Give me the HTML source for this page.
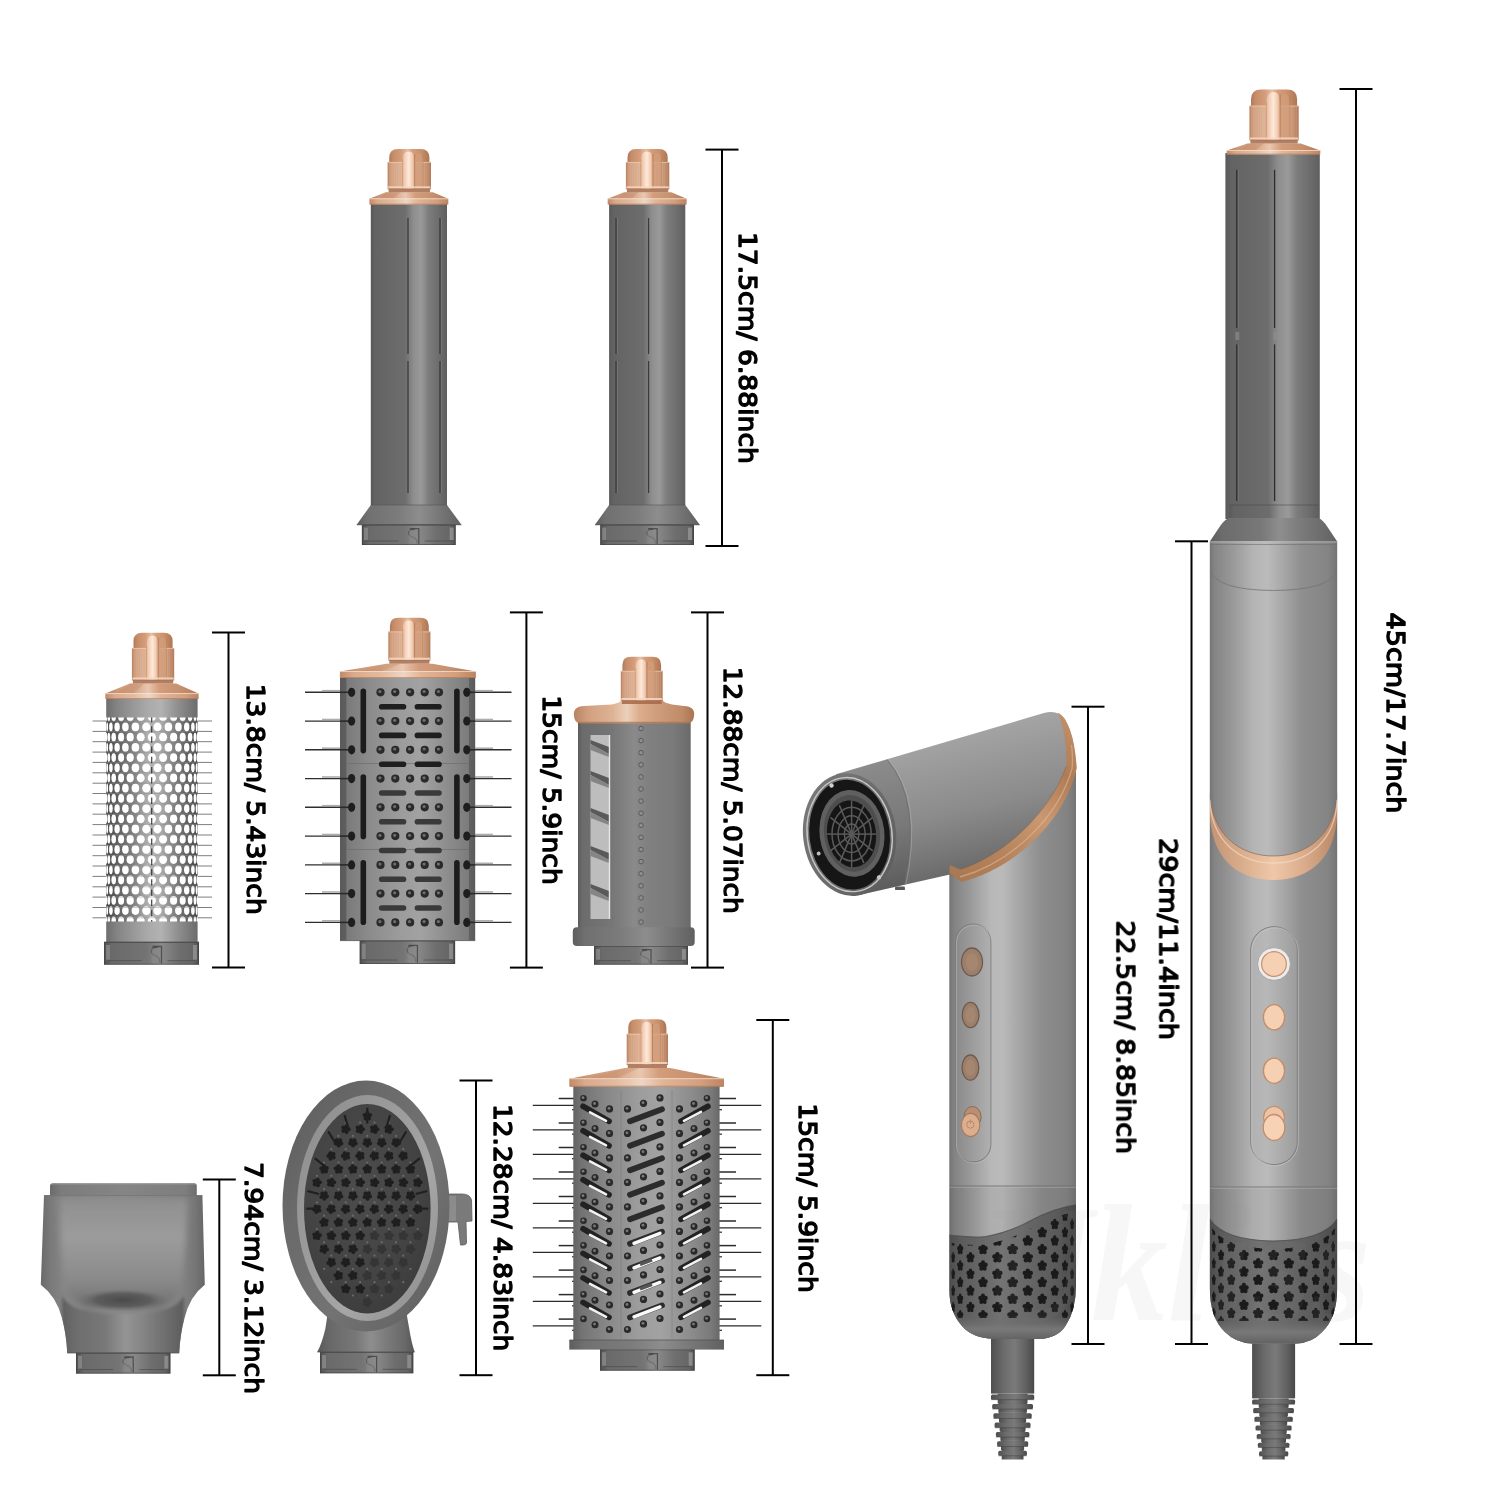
<!DOCTYPE html>
<html lang="en"><head><meta charset="utf-8"><title>Hair styler attachment dimensions</title>
<style>
html,body{margin:0;padding:0;background:#fff}
body{width:1500px;height:1500px;overflow:hidden}
svg{display:block}
.lbl{font-family:"DejaVu Sans","Liberation Sans",sans-serif;font-weight:400;fill:#000;stroke:#000;stroke-width:1.4px;stroke-linejoin:round}
#dims{opacity:.999}
.wm{font-family:"Liberation Serif","DejaVu Serif",serif;font-style:italic;font-weight:700}
</style></head><body>
<svg width="1500" height="1500" viewBox="0 0 1500 1500">
<defs>
<linearGradient id="gB" x1="0" y1="0" x2="1" y2="0"><stop offset="0" stop-color="#595959"/><stop offset="0.06" stop-color="#636363"/><stop offset="0.45" stop-color="#6d6d6d"/><stop offset="0.56" stop-color="#8e8e8e"/><stop offset="0.66" stop-color="#9a9a9a"/><stop offset="0.76" stop-color="#7c7c7c"/><stop offset="0.9" stop-color="#6c6c6c"/><stop offset="1" stop-color="#5f5f5f"/></linearGradient>
<linearGradient id="gM" x1="0" y1="0" x2="1" y2="0"><stop offset="0" stop-color="#5e5e5e"/><stop offset="0.1" stop-color="#707070"/><stop offset="0.4" stop-color="#7c7c7c"/><stop offset="0.6" stop-color="#8d8d8d"/><stop offset="0.8" stop-color="#767676"/><stop offset="1" stop-color="#606060"/></linearGradient>
<linearGradient id="gC" x1="0" y1="0" x2="1" y2="0"><stop offset="0" stop-color="#4f4f4f"/><stop offset="0.08" stop-color="#6a6a6a"/><stop offset="0.45" stop-color="#747474"/><stop offset="0.6" stop-color="#8a8a8a"/><stop offset="0.8" stop-color="#6e6e6e"/><stop offset="0.94" stop-color="#666"/><stop offset="1" stop-color="#4c4c4c"/></linearGradient>
<linearGradient id="cu" x1="0" y1="0" x2="1" y2="0"><stop offset="0" stop-color="#b88260"/><stop offset="0.12" stop-color="#d2a080"/><stop offset="0.32" stop-color="#deb294"/><stop offset="0.44" stop-color="#ecd0ba"/><stop offset="0.55" stop-color="#dcac8b"/><stop offset="0.75" stop-color="#ca9777"/><stop offset="0.9" stop-color="#c08c67"/><stop offset="1" stop-color="#a97351"/></linearGradient>
<linearGradient id="gH" x1="0" y1="0" x2="1" y2="0"><stop offset="0" stop-color="#747474"/><stop offset="0.04" stop-color="#838383"/><stop offset="0.18" stop-color="#9c9c9c"/><stop offset="0.33" stop-color="#b8b8b8"/><stop offset="0.42" stop-color="#bababa"/><stop offset="0.54" stop-color="#a8a8a8"/><stop offset="0.72" stop-color="#8e8e8e"/><stop offset="0.93" stop-color="#838383"/><stop offset="1" stop-color="#757575"/></linearGradient>
<linearGradient id="gS" x1="0" y1="0" x2="1" y2="0"><stop offset="0" stop-color="#767676"/><stop offset="0.04" stop-color="#858585"/><stop offset="0.2" stop-color="#9c9c9c"/><stop offset="0.34" stop-color="#b4b4b4"/><stop offset="0.45" stop-color="#bbbbbb"/><stop offset="0.56" stop-color="#aaaaaa"/><stop offset="0.72" stop-color="#8f8f8f"/><stop offset="0.93" stop-color="#848484"/><stop offset="1" stop-color="#747474"/></linearGradient>
<linearGradient id="gF" x1="0" y1="0" x2="1" y2="0"><stop offset="0" stop-color="#4d4d4d"/><stop offset="0.1" stop-color="#5c5c5c"/><stop offset="0.4" stop-color="#727272"/><stop offset="0.55" stop-color="#6a6a6a"/><stop offset="0.85" stop-color="#5a5a5a"/><stop offset="1" stop-color="#484848"/></linearGradient>
<linearGradient id="gK" x1="0" y1="0" x2="1" y2="0"><stop offset="0" stop-color="#4e4e4e"/><stop offset="0.3" stop-color="#6c6c6c"/><stop offset="0.55" stop-color="#7a7a7a"/><stop offset="0.8" stop-color="#626262"/><stop offset="1" stop-color="#484848"/></linearGradient>
<linearGradient id="cuD" x1="0" y1="0" x2="1" y2="0"><stop offset="0" stop-color="#b27958"/><stop offset="0.1" stop-color="#c68d6a"/><stop offset="0.3" stop-color="#d49c79"/><stop offset="0.46" stop-color="#e6bfa4"/><stop offset="0.58" stop-color="#d69f7c"/><stop offset="0.8" stop-color="#c78f6a"/><stop offset="1" stop-color="#af7653"/></linearGradient>
<linearGradient id="cuK" x1="0" y1="0" x2="1" y2="0"><stop offset="0" stop-color="#bb8361"/><stop offset="0.08" stop-color="#d19f7f"/><stop offset="0.3" stop-color="#ddb093"/><stop offset="0.62" stop-color="#d6a687"/><stop offset="0.85" stop-color="#cb9878"/><stop offset="1" stop-color="#b37b59"/></linearGradient>
<linearGradient id="cuR" x1="0" y1="0" x2="1" y2="0"><stop offset="0" stop-color="#e9bc9e"/><stop offset="0.25" stop-color="#f6d5bf"/><stop offset="0.5" stop-color="#fde9da"/><stop offset="0.8" stop-color="#f3cdb3"/><stop offset="1" stop-color="#dba787"/></linearGradient>
<linearGradient id="cuF" x1="0" y1="0" x2="1" y2="0"><stop offset="0" stop-color="#b77e5b"/><stop offset="0.12" stop-color="#cd9877"/><stop offset="0.3" stop-color="#d5a383"/><stop offset="0.46" stop-color="#e9c7af"/><stop offset="0.58" stop-color="#d39d7c"/><stop offset="0.8" stop-color="#c6916f"/><stop offset="1" stop-color="#b37a57"/></linearGradient>
<linearGradient id="cuE" x1="0" y1="0" x2="1" y2="0"><stop offset="0" stop-color="#c18a68"/><stop offset="0.1" stop-color="#daaa8c"/><stop offset="0.3" stop-color="#e3ba9f"/><stop offset="0.47" stop-color="#eed5c3"/><stop offset="0.6" stop-color="#e1b597"/><stop offset="0.85" stop-color="#d39f7e"/><stop offset="1" stop-color="#bc8462"/></linearGradient>
<linearGradient id="mSkin" x1="0" y1="0" x2="1" y2="0"><stop offset="0" stop-color="#4a4a4a"/><stop offset="0.1" stop-color="#5c5c5c"/><stop offset="0.3" stop-color="#808080"/><stop offset="0.47" stop-color="#b4b4b4"/><stop offset="0.58" stop-color="#b0b0b0"/><stop offset="0.75" stop-color="#808080"/><stop offset="0.9" stop-color="#5e5e5e"/><stop offset="1" stop-color="#484848"/></linearGradient>
<linearGradient id="mBand" x1="0" y1="0" x2="1" y2="0"><stop offset="0" stop-color="#6e6e6e"/><stop offset="0.12" stop-color="#848484"/><stop offset="0.45" stop-color="#a9a9a9"/><stop offset="0.6" stop-color="#b2b2b2"/><stop offset="0.8" stop-color="#8c8c8c"/><stop offset="1" stop-color="#6c6c6c"/></linearGradient>
<linearGradient id="pB" x1="0" y1="0" x2="1" y2="0"><stop offset="0" stop-color="#5a5a5a"/><stop offset="0.045" stop-color="#5e5e5e"/><stop offset="0.05" stop-color="#7a7a7a"/><stop offset="0.2" stop-color="#8a8a8a"/><stop offset="0.45" stop-color="#9c9c9c"/><stop offset="0.6" stop-color="#a2a2a2"/><stop offset="0.8" stop-color="#8c8c8c"/><stop offset="0.95" stop-color="#7c7c7c"/><stop offset="0.955" stop-color="#626262"/><stop offset="1" stop-color="#5a5a5a"/></linearGradient>
<linearGradient id="sB" x1="0" y1="0" x2="1" y2="0"><stop offset="0" stop-color="#5c5c5c"/><stop offset="0.04" stop-color="#6c6c6c"/><stop offset="0.3" stop-color="#767676"/><stop offset="0.5" stop-color="#8a8a8a"/><stop offset="0.62" stop-color="#808080"/><stop offset="0.85" stop-color="#7a7a7a"/><stop offset="1" stop-color="#6a6a6a"/></linearGradient>
<linearGradient id="nzLip" x1="0" y1="0" x2="1" y2="0"><stop offset="0" stop-color="#6c6c6c"/><stop offset="0.08" stop-color="#7c7c7c"/><stop offset="0.5" stop-color="#858585"/><stop offset="0.92" stop-color="#7e7e7e"/><stop offset="1" stop-color="#6e6e6e"/></linearGradient>
<linearGradient id="nzB" x1="0" y1="0" x2="1" y2="0"><stop offset="0" stop-color="#6a6a6a"/><stop offset="0.06" stop-color="#7a7a7a"/><stop offset="0.14" stop-color="#858585"/><stop offset="0.5" stop-color="#8a8a8a"/><stop offset="0.86" stop-color="#828282"/><stop offset="0.94" stop-color="#767676"/><stop offset="1" stop-color="#666"/></linearGradient>
<linearGradient id="nzFace" x1="0" y1="0" x2="0" y2="1"><stop offset="0" stop-color="#8f8f8f"/><stop offset=".35" stop-color="#9c9c9c"/><stop offset=".75" stop-color="#8a8a8a"/><stop offset="1" stop-color="#6e6e6e"/></linearGradient>
<filter id="bl3" x="-10%" y="-10%" width="120%" height="120%"><feGaussianBlur stdDeviation="3"/></filter>
<filter id="bl15" x="-10%" y="-10%" width="120%" height="120%"><feGaussianBlur stdDeviation="1.5"/></filter>
<clipPath id="nzClip"><path d="M44 1195.2 L202.4 1195.2 L204.8 1284.8 Q190 1296 184.5 1318 Q180 1335 179.2 1352.8 L67.2 1352.8 Q66.5 1335 62 1318 Q56 1296 40.8 1284.8 Z"/></clipPath>
<radialGradient id="nzSh" cx=".5" cy=".5" r=".5"><stop offset="0" stop-color="#4a4a4a"/><stop offset=".6" stop-color="#585858" stop-opacity=".85"/><stop offset="1" stop-color="#707070" stop-opacity="0"/></radialGradient>
<linearGradient id="nzN" x1="0" y1="0" x2="1" y2="0"><stop offset="0" stop-color="#5e5e5e"/><stop offset="0.1" stop-color="#6c6c6c"/><stop offset="0.35" stop-color="#787878"/><stop offset="0.52" stop-color="#949494"/><stop offset="0.65" stop-color="#868686"/><stop offset="0.85" stop-color="#6e6e6e"/><stop offset="1" stop-color="#5c5c5c"/></linearGradient>
<linearGradient id="dfN" x1="0" y1="0" x2="1" y2="0"><stop offset="0" stop-color="#585858"/><stop offset="0.12" stop-color="#686868"/><stop offset="0.4" stop-color="#787878"/><stop offset="0.55" stop-color="#8e8e8e"/><stop offset="0.7" stop-color="#7c7c7c"/><stop offset="0.9" stop-color="#686868"/><stop offset="1" stop-color="#565656"/></linearGradient>
<linearGradient id="dfRim" x1="0" y1="0" x2="1" y2="1"><stop offset="0" stop-color="#5c5c5c"/><stop offset=".3" stop-color="#6a6a6a"/><stop offset=".6" stop-color="#737373"/><stop offset="1" stop-color="#5e5e5e"/></linearGradient>
<linearGradient id="dfBev" x1="0" y1="0" x2="1" y2="1"><stop offset="0" stop-color="#8c8c8c"/><stop offset=".35" stop-color="#9a9a9a"/><stop offset=".65" stop-color="#a6a6a6"/><stop offset="1" stop-color="#8a8a8a"/></linearGradient>
<radialGradient id="dfPad" cx=".45" cy=".4" r=".7"><stop offset="0" stop-color="#4c4c4c"/><stop offset=".6" stop-color="#444"/><stop offset="1" stop-color="#3a3a3a"/></radialGradient>
<clipPath id="dfClip"><ellipse cx="367.3" cy="1208.7" rx="60" ry="101"/></clipPath>
<linearGradient id="rB" x1="0" y1="0" x2="1" y2="0"><stop offset="0" stop-color="#636363"/><stop offset="0.06" stop-color="#747474"/><stop offset="0.25" stop-color="#8a8a8a"/><stop offset="0.45" stop-color="#9d9d9d"/><stop offset="0.6" stop-color="#a2a2a2"/><stop offset="0.8" stop-color="#8d8d8d"/><stop offset="0.94" stop-color="#7a7a7a"/><stop offset="1" stop-color="#686868"/></linearGradient>
<clipPath id="dhClip"><path d="M949.3 800 L1076.0 766 L1076.0 1285 Q1076.0 1310 1066 1325 Q1058 1338.6 1038 1339 L994 1339 Q972 1338 962 1326 Q949.3 1312 949.3 1290 Z"/></clipPath>
<clipPath id="dfilt"><path d="M951.3 1243 Q970 1246 986 1244.5 Q1010 1240 1030 1229 Q1054 1216 1074.0 1212 L1074.0 1318 L951.3 1318 Z"/></clipPath>
<linearGradient id="dLip" x1="0" y1="0" x2="0" y2="1"><stop offset="0" stop-color="#6a6a6a" stop-opacity="0"/><stop offset=".5" stop-color="#7a7a7a" stop-opacity=".9"/><stop offset="1" stop-color="#5c5c5c"/></linearGradient>
<linearGradient id="dHead" gradientUnits="userSpaceOnUse" x1="935" y1="742" x2="968" y2="884"><stop offset="0" stop-color="#a3a3a3"/><stop offset=".18" stop-color="#9a9a9a"/><stop offset=".5" stop-color="#8b8b8b"/><stop offset=".8" stop-color="#747474"/><stop offset="1" stop-color="#626262"/></linearGradient>
<linearGradient id="dTrim" gradientUnits="userSpaceOnUse" x1="1076" y1="720" x2="955" y2="880"><stop offset="0" stop-color="#c49068"/><stop offset=".25" stop-color="#b07c56"/><stop offset=".5" stop-color="#c99871"/><stop offset=".75" stop-color="#b5835c"/><stop offset="1" stop-color="#a87852"/></linearGradient>
<linearGradient id="dFace" x1="0" y1="0" x2="1" y2="1"><stop offset="0" stop-color="#7c7c7c"/><stop offset=".5" stop-color="#6c6c6c"/><stop offset="1" stop-color="#5a5a5a"/></linearGradient>
<linearGradient id="stSh" x1="0" y1="0" x2="1" y2="0"><stop offset="0" stop-color="#5e5e5e"/><stop offset="0.1" stop-color="#6c6c6c"/><stop offset="0.4" stop-color="#787878"/><stop offset="0.55" stop-color="#8e8e8e"/><stop offset="0.7" stop-color="#7c7c7c"/><stop offset="1" stop-color="#626262"/></linearGradient>
<clipPath id="stClip"><path d="M1209.8 541 L1337.2 541 L1337.2 1288 Q1337.2 1318 1322 1332 Q1312 1343 1296 1343.5 L1252 1343.5 Q1236 1343 1225 1332 Q1209.8 1318 1209.8 1288 Z"/></clipPath>
<linearGradient id="stBand" x1="0" y1="0" x2="1" y2="0"><stop offset="0" stop-color="#c39372"/><stop offset=".25" stop-color="#d9ad8c"/><stop offset=".5" stop-color="#efc8a8"/><stop offset=".75" stop-color="#d9ab8a"/><stop offset="1" stop-color="#b98865"/></linearGradient>
<clipPath id="sfilt"><path d="M1211.8 1228 Q1225.8 1248.5 1273.5 1249 Q1321.2 1248.5 1335.2 1228 L1335.2 1321 L1211.8 1321 Z"/></clipPath>
</defs>
<rect width="1500" height="1500" fill="#fff"/>
<g id="barrel1">
<rect x="370.8" y="203.6" width="76.2" height="301.4" fill="url(#gB)"/>
<line x1="408.0" y1="218.0" x2="408.0" y2="354.0" stroke="#3a3a3a" stroke-width="1.3"/>
<line x1="409.4" y1="218.0" x2="409.4" y2="354.0" stroke="#8a8a8a" stroke-width="0.8" opacity=".6"/>
<line x1="408.0" y1="361.0" x2="408.0" y2="493.0" stroke="#3a3a3a" stroke-width="1.3"/>
<line x1="409.4" y1="361.0" x2="409.4" y2="493.0" stroke="#8a8a8a" stroke-width="0.8" opacity=".6"/>
<line x1="440.0" y1="218.0" x2="440.0" y2="354.0" stroke="#3a3a3a" stroke-width="1.3"/>
<line x1="441.4" y1="218.0" x2="441.4" y2="354.0" stroke="#8a8a8a" stroke-width="0.8" opacity=".6"/>
<line x1="440.0" y1="361.0" x2="440.0" y2="493.0" stroke="#3a3a3a" stroke-width="1.3"/>
<line x1="441.4" y1="361.0" x2="441.4" y2="493.0" stroke="#8a8a8a" stroke-width="0.8" opacity=".6"/>
<path d="M370.8 505.0 L447.0 505.0 L461.3 524.6 L356.8 524.6 Z" fill="url(#gM)"/>
<line x1="370.8" y1="505.0" x2="447.0" y2="505.0" stroke="#555" stroke-width="1" opacity=".6"/>
<rect x="361.9" y="524.6" width="93.8" height="20.4" fill="url(#gC)"/>
<rect x="362.4" y="525.1" width="92.8" height="19.4" fill="none" stroke="#3e3e3e" stroke-width="1" opacity=".55"/>
<path d="M414.8 529.1 q-6 0 -6 4.1 q0 3.1 5 4.1 q4 2.4 3 6.1" fill="none" stroke="#444" stroke-width="1.3" opacity=".8"/>
<path d="M409.8 528.7 h9 v15.3" fill="none" stroke="#444" stroke-width="1.3" opacity=".8"/>
<rect x="408.8" y="530.3" width="9.0" height="13.5" fill="#8a8a8a" opacity=".6"/>
<line x1="365.9" y1="541.0" x2="398.8" y2="541.0" stroke="#444" stroke-width="1" opacity=".6"/>
<line x1="424.8" y1="541.0" x2="451.7" y2="541.0" stroke="#444" stroke-width="1" opacity=".6"/>
<rect x="363.9" y="527.6" width="4.0" height="12.4" fill="#9a9a9a" opacity=".6"/>
<rect x="449.7" y="527.6" width="4.0" height="12.4" fill="#a6a6a6" opacity=".6"/>
<line x1="356.8" y1="524.6" x2="461.3" y2="524.6" stroke="#4a4a4a" stroke-width="1.2" opacity=".8"/>
<path d="M385.6 192.3 L433.0 192.3 L448.3 198.8 L369.4 198.8 Z" fill="url(#cuF)"/>
<path d="M386.6 192.3 L400.6 192.3 L393.1 198.8 L378.9 198.8 Z" fill="#c18865" opacity=".35"/>
<rect x="369.4" y="198.5" width="78.9" height="6.1" fill="url(#cuE)"/>
<line x1="369.4" y1="198.8" x2="448.3" y2="198.8" stroke="#fbe4d4" stroke-width="0.9" opacity=".75"/>
<line x1="370.4" y1="204.1" x2="447.3" y2="204.1" stroke="#a56c4c" stroke-width="1" opacity=".55"/>
<path d="M389.2 163.0 L389.2 157.7 Q389.2 149.0 397.9 149.0 L420.7 149.0 Q429.4 149.0 429.4 157.7 L429.4 163.0 Z" fill="url(#cuD)"/>
<rect x="387.6" y="162.0" width="43.4" height="27.3" fill="url(#cuK)"/>
<line x1="389.9" y1="163.0" x2="389.9" y2="187.3" stroke="#fff" stroke-width="0.5" opacity=".16"/>
<line x1="392.2" y1="163.0" x2="392.2" y2="187.3" stroke="#fff" stroke-width="0.5" opacity=".16"/>
<line x1="394.5" y1="163.0" x2="394.5" y2="187.3" stroke="#fff" stroke-width="0.5" opacity=".16"/>
<line x1="396.7" y1="163.0" x2="396.7" y2="187.3" stroke="#fff" stroke-width="0.5" opacity=".16"/>
<line x1="399.0" y1="163.0" x2="399.0" y2="187.3" stroke="#fff" stroke-width="0.5" opacity=".16"/>
<line x1="401.3" y1="163.0" x2="401.3" y2="187.3" stroke="#fff" stroke-width="0.5" opacity=".16"/>
<line x1="403.6" y1="163.0" x2="403.6" y2="187.3" stroke="#fff" stroke-width="0.5" opacity=".16"/>
<line x1="405.9" y1="163.0" x2="405.9" y2="187.3" stroke="#fff" stroke-width="0.5" opacity=".16"/>
<line x1="408.2" y1="163.0" x2="408.2" y2="187.3" stroke="#fff" stroke-width="0.5" opacity=".16"/>
<line x1="410.4" y1="163.0" x2="410.4" y2="187.3" stroke="#fff" stroke-width="0.5" opacity=".16"/>
<line x1="412.7" y1="163.0" x2="412.7" y2="187.3" stroke="#fff" stroke-width="0.5" opacity=".16"/>
<line x1="415.0" y1="163.0" x2="415.0" y2="187.3" stroke="#fff" stroke-width="0.5" opacity=".16"/>
<line x1="417.3" y1="163.0" x2="417.3" y2="187.3" stroke="#fff" stroke-width="0.5" opacity=".16"/>
<line x1="419.6" y1="163.0" x2="419.6" y2="187.3" stroke="#fff" stroke-width="0.5" opacity=".16"/>
<line x1="421.9" y1="163.0" x2="421.9" y2="187.3" stroke="#fff" stroke-width="0.5" opacity=".16"/>
<line x1="424.1" y1="163.0" x2="424.1" y2="187.3" stroke="#fff" stroke-width="0.5" opacity=".16"/>
<line x1="426.4" y1="163.0" x2="426.4" y2="187.3" stroke="#fff" stroke-width="0.5" opacity=".16"/>
<line x1="428.7" y1="163.0" x2="428.7" y2="187.3" stroke="#fff" stroke-width="0.5" opacity=".16"/>
<line x1="387.6" y1="162.4" x2="431.0" y2="162.4" stroke="#f6d6c0" stroke-width="0.9" opacity=".7"/>
<path d="M414.9 188.3 L414.9 159.4 Q414.9 153.0 418.8 153.0 Q422.8 153.0 422.8 159.4 L422.8 188.3 Z" fill="#d39d7b" opacity=".75"/>
<path d="M402.8 189.3 L402.8 158.7 Q402.8 151.6 408.6 151.6 Q414.5 151.6 414.5 158.7 L414.5 189.3 Z" fill="url(#cuR)"/>
<line x1="414.7" y1="154.0" x2="414.7" y2="189.3" stroke="#b07654" stroke-width="1" opacity=".75"/>
<line x1="402.6" y1="159.4" x2="402.6" y2="189.3" stroke="#c48c69" stroke-width="0.9" opacity=".6"/>
<line x1="423.0" y1="155.0" x2="423.0" y2="189.3" stroke="#b98360" stroke-width="0.9" opacity=".55"/>
<rect x="388.1" y="186.3" width="42.4" height="2.2" fill="#f6d8c2" opacity=".85"/>
<rect x="388.6" y="188.5" width="41.4" height="3.8" fill="#a4694a" opacity=".85"/>
</g>
<g id="barrel2">
<rect x="609.1" y="203.6" width="76.2" height="301.4" fill="url(#gB)"/>
<line x1="648.6" y1="218.0" x2="648.6" y2="354.0" stroke="#3a3a3a" stroke-width="1.3"/>
<line x1="650.0" y1="218.0" x2="650.0" y2="354.0" stroke="#8a8a8a" stroke-width="0.8" opacity=".6"/>
<line x1="648.6" y1="361.0" x2="648.6" y2="493.0" stroke="#3a3a3a" stroke-width="1.3"/>
<line x1="650.0" y1="361.0" x2="650.0" y2="493.0" stroke="#8a8a8a" stroke-width="0.8" opacity=".6"/>
<line x1="616.0" y1="218.0" x2="616.0" y2="354.0" stroke="#3a3a3a" stroke-width="1.3"/>
<line x1="617.4" y1="218.0" x2="617.4" y2="354.0" stroke="#8a8a8a" stroke-width="0.8" opacity=".6"/>
<line x1="616.0" y1="361.0" x2="616.0" y2="493.0" stroke="#3a3a3a" stroke-width="1.3"/>
<line x1="617.4" y1="361.0" x2="617.4" y2="493.0" stroke="#8a8a8a" stroke-width="0.8" opacity=".6"/>
<path d="M609.1 505.0 L685.3 505.0 L699.6 524.6 L595.1 524.6 Z" fill="url(#gM)"/>
<line x1="609.1" y1="505.0" x2="685.3" y2="505.0" stroke="#555" stroke-width="1" opacity=".6"/>
<rect x="600.2" y="524.6" width="93.8" height="20.4" fill="url(#gC)"/>
<rect x="600.7" y="525.1" width="92.8" height="19.4" fill="none" stroke="#3e3e3e" stroke-width="1" opacity=".55"/>
<path d="M653.1 529.1 q-6 0 -6 4.1 q0 3.1 5 4.1 q4 2.4 3 6.1" fill="none" stroke="#444" stroke-width="1.3" opacity=".8"/>
<path d="M648.1 528.7 h9 v15.3" fill="none" stroke="#444" stroke-width="1.3" opacity=".8"/>
<rect x="647.1" y="530.3" width="9.0" height="13.5" fill="#8a8a8a" opacity=".6"/>
<line x1="604.2" y1="541.0" x2="637.1" y2="541.0" stroke="#444" stroke-width="1" opacity=".6"/>
<line x1="663.1" y1="541.0" x2="690.0" y2="541.0" stroke="#444" stroke-width="1" opacity=".6"/>
<rect x="602.2" y="527.6" width="4.0" height="12.4" fill="#9a9a9a" opacity=".6"/>
<rect x="688.0" y="527.6" width="4.0" height="12.4" fill="#a6a6a6" opacity=".6"/>
<line x1="595.1" y1="524.6" x2="699.6" y2="524.6" stroke="#4a4a4a" stroke-width="1.2" opacity=".8"/>
<path d="M623.9 192.3 L671.3 192.3 L686.6 198.8 L607.7 198.8 Z" fill="url(#cuF)"/>
<path d="M624.9 192.3 L638.9 192.3 L631.4 198.8 L617.2 198.8 Z" fill="#c18865" opacity=".35"/>
<rect x="607.7" y="198.5" width="78.9" height="6.1" fill="url(#cuE)"/>
<line x1="607.7" y1="198.8" x2="686.6" y2="198.8" stroke="#fbe4d4" stroke-width="0.9" opacity=".75"/>
<line x1="608.7" y1="204.1" x2="685.6" y2="204.1" stroke="#a56c4c" stroke-width="1" opacity=".55"/>
<path d="M627.5 163.0 L627.5 157.7 Q627.5 149.0 636.2 149.0 L659.0 149.0 Q667.7 149.0 667.7 157.7 L667.7 163.0 Z" fill="url(#cuD)"/>
<rect x="625.9" y="162.0" width="43.4" height="27.3" fill="url(#cuK)"/>
<line x1="628.2" y1="163.0" x2="628.2" y2="187.3" stroke="#fff" stroke-width="0.5" opacity=".16"/>
<line x1="630.5" y1="163.0" x2="630.5" y2="187.3" stroke="#fff" stroke-width="0.5" opacity=".16"/>
<line x1="632.8" y1="163.0" x2="632.8" y2="187.3" stroke="#fff" stroke-width="0.5" opacity=".16"/>
<line x1="635.0" y1="163.0" x2="635.0" y2="187.3" stroke="#fff" stroke-width="0.5" opacity=".16"/>
<line x1="637.3" y1="163.0" x2="637.3" y2="187.3" stroke="#fff" stroke-width="0.5" opacity=".16"/>
<line x1="639.6" y1="163.0" x2="639.6" y2="187.3" stroke="#fff" stroke-width="0.5" opacity=".16"/>
<line x1="641.9" y1="163.0" x2="641.9" y2="187.3" stroke="#fff" stroke-width="0.5" opacity=".16"/>
<line x1="644.2" y1="163.0" x2="644.2" y2="187.3" stroke="#fff" stroke-width="0.5" opacity=".16"/>
<line x1="646.5" y1="163.0" x2="646.5" y2="187.3" stroke="#fff" stroke-width="0.5" opacity=".16"/>
<line x1="648.7" y1="163.0" x2="648.7" y2="187.3" stroke="#fff" stroke-width="0.5" opacity=".16"/>
<line x1="651.0" y1="163.0" x2="651.0" y2="187.3" stroke="#fff" stroke-width="0.5" opacity=".16"/>
<line x1="653.3" y1="163.0" x2="653.3" y2="187.3" stroke="#fff" stroke-width="0.5" opacity=".16"/>
<line x1="655.6" y1="163.0" x2="655.6" y2="187.3" stroke="#fff" stroke-width="0.5" opacity=".16"/>
<line x1="657.9" y1="163.0" x2="657.9" y2="187.3" stroke="#fff" stroke-width="0.5" opacity=".16"/>
<line x1="660.2" y1="163.0" x2="660.2" y2="187.3" stroke="#fff" stroke-width="0.5" opacity=".16"/>
<line x1="662.4" y1="163.0" x2="662.4" y2="187.3" stroke="#fff" stroke-width="0.5" opacity=".16"/>
<line x1="664.7" y1="163.0" x2="664.7" y2="187.3" stroke="#fff" stroke-width="0.5" opacity=".16"/>
<line x1="667.0" y1="163.0" x2="667.0" y2="187.3" stroke="#fff" stroke-width="0.5" opacity=".16"/>
<line x1="625.9" y1="162.4" x2="669.3" y2="162.4" stroke="#f6d6c0" stroke-width="0.9" opacity=".7"/>
<path d="M653.2 188.3 L653.2 159.4 Q653.2 153.0 657.1 153.0 Q661.1 153.0 661.1 159.4 L661.1 188.3 Z" fill="#d39d7b" opacity=".75"/>
<path d="M641.1 189.3 L641.1 158.7 Q641.1 151.6 646.9 151.6 Q652.8 151.6 652.8 158.7 L652.8 189.3 Z" fill="url(#cuR)"/>
<line x1="653.0" y1="154.0" x2="653.0" y2="189.3" stroke="#b07654" stroke-width="1" opacity=".75"/>
<line x1="640.9" y1="159.4" x2="640.9" y2="189.3" stroke="#c48c69" stroke-width="0.9" opacity=".6"/>
<line x1="661.3" y1="155.0" x2="661.3" y2="189.3" stroke="#b98360" stroke-width="0.9" opacity=".55"/>
<rect x="626.4" y="186.3" width="42.4" height="2.2" fill="#f6d8c2" opacity=".85"/>
<rect x="626.9" y="188.5" width="41.4" height="3.8" fill="#a4694a" opacity=".85"/>
</g>
<g id="meshbrush">
<line x1="92.5" y1="721.0" x2="212.0" y2="721.0" stroke="#7e7e7e" stroke-width="1"/>
<line x1="92.5" y1="731.4" x2="212.0" y2="731.4" stroke="#7e7e7e" stroke-width="1"/>
<line x1="92.5" y1="741.7" x2="212.0" y2="741.7" stroke="#7e7e7e" stroke-width="1"/>
<line x1="92.5" y1="752.1" x2="212.0" y2="752.1" stroke="#7e7e7e" stroke-width="1"/>
<line x1="92.5" y1="762.4" x2="212.0" y2="762.4" stroke="#7e7e7e" stroke-width="1"/>
<line x1="92.5" y1="772.8" x2="212.0" y2="772.8" stroke="#7e7e7e" stroke-width="1"/>
<line x1="92.5" y1="783.2" x2="212.0" y2="783.2" stroke="#7e7e7e" stroke-width="1"/>
<line x1="92.5" y1="793.5" x2="212.0" y2="793.5" stroke="#7e7e7e" stroke-width="1"/>
<line x1="92.5" y1="803.9" x2="212.0" y2="803.9" stroke="#7e7e7e" stroke-width="1"/>
<line x1="92.5" y1="814.2" x2="212.0" y2="814.2" stroke="#7e7e7e" stroke-width="1"/>
<line x1="92.5" y1="824.6" x2="212.0" y2="824.6" stroke="#7e7e7e" stroke-width="1"/>
<line x1="92.5" y1="835.0" x2="212.0" y2="835.0" stroke="#7e7e7e" stroke-width="1"/>
<line x1="92.5" y1="845.3" x2="212.0" y2="845.3" stroke="#7e7e7e" stroke-width="1"/>
<line x1="92.5" y1="855.7" x2="212.0" y2="855.7" stroke="#7e7e7e" stroke-width="1"/>
<line x1="92.5" y1="866.0" x2="212.0" y2="866.0" stroke="#7e7e7e" stroke-width="1"/>
<line x1="92.5" y1="876.4" x2="212.0" y2="876.4" stroke="#7e7e7e" stroke-width="1"/>
<line x1="92.5" y1="886.8" x2="212.0" y2="886.8" stroke="#7e7e7e" stroke-width="1"/>
<line x1="92.5" y1="897.1" x2="212.0" y2="897.1" stroke="#7e7e7e" stroke-width="1"/>
<line x1="92.5" y1="907.5" x2="212.0" y2="907.5" stroke="#7e7e7e" stroke-width="1"/>
<line x1="92.5" y1="917.8" x2="212.0" y2="917.8" stroke="#7e7e7e" stroke-width="1"/>
<rect x="106.2" y="716.0" width="91.4" height="207.0" fill="url(#mSkin)"/>
<g fill="#fff">
<ellipse cx="106.4" cy="716.8" rx="0.7" ry="4.4"/>
<ellipse cx="108.8" cy="716.8" rx="1.4" ry="4.4"/>
<ellipse cx="113.7" cy="716.8" rx="2.3" ry="4.4"/>
<ellipse cx="121.1" cy="716.8" rx="3.0" ry="4.4"/>
<ellipse cx="130.2" cy="716.8" rx="3.6" ry="4.4"/>
<ellipse cx="140.7" cy="716.8" rx="4.0" ry="4.4"/>
<ellipse cx="151.9" cy="716.8" rx="4.1" ry="4.4"/>
<ellipse cx="163.1" cy="716.8" rx="4.0" ry="4.4"/>
<ellipse cx="173.6" cy="716.8" rx="3.6" ry="4.4"/>
<ellipse cx="182.7" cy="716.8" rx="3.0" ry="4.4"/>
<ellipse cx="190.1" cy="716.8" rx="2.3" ry="4.4"/>
<ellipse cx="195.0" cy="716.8" rx="1.4" ry="4.4"/>
<ellipse cx="197.4" cy="716.8" rx="0.7" ry="4.4"/>
<ellipse cx="107.2" cy="727.0" rx="0.9" ry="4.4"/>
<ellipse cx="110.9" cy="727.0" rx="1.8" ry="4.4"/>
<ellipse cx="117.1" cy="727.0" rx="2.7" ry="4.4"/>
<ellipse cx="125.4" cy="727.0" rx="3.3" ry="4.4"/>
<ellipse cx="135.4" cy="727.0" rx="3.8" ry="4.4"/>
<ellipse cx="146.3" cy="727.0" rx="4.1" ry="4.4"/>
<ellipse cx="157.5" cy="727.0" rx="4.1" ry="4.4"/>
<ellipse cx="168.4" cy="727.0" rx="3.8" ry="4.4"/>
<ellipse cx="178.4" cy="727.0" rx="3.3" ry="4.4"/>
<ellipse cx="186.7" cy="727.0" rx="2.7" ry="4.4"/>
<ellipse cx="192.9" cy="727.0" rx="1.8" ry="4.4"/>
<ellipse cx="196.6" cy="727.0" rx="0.9" ry="4.4"/>
<ellipse cx="106.4" cy="737.2" rx="0.7" ry="4.4"/>
<ellipse cx="108.8" cy="737.2" rx="1.4" ry="4.4"/>
<ellipse cx="113.7" cy="737.2" rx="2.3" ry="4.4"/>
<ellipse cx="121.1" cy="737.2" rx="3.0" ry="4.4"/>
<ellipse cx="130.2" cy="737.2" rx="3.6" ry="4.4"/>
<ellipse cx="140.7" cy="737.2" rx="4.0" ry="4.4"/>
<ellipse cx="151.9" cy="737.2" rx="4.1" ry="4.4"/>
<ellipse cx="163.1" cy="737.2" rx="4.0" ry="4.4"/>
<ellipse cx="173.6" cy="737.2" rx="3.6" ry="4.4"/>
<ellipse cx="182.7" cy="737.2" rx="3.0" ry="4.4"/>
<ellipse cx="190.1" cy="737.2" rx="2.3" ry="4.4"/>
<ellipse cx="195.0" cy="737.2" rx="1.4" ry="4.4"/>
<ellipse cx="197.4" cy="737.2" rx="0.7" ry="4.4"/>
<ellipse cx="107.2" cy="747.4" rx="0.9" ry="4.4"/>
<ellipse cx="110.9" cy="747.4" rx="1.8" ry="4.4"/>
<ellipse cx="117.1" cy="747.4" rx="2.7" ry="4.4"/>
<ellipse cx="125.4" cy="747.4" rx="3.3" ry="4.4"/>
<ellipse cx="135.4" cy="747.4" rx="3.8" ry="4.4"/>
<ellipse cx="146.3" cy="747.4" rx="4.1" ry="4.4"/>
<ellipse cx="157.5" cy="747.4" rx="4.1" ry="4.4"/>
<ellipse cx="168.4" cy="747.4" rx="3.8" ry="4.4"/>
<ellipse cx="178.4" cy="747.4" rx="3.3" ry="4.4"/>
<ellipse cx="186.7" cy="747.4" rx="2.7" ry="4.4"/>
<ellipse cx="192.9" cy="747.4" rx="1.8" ry="4.4"/>
<ellipse cx="196.6" cy="747.4" rx="0.9" ry="4.4"/>
<ellipse cx="106.4" cy="757.6" rx="0.7" ry="4.4"/>
<ellipse cx="108.8" cy="757.6" rx="1.4" ry="4.4"/>
<ellipse cx="113.7" cy="757.6" rx="2.3" ry="4.4"/>
<ellipse cx="121.1" cy="757.6" rx="3.0" ry="4.4"/>
<ellipse cx="130.2" cy="757.6" rx="3.6" ry="4.4"/>
<ellipse cx="140.7" cy="757.6" rx="4.0" ry="4.4"/>
<ellipse cx="151.9" cy="757.6" rx="4.1" ry="4.4"/>
<ellipse cx="163.1" cy="757.6" rx="4.0" ry="4.4"/>
<ellipse cx="173.6" cy="757.6" rx="3.6" ry="4.4"/>
<ellipse cx="182.7" cy="757.6" rx="3.0" ry="4.4"/>
<ellipse cx="190.1" cy="757.6" rx="2.3" ry="4.4"/>
<ellipse cx="195.0" cy="757.6" rx="1.4" ry="4.4"/>
<ellipse cx="197.4" cy="757.6" rx="0.7" ry="4.4"/>
<ellipse cx="107.2" cy="767.8" rx="0.9" ry="4.4"/>
<ellipse cx="110.9" cy="767.8" rx="1.8" ry="4.4"/>
<ellipse cx="117.1" cy="767.8" rx="2.7" ry="4.4"/>
<ellipse cx="125.4" cy="767.8" rx="3.3" ry="4.4"/>
<ellipse cx="135.4" cy="767.8" rx="3.8" ry="4.4"/>
<ellipse cx="146.3" cy="767.8" rx="4.1" ry="4.4"/>
<ellipse cx="157.5" cy="767.8" rx="4.1" ry="4.4"/>
<ellipse cx="168.4" cy="767.8" rx="3.8" ry="4.4"/>
<ellipse cx="178.4" cy="767.8" rx="3.3" ry="4.4"/>
<ellipse cx="186.7" cy="767.8" rx="2.7" ry="4.4"/>
<ellipse cx="192.9" cy="767.8" rx="1.8" ry="4.4"/>
<ellipse cx="196.6" cy="767.8" rx="0.9" ry="4.4"/>
<ellipse cx="106.4" cy="778.0" rx="0.7" ry="4.4"/>
<ellipse cx="108.8" cy="778.0" rx="1.4" ry="4.4"/>
<ellipse cx="113.7" cy="778.0" rx="2.3" ry="4.4"/>
<ellipse cx="121.1" cy="778.0" rx="3.0" ry="4.4"/>
<ellipse cx="130.2" cy="778.0" rx="3.6" ry="4.4"/>
<ellipse cx="140.7" cy="778.0" rx="4.0" ry="4.4"/>
<ellipse cx="151.9" cy="778.0" rx="4.1" ry="4.4"/>
<ellipse cx="163.1" cy="778.0" rx="4.0" ry="4.4"/>
<ellipse cx="173.6" cy="778.0" rx="3.6" ry="4.4"/>
<ellipse cx="182.7" cy="778.0" rx="3.0" ry="4.4"/>
<ellipse cx="190.1" cy="778.0" rx="2.3" ry="4.4"/>
<ellipse cx="195.0" cy="778.0" rx="1.4" ry="4.4"/>
<ellipse cx="197.4" cy="778.0" rx="0.7" ry="4.4"/>
<ellipse cx="107.2" cy="788.2" rx="0.9" ry="4.4"/>
<ellipse cx="110.9" cy="788.2" rx="1.8" ry="4.4"/>
<ellipse cx="117.1" cy="788.2" rx="2.7" ry="4.4"/>
<ellipse cx="125.4" cy="788.2" rx="3.3" ry="4.4"/>
<ellipse cx="135.4" cy="788.2" rx="3.8" ry="4.4"/>
<ellipse cx="146.3" cy="788.2" rx="4.1" ry="4.4"/>
<ellipse cx="157.5" cy="788.2" rx="4.1" ry="4.4"/>
<ellipse cx="168.4" cy="788.2" rx="3.8" ry="4.4"/>
<ellipse cx="178.4" cy="788.2" rx="3.3" ry="4.4"/>
<ellipse cx="186.7" cy="788.2" rx="2.7" ry="4.4"/>
<ellipse cx="192.9" cy="788.2" rx="1.8" ry="4.4"/>
<ellipse cx="196.6" cy="788.2" rx="0.9" ry="4.4"/>
<ellipse cx="106.4" cy="798.4" rx="0.7" ry="4.4"/>
<ellipse cx="108.8" cy="798.4" rx="1.4" ry="4.4"/>
<ellipse cx="113.7" cy="798.4" rx="2.3" ry="4.4"/>
<ellipse cx="121.1" cy="798.4" rx="3.0" ry="4.4"/>
<ellipse cx="130.2" cy="798.4" rx="3.6" ry="4.4"/>
<ellipse cx="140.7" cy="798.4" rx="4.0" ry="4.4"/>
<ellipse cx="151.9" cy="798.4" rx="4.1" ry="4.4"/>
<ellipse cx="163.1" cy="798.4" rx="4.0" ry="4.4"/>
<ellipse cx="173.6" cy="798.4" rx="3.6" ry="4.4"/>
<ellipse cx="182.7" cy="798.4" rx="3.0" ry="4.4"/>
<ellipse cx="190.1" cy="798.4" rx="2.3" ry="4.4"/>
<ellipse cx="195.0" cy="798.4" rx="1.4" ry="4.4"/>
<ellipse cx="197.4" cy="798.4" rx="0.7" ry="4.4"/>
<ellipse cx="107.2" cy="808.6" rx="0.9" ry="4.4"/>
<ellipse cx="110.9" cy="808.6" rx="1.8" ry="4.4"/>
<ellipse cx="117.1" cy="808.6" rx="2.7" ry="4.4"/>
<ellipse cx="125.4" cy="808.6" rx="3.3" ry="4.4"/>
<ellipse cx="135.4" cy="808.6" rx="3.8" ry="4.4"/>
<ellipse cx="146.3" cy="808.6" rx="4.1" ry="4.4"/>
<ellipse cx="157.5" cy="808.6" rx="4.1" ry="4.4"/>
<ellipse cx="168.4" cy="808.6" rx="3.8" ry="4.4"/>
<ellipse cx="178.4" cy="808.6" rx="3.3" ry="4.4"/>
<ellipse cx="186.7" cy="808.6" rx="2.7" ry="4.4"/>
<ellipse cx="192.9" cy="808.6" rx="1.8" ry="4.4"/>
<ellipse cx="196.6" cy="808.6" rx="0.9" ry="4.4"/>
<ellipse cx="106.4" cy="818.8" rx="0.7" ry="4.4"/>
<ellipse cx="108.8" cy="818.8" rx="1.4" ry="4.4"/>
<ellipse cx="113.7" cy="818.8" rx="2.3" ry="4.4"/>
<ellipse cx="121.1" cy="818.8" rx="3.0" ry="4.4"/>
<ellipse cx="130.2" cy="818.8" rx="3.6" ry="4.4"/>
<ellipse cx="140.7" cy="818.8" rx="4.0" ry="4.4"/>
<ellipse cx="151.9" cy="818.8" rx="4.1" ry="4.4"/>
<ellipse cx="163.1" cy="818.8" rx="4.0" ry="4.4"/>
<ellipse cx="173.6" cy="818.8" rx="3.6" ry="4.4"/>
<ellipse cx="182.7" cy="818.8" rx="3.0" ry="4.4"/>
<ellipse cx="190.1" cy="818.8" rx="2.3" ry="4.4"/>
<ellipse cx="195.0" cy="818.8" rx="1.4" ry="4.4"/>
<ellipse cx="197.4" cy="818.8" rx="0.7" ry="4.4"/>
<ellipse cx="107.2" cy="829.0" rx="0.9" ry="4.4"/>
<ellipse cx="110.9" cy="829.0" rx="1.8" ry="4.4"/>
<ellipse cx="117.1" cy="829.0" rx="2.7" ry="4.4"/>
<ellipse cx="125.4" cy="829.0" rx="3.3" ry="4.4"/>
<ellipse cx="135.4" cy="829.0" rx="3.8" ry="4.4"/>
<ellipse cx="146.3" cy="829.0" rx="4.1" ry="4.4"/>
<ellipse cx="157.5" cy="829.0" rx="4.1" ry="4.4"/>
<ellipse cx="168.4" cy="829.0" rx="3.8" ry="4.4"/>
<ellipse cx="178.4" cy="829.0" rx="3.3" ry="4.4"/>
<ellipse cx="186.7" cy="829.0" rx="2.7" ry="4.4"/>
<ellipse cx="192.9" cy="829.0" rx="1.8" ry="4.4"/>
<ellipse cx="196.6" cy="829.0" rx="0.9" ry="4.4"/>
<ellipse cx="106.4" cy="839.2" rx="0.7" ry="4.4"/>
<ellipse cx="108.8" cy="839.2" rx="1.4" ry="4.4"/>
<ellipse cx="113.7" cy="839.2" rx="2.3" ry="4.4"/>
<ellipse cx="121.1" cy="839.2" rx="3.0" ry="4.4"/>
<ellipse cx="130.2" cy="839.2" rx="3.6" ry="4.4"/>
<ellipse cx="140.7" cy="839.2" rx="4.0" ry="4.4"/>
<ellipse cx="151.9" cy="839.2" rx="4.1" ry="4.4"/>
<ellipse cx="163.1" cy="839.2" rx="4.0" ry="4.4"/>
<ellipse cx="173.6" cy="839.2" rx="3.6" ry="4.4"/>
<ellipse cx="182.7" cy="839.2" rx="3.0" ry="4.4"/>
<ellipse cx="190.1" cy="839.2" rx="2.3" ry="4.4"/>
<ellipse cx="195.0" cy="839.2" rx="1.4" ry="4.4"/>
<ellipse cx="197.4" cy="839.2" rx="0.7" ry="4.4"/>
<ellipse cx="107.2" cy="849.4" rx="0.9" ry="4.4"/>
<ellipse cx="110.9" cy="849.4" rx="1.8" ry="4.4"/>
<ellipse cx="117.1" cy="849.4" rx="2.7" ry="4.4"/>
<ellipse cx="125.4" cy="849.4" rx="3.3" ry="4.4"/>
<ellipse cx="135.4" cy="849.4" rx="3.8" ry="4.4"/>
<ellipse cx="146.3" cy="849.4" rx="4.1" ry="4.4"/>
<ellipse cx="157.5" cy="849.4" rx="4.1" ry="4.4"/>
<ellipse cx="168.4" cy="849.4" rx="3.8" ry="4.4"/>
<ellipse cx="178.4" cy="849.4" rx="3.3" ry="4.4"/>
<ellipse cx="186.7" cy="849.4" rx="2.7" ry="4.4"/>
<ellipse cx="192.9" cy="849.4" rx="1.8" ry="4.4"/>
<ellipse cx="196.6" cy="849.4" rx="0.9" ry="4.4"/>
<ellipse cx="106.4" cy="859.6" rx="0.7" ry="4.4"/>
<ellipse cx="108.8" cy="859.6" rx="1.4" ry="4.4"/>
<ellipse cx="113.7" cy="859.6" rx="2.3" ry="4.4"/>
<ellipse cx="121.1" cy="859.6" rx="3.0" ry="4.4"/>
<ellipse cx="130.2" cy="859.6" rx="3.6" ry="4.4"/>
<ellipse cx="140.7" cy="859.6" rx="4.0" ry="4.4"/>
<ellipse cx="151.9" cy="859.6" rx="4.1" ry="4.4"/>
<ellipse cx="163.1" cy="859.6" rx="4.0" ry="4.4"/>
<ellipse cx="173.6" cy="859.6" rx="3.6" ry="4.4"/>
<ellipse cx="182.7" cy="859.6" rx="3.0" ry="4.4"/>
<ellipse cx="190.1" cy="859.6" rx="2.3" ry="4.4"/>
<ellipse cx="195.0" cy="859.6" rx="1.4" ry="4.4"/>
<ellipse cx="197.4" cy="859.6" rx="0.7" ry="4.4"/>
<ellipse cx="107.2" cy="869.8" rx="0.9" ry="4.4"/>
<ellipse cx="110.9" cy="869.8" rx="1.8" ry="4.4"/>
<ellipse cx="117.1" cy="869.8" rx="2.7" ry="4.4"/>
<ellipse cx="125.4" cy="869.8" rx="3.3" ry="4.4"/>
<ellipse cx="135.4" cy="869.8" rx="3.8" ry="4.4"/>
<ellipse cx="146.3" cy="869.8" rx="4.1" ry="4.4"/>
<ellipse cx="157.5" cy="869.8" rx="4.1" ry="4.4"/>
<ellipse cx="168.4" cy="869.8" rx="3.8" ry="4.4"/>
<ellipse cx="178.4" cy="869.8" rx="3.3" ry="4.4"/>
<ellipse cx="186.7" cy="869.8" rx="2.7" ry="4.4"/>
<ellipse cx="192.9" cy="869.8" rx="1.8" ry="4.4"/>
<ellipse cx="196.6" cy="869.8" rx="0.9" ry="4.4"/>
<ellipse cx="106.4" cy="880.0" rx="0.7" ry="4.4"/>
<ellipse cx="108.8" cy="880.0" rx="1.4" ry="4.4"/>
<ellipse cx="113.7" cy="880.0" rx="2.3" ry="4.4"/>
<ellipse cx="121.1" cy="880.0" rx="3.0" ry="4.4"/>
<ellipse cx="130.2" cy="880.0" rx="3.6" ry="4.4"/>
<ellipse cx="140.7" cy="880.0" rx="4.0" ry="4.4"/>
<ellipse cx="151.9" cy="880.0" rx="4.1" ry="4.4"/>
<ellipse cx="163.1" cy="880.0" rx="4.0" ry="4.4"/>
<ellipse cx="173.6" cy="880.0" rx="3.6" ry="4.4"/>
<ellipse cx="182.7" cy="880.0" rx="3.0" ry="4.4"/>
<ellipse cx="190.1" cy="880.0" rx="2.3" ry="4.4"/>
<ellipse cx="195.0" cy="880.0" rx="1.4" ry="4.4"/>
<ellipse cx="197.4" cy="880.0" rx="0.7" ry="4.4"/>
<ellipse cx="107.2" cy="890.2" rx="0.9" ry="4.4"/>
<ellipse cx="110.9" cy="890.2" rx="1.8" ry="4.4"/>
<ellipse cx="117.1" cy="890.2" rx="2.7" ry="4.4"/>
<ellipse cx="125.4" cy="890.2" rx="3.3" ry="4.4"/>
<ellipse cx="135.4" cy="890.2" rx="3.8" ry="4.4"/>
<ellipse cx="146.3" cy="890.2" rx="4.1" ry="4.4"/>
<ellipse cx="157.5" cy="890.2" rx="4.1" ry="4.4"/>
<ellipse cx="168.4" cy="890.2" rx="3.8" ry="4.4"/>
<ellipse cx="178.4" cy="890.2" rx="3.3" ry="4.4"/>
<ellipse cx="186.7" cy="890.2" rx="2.7" ry="4.4"/>
<ellipse cx="192.9" cy="890.2" rx="1.8" ry="4.4"/>
<ellipse cx="196.6" cy="890.2" rx="0.9" ry="4.4"/>
<ellipse cx="106.4" cy="900.4" rx="0.7" ry="4.4"/>
<ellipse cx="108.8" cy="900.4" rx="1.4" ry="4.4"/>
<ellipse cx="113.7" cy="900.4" rx="2.3" ry="4.4"/>
<ellipse cx="121.1" cy="900.4" rx="3.0" ry="4.4"/>
<ellipse cx="130.2" cy="900.4" rx="3.6" ry="4.4"/>
<ellipse cx="140.7" cy="900.4" rx="4.0" ry="4.4"/>
<ellipse cx="151.9" cy="900.4" rx="4.1" ry="4.4"/>
<ellipse cx="163.1" cy="900.4" rx="4.0" ry="4.4"/>
<ellipse cx="173.6" cy="900.4" rx="3.6" ry="4.4"/>
<ellipse cx="182.7" cy="900.4" rx="3.0" ry="4.4"/>
<ellipse cx="190.1" cy="900.4" rx="2.3" ry="4.4"/>
<ellipse cx="195.0" cy="900.4" rx="1.4" ry="4.4"/>
<ellipse cx="197.4" cy="900.4" rx="0.7" ry="4.4"/>
<ellipse cx="107.2" cy="910.6" rx="0.9" ry="4.4"/>
<ellipse cx="110.9" cy="910.6" rx="1.8" ry="4.4"/>
<ellipse cx="117.1" cy="910.6" rx="2.7" ry="4.4"/>
<ellipse cx="125.4" cy="910.6" rx="3.3" ry="4.4"/>
<ellipse cx="135.4" cy="910.6" rx="3.8" ry="4.4"/>
<ellipse cx="146.3" cy="910.6" rx="4.1" ry="4.4"/>
<ellipse cx="157.5" cy="910.6" rx="4.1" ry="4.4"/>
<ellipse cx="168.4" cy="910.6" rx="3.8" ry="4.4"/>
<ellipse cx="178.4" cy="910.6" rx="3.3" ry="4.4"/>
<ellipse cx="186.7" cy="910.6" rx="2.7" ry="4.4"/>
<ellipse cx="192.9" cy="910.6" rx="1.8" ry="4.4"/>
<ellipse cx="196.6" cy="910.6" rx="0.9" ry="4.4"/>
<ellipse cx="106.4" cy="920.8" rx="0.7" ry="4.4"/>
<ellipse cx="108.8" cy="920.8" rx="1.4" ry="4.4"/>
<ellipse cx="113.7" cy="920.8" rx="2.3" ry="4.4"/>
<ellipse cx="121.1" cy="920.8" rx="3.0" ry="4.4"/>
<ellipse cx="130.2" cy="920.8" rx="3.6" ry="4.4"/>
<ellipse cx="140.7" cy="920.8" rx="4.0" ry="4.4"/>
<ellipse cx="151.9" cy="920.8" rx="4.1" ry="4.4"/>
<ellipse cx="163.1" cy="920.8" rx="4.0" ry="4.4"/>
<ellipse cx="173.6" cy="920.8" rx="3.6" ry="4.4"/>
<ellipse cx="182.7" cy="920.8" rx="3.0" ry="4.4"/>
<ellipse cx="190.1" cy="920.8" rx="2.3" ry="4.4"/>
<ellipse cx="195.0" cy="920.8" rx="1.4" ry="4.4"/>
<ellipse cx="197.4" cy="920.8" rx="0.7" ry="4.4"/>
</g>
<line x1="106.2" y1="721.0" x2="197.6" y2="721.0" stroke="#8f8f8f" stroke-width="0.8" opacity=".6"/>
<line x1="106.2" y1="731.4" x2="197.6" y2="731.4" stroke="#8f8f8f" stroke-width="0.8" opacity=".6"/>
<line x1="106.2" y1="741.7" x2="197.6" y2="741.7" stroke="#8f8f8f" stroke-width="0.8" opacity=".6"/>
<line x1="106.2" y1="752.1" x2="197.6" y2="752.1" stroke="#8f8f8f" stroke-width="0.8" opacity=".6"/>
<line x1="106.2" y1="762.4" x2="197.6" y2="762.4" stroke="#8f8f8f" stroke-width="0.8" opacity=".6"/>
<line x1="106.2" y1="772.8" x2="197.6" y2="772.8" stroke="#8f8f8f" stroke-width="0.8" opacity=".6"/>
<line x1="106.2" y1="783.2" x2="197.6" y2="783.2" stroke="#8f8f8f" stroke-width="0.8" opacity=".6"/>
<line x1="106.2" y1="793.5" x2="197.6" y2="793.5" stroke="#8f8f8f" stroke-width="0.8" opacity=".6"/>
<line x1="106.2" y1="803.9" x2="197.6" y2="803.9" stroke="#8f8f8f" stroke-width="0.8" opacity=".6"/>
<line x1="106.2" y1="814.2" x2="197.6" y2="814.2" stroke="#8f8f8f" stroke-width="0.8" opacity=".6"/>
<line x1="106.2" y1="824.6" x2="197.6" y2="824.6" stroke="#8f8f8f" stroke-width="0.8" opacity=".6"/>
<line x1="106.2" y1="835.0" x2="197.6" y2="835.0" stroke="#8f8f8f" stroke-width="0.8" opacity=".6"/>
<line x1="106.2" y1="845.3" x2="197.6" y2="845.3" stroke="#8f8f8f" stroke-width="0.8" opacity=".6"/>
<line x1="106.2" y1="855.7" x2="197.6" y2="855.7" stroke="#8f8f8f" stroke-width="0.8" opacity=".6"/>
<line x1="106.2" y1="866.0" x2="197.6" y2="866.0" stroke="#8f8f8f" stroke-width="0.8" opacity=".6"/>
<line x1="106.2" y1="876.4" x2="197.6" y2="876.4" stroke="#8f8f8f" stroke-width="0.8" opacity=".6"/>
<line x1="106.2" y1="886.8" x2="197.6" y2="886.8" stroke="#8f8f8f" stroke-width="0.8" opacity=".6"/>
<line x1="106.2" y1="897.1" x2="197.6" y2="897.1" stroke="#8f8f8f" stroke-width="0.8" opacity=".6"/>
<line x1="106.2" y1="907.5" x2="197.6" y2="907.5" stroke="#8f8f8f" stroke-width="0.8" opacity=".6"/>
<line x1="106.2" y1="917.8" x2="197.6" y2="917.8" stroke="#8f8f8f" stroke-width="0.8" opacity=".6"/>
<line x1="151.7" y1="716.0" x2="151.7" y2="922.0" stroke="#2e2e2e" stroke-width="1.2" stroke-dasharray="6.4 3.8" opacity=".9"/>
<rect x="106.2" y="698.0" width="91.4" height="19.5" fill="url(#mBand)"/>
<rect x="106.2" y="921.5" width="91.4" height="21.0" fill="url(#mBand)"/>
<rect x="104.0" y="942.0" width="95.0" height="22.7" fill="url(#gC)"/>
<rect x="104.5" y="942.5" width="94.0" height="21.7" fill="none" stroke="#3e3e3e" stroke-width="1" opacity=".55"/>
<path d="M157.5 947.0 q-6 0 -6 4.5 q0 3.4 5 4.5 q4 2.7 3 6.8" fill="none" stroke="#444" stroke-width="1.3" opacity=".8"/>
<path d="M152.5 946.5 h9 v17.0" fill="none" stroke="#444" stroke-width="1.3" opacity=".8"/>
<rect x="151.5" y="948.4" width="9.0" height="15.0" fill="#8a8a8a" opacity=".6"/>
<line x1="108.0" y1="960.7" x2="141.5" y2="960.7" stroke="#444" stroke-width="1" opacity=".6"/>
<line x1="167.5" y1="960.7" x2="195.0" y2="960.7" stroke="#444" stroke-width="1" opacity=".6"/>
<rect x="106.0" y="945.0" width="4.0" height="14.7" fill="#9a9a9a" opacity=".6"/>
<rect x="193.0" y="945.0" width="4.0" height="14.7" fill="#a6a6a6" opacity=".6"/>
<line x1="104.0" y1="942.0" x2="199.0" y2="942.0" stroke="#4a4a4a" stroke-width="1" opacity=".7"/>
<path d="M129.9 683.5 L176.2 683.5 L198.6 693.6 L105.3 693.6 Z" fill="url(#cuF)"/>
<path d="M130.9 683.5 L144.6 683.5 L133.3 693.6 L116.5 693.6 Z" fill="#c18865" opacity=".35"/>
<rect x="105.3" y="693.3" width="93.3" height="5.7" fill="url(#cuE)"/>
<line x1="105.3" y1="693.6" x2="198.6" y2="693.6" stroke="#fbe4d4" stroke-width="0.9" opacity=".75"/>
<line x1="106.3" y1="698.5" x2="197.6" y2="698.5" stroke="#a56c4c" stroke-width="1" opacity=".55"/>
<path d="M133.5 649.0 L133.5 641.3 Q133.5 632.8 142.0 632.8 L164.1 632.8 Q172.6 632.8 172.6 641.3 L172.6 649.0 Z" fill="url(#cuD)"/>
<rect x="131.9" y="648.0" width="42.3" height="32.5" fill="url(#cuK)"/>
<line x1="134.1" y1="649.0" x2="134.1" y2="678.5" stroke="#fff" stroke-width="0.5" opacity=".16"/>
<line x1="136.4" y1="649.0" x2="136.4" y2="678.5" stroke="#fff" stroke-width="0.5" opacity=".16"/>
<line x1="138.6" y1="649.0" x2="138.6" y2="678.5" stroke="#fff" stroke-width="0.5" opacity=".16"/>
<line x1="140.8" y1="649.0" x2="140.8" y2="678.5" stroke="#fff" stroke-width="0.5" opacity=".16"/>
<line x1="143.0" y1="649.0" x2="143.0" y2="678.5" stroke="#fff" stroke-width="0.5" opacity=".16"/>
<line x1="145.3" y1="649.0" x2="145.3" y2="678.5" stroke="#fff" stroke-width="0.5" opacity=".16"/>
<line x1="147.5" y1="649.0" x2="147.5" y2="678.5" stroke="#fff" stroke-width="0.5" opacity=".16"/>
<line x1="149.7" y1="649.0" x2="149.7" y2="678.5" stroke="#fff" stroke-width="0.5" opacity=".16"/>
<line x1="151.9" y1="649.0" x2="151.9" y2="678.5" stroke="#fff" stroke-width="0.5" opacity=".16"/>
<line x1="154.2" y1="649.0" x2="154.2" y2="678.5" stroke="#fff" stroke-width="0.5" opacity=".16"/>
<line x1="156.4" y1="649.0" x2="156.4" y2="678.5" stroke="#fff" stroke-width="0.5" opacity=".16"/>
<line x1="158.6" y1="649.0" x2="158.6" y2="678.5" stroke="#fff" stroke-width="0.5" opacity=".16"/>
<line x1="160.8" y1="649.0" x2="160.8" y2="678.5" stroke="#fff" stroke-width="0.5" opacity=".16"/>
<line x1="163.1" y1="649.0" x2="163.1" y2="678.5" stroke="#fff" stroke-width="0.5" opacity=".16"/>
<line x1="165.3" y1="649.0" x2="165.3" y2="678.5" stroke="#fff" stroke-width="0.5" opacity=".16"/>
<line x1="167.5" y1="649.0" x2="167.5" y2="678.5" stroke="#fff" stroke-width="0.5" opacity=".16"/>
<line x1="169.7" y1="649.0" x2="169.7" y2="678.5" stroke="#fff" stroke-width="0.5" opacity=".16"/>
<line x1="172.0" y1="649.0" x2="172.0" y2="678.5" stroke="#fff" stroke-width="0.5" opacity=".16"/>
<line x1="131.9" y1="648.4" x2="174.2" y2="648.4" stroke="#f6d6c0" stroke-width="0.9" opacity=".7"/>
<path d="M158.5 679.5 L158.5 645.0 Q158.5 636.8 162.4 636.8 Q166.2 636.8 166.2 645.0 L166.2 679.5 Z" fill="#d39d7b" opacity=".75"/>
<path d="M146.7 680.5 L146.7 644.2 Q146.7 635.4 152.4 635.4 Q158.1 635.4 158.1 644.2 L158.1 680.5 Z" fill="url(#cuR)"/>
<line x1="158.3" y1="637.8" x2="158.3" y2="680.5" stroke="#b07654" stroke-width="1" opacity=".75"/>
<line x1="146.5" y1="645.0" x2="146.5" y2="680.5" stroke="#c48c69" stroke-width="0.9" opacity=".6"/>
<line x1="166.4" y1="638.8" x2="166.4" y2="680.5" stroke="#b98360" stroke-width="0.9" opacity=".55"/>
<rect x="132.4" y="677.5" width="41.3" height="2.2" fill="#f6d8c2" opacity=".85"/>
<rect x="132.9" y="679.7" width="40.3" height="3.8" fill="#a4694a" opacity=".85"/>
</g>
<g id="paddle">
<line x1="305.0" y1="692.3" x2="352.0" y2="692.3" stroke="#2e2e2e" stroke-width="1.4"/>
<line x1="463.2" y1="692.3" x2="511.5" y2="692.3" stroke="#2e2e2e" stroke-width="1.4"/>
<line x1="322.0" y1="690.7" x2="340.0" y2="690.7" stroke="#9a9a9a" stroke-width="1.6" opacity=".8"/>
<line x1="475.2" y1="690.7" x2="493.0" y2="690.7" stroke="#9a9a9a" stroke-width="1.6" opacity=".8"/>
<line x1="305.0" y1="721.1" x2="352.0" y2="721.1" stroke="#2e2e2e" stroke-width="1.4"/>
<line x1="463.2" y1="721.1" x2="511.5" y2="721.1" stroke="#2e2e2e" stroke-width="1.4"/>
<line x1="322.0" y1="719.5" x2="340.0" y2="719.5" stroke="#9a9a9a" stroke-width="1.6" opacity=".8"/>
<line x1="475.2" y1="719.5" x2="493.0" y2="719.5" stroke="#9a9a9a" stroke-width="1.6" opacity=".8"/>
<line x1="305.0" y1="749.8" x2="352.0" y2="749.8" stroke="#2e2e2e" stroke-width="1.4"/>
<line x1="463.2" y1="749.8" x2="511.5" y2="749.8" stroke="#2e2e2e" stroke-width="1.4"/>
<line x1="322.0" y1="748.2" x2="340.0" y2="748.2" stroke="#9a9a9a" stroke-width="1.6" opacity=".8"/>
<line x1="475.2" y1="748.2" x2="493.0" y2="748.2" stroke="#9a9a9a" stroke-width="1.6" opacity=".8"/>
<line x1="305.0" y1="778.6" x2="352.0" y2="778.6" stroke="#2e2e2e" stroke-width="1.4"/>
<line x1="463.2" y1="778.6" x2="511.5" y2="778.6" stroke="#2e2e2e" stroke-width="1.4"/>
<line x1="322.0" y1="777.0" x2="340.0" y2="777.0" stroke="#9a9a9a" stroke-width="1.6" opacity=".8"/>
<line x1="475.2" y1="777.0" x2="493.0" y2="777.0" stroke="#9a9a9a" stroke-width="1.6" opacity=".8"/>
<line x1="305.0" y1="807.3" x2="352.0" y2="807.3" stroke="#2e2e2e" stroke-width="1.4"/>
<line x1="463.2" y1="807.3" x2="511.5" y2="807.3" stroke="#2e2e2e" stroke-width="1.4"/>
<line x1="322.0" y1="805.7" x2="340.0" y2="805.7" stroke="#9a9a9a" stroke-width="1.6" opacity=".8"/>
<line x1="475.2" y1="805.7" x2="493.0" y2="805.7" stroke="#9a9a9a" stroke-width="1.6" opacity=".8"/>
<line x1="305.0" y1="836.1" x2="352.0" y2="836.1" stroke="#2e2e2e" stroke-width="1.4"/>
<line x1="463.2" y1="836.1" x2="511.5" y2="836.1" stroke="#2e2e2e" stroke-width="1.4"/>
<line x1="322.0" y1="834.5" x2="340.0" y2="834.5" stroke="#9a9a9a" stroke-width="1.6" opacity=".8"/>
<line x1="475.2" y1="834.5" x2="493.0" y2="834.5" stroke="#9a9a9a" stroke-width="1.6" opacity=".8"/>
<line x1="305.0" y1="864.9" x2="352.0" y2="864.9" stroke="#2e2e2e" stroke-width="1.4"/>
<line x1="463.2" y1="864.9" x2="511.5" y2="864.9" stroke="#2e2e2e" stroke-width="1.4"/>
<line x1="322.0" y1="863.3" x2="340.0" y2="863.3" stroke="#9a9a9a" stroke-width="1.6" opacity=".8"/>
<line x1="475.2" y1="863.3" x2="493.0" y2="863.3" stroke="#9a9a9a" stroke-width="1.6" opacity=".8"/>
<line x1="305.0" y1="893.6" x2="352.0" y2="893.6" stroke="#2e2e2e" stroke-width="1.4"/>
<line x1="463.2" y1="893.6" x2="511.5" y2="893.6" stroke="#2e2e2e" stroke-width="1.4"/>
<line x1="322.0" y1="892.0" x2="340.0" y2="892.0" stroke="#9a9a9a" stroke-width="1.6" opacity=".8"/>
<line x1="475.2" y1="892.0" x2="493.0" y2="892.0" stroke="#9a9a9a" stroke-width="1.6" opacity=".8"/>
<line x1="305.0" y1="922.4" x2="352.0" y2="922.4" stroke="#2e2e2e" stroke-width="1.4"/>
<line x1="463.2" y1="922.4" x2="511.5" y2="922.4" stroke="#2e2e2e" stroke-width="1.4"/>
<line x1="322.0" y1="920.8" x2="340.0" y2="920.8" stroke="#9a9a9a" stroke-width="1.6" opacity=".8"/>
<line x1="475.2" y1="920.8" x2="493.0" y2="920.8" stroke="#9a9a9a" stroke-width="1.6" opacity=".8"/>
<rect x="340.0" y="677.0" width="135.2" height="263.6" fill="url(#pB)"/>
<line x1="346.0" y1="763.5" x2="469.2" y2="763.5" stroke="#6a6a6a" stroke-width="1" opacity=".6"/>
<line x1="346.0" y1="849.5" x2="469.2" y2="849.5" stroke="#6a6a6a" stroke-width="1" opacity=".6"/>
<rect x="360.5" y="688.4" width="5.6" height="65.0" rx="2.8" fill="#1c1c1c"/>
<rect x="360.5" y="774.2" width="5.6" height="65.0" rx="2.8" fill="#1c1c1c"/>
<rect x="360.5" y="860.0" width="5.6" height="65.0" rx="2.8" fill="#1c1c1c"/>
<rect x="454.1" y="688.4" width="5.6" height="65.0" rx="2.8" fill="#1c1c1c"/>
<rect x="454.1" y="774.2" width="5.6" height="65.0" rx="2.8" fill="#1c1c1c"/>
<rect x="454.1" y="860.0" width="5.6" height="65.0" rx="2.8" fill="#1c1c1c"/>
<line x1="340.0" y1="692.3" x2="351.0" y2="692.3" stroke="#2a2a2a" stroke-width="1.6"/>
<line x1="467.0" y1="692.3" x2="475.2" y2="692.3" stroke="#2a2a2a" stroke-width="1.6"/>
<line x1="340.0" y1="721.1" x2="351.0" y2="721.1" stroke="#2a2a2a" stroke-width="1.6"/>
<line x1="467.0" y1="721.1" x2="475.2" y2="721.1" stroke="#2a2a2a" stroke-width="1.6"/>
<line x1="340.0" y1="749.8" x2="351.0" y2="749.8" stroke="#2a2a2a" stroke-width="1.6"/>
<line x1="467.0" y1="749.8" x2="475.2" y2="749.8" stroke="#2a2a2a" stroke-width="1.6"/>
<line x1="340.0" y1="778.6" x2="351.0" y2="778.6" stroke="#2a2a2a" stroke-width="1.6"/>
<line x1="467.0" y1="778.6" x2="475.2" y2="778.6" stroke="#2a2a2a" stroke-width="1.6"/>
<line x1="340.0" y1="807.3" x2="351.0" y2="807.3" stroke="#2a2a2a" stroke-width="1.6"/>
<line x1="467.0" y1="807.3" x2="475.2" y2="807.3" stroke="#2a2a2a" stroke-width="1.6"/>
<line x1="340.0" y1="836.1" x2="351.0" y2="836.1" stroke="#2a2a2a" stroke-width="1.6"/>
<line x1="467.0" y1="836.1" x2="475.2" y2="836.1" stroke="#2a2a2a" stroke-width="1.6"/>
<line x1="340.0" y1="864.9" x2="351.0" y2="864.9" stroke="#2a2a2a" stroke-width="1.6"/>
<line x1="467.0" y1="864.9" x2="475.2" y2="864.9" stroke="#2a2a2a" stroke-width="1.6"/>
<line x1="340.0" y1="893.6" x2="351.0" y2="893.6" stroke="#2a2a2a" stroke-width="1.6"/>
<line x1="467.0" y1="893.6" x2="475.2" y2="893.6" stroke="#2a2a2a" stroke-width="1.6"/>
<line x1="340.0" y1="922.4" x2="351.0" y2="922.4" stroke="#2a2a2a" stroke-width="1.6"/>
<line x1="467.0" y1="922.4" x2="475.2" y2="922.4" stroke="#2a2a2a" stroke-width="1.6"/>
<ellipse cx="351.6" cy="692.3" rx="3.6" ry="4.6" fill="#1e1e1e"/>
<ellipse cx="466.8" cy="692.3" rx="3.6" ry="4.6" fill="#1e1e1e"/>
<ellipse cx="351.6" cy="721.1" rx="3.6" ry="4.6" fill="#1e1e1e"/>
<ellipse cx="466.8" cy="721.1" rx="3.6" ry="4.6" fill="#1e1e1e"/>
<ellipse cx="351.6" cy="749.8" rx="3.6" ry="4.6" fill="#1e1e1e"/>
<ellipse cx="466.8" cy="749.8" rx="3.6" ry="4.6" fill="#1e1e1e"/>
<ellipse cx="351.6" cy="778.6" rx="3.6" ry="4.6" fill="#1e1e1e"/>
<ellipse cx="466.8" cy="778.6" rx="3.6" ry="4.6" fill="#1e1e1e"/>
<ellipse cx="351.6" cy="807.3" rx="3.6" ry="4.6" fill="#1e1e1e"/>
<ellipse cx="466.8" cy="807.3" rx="3.6" ry="4.6" fill="#1e1e1e"/>
<ellipse cx="351.6" cy="836.1" rx="3.6" ry="4.6" fill="#1e1e1e"/>
<ellipse cx="466.8" cy="836.1" rx="3.6" ry="4.6" fill="#1e1e1e"/>
<ellipse cx="351.6" cy="864.9" rx="3.6" ry="4.6" fill="#1e1e1e"/>
<ellipse cx="466.8" cy="864.9" rx="3.6" ry="4.6" fill="#1e1e1e"/>
<ellipse cx="351.6" cy="893.6" rx="3.6" ry="4.6" fill="#1e1e1e"/>
<ellipse cx="466.8" cy="893.6" rx="3.6" ry="4.6" fill="#1e1e1e"/>
<ellipse cx="351.6" cy="922.4" rx="3.6" ry="4.6" fill="#1e1e1e"/>
<ellipse cx="466.8" cy="922.4" rx="3.6" ry="4.6" fill="#1e1e1e"/>
<circle cx="380.5" cy="692.3" r="4.1" fill="#2a2a2a"/><circle cx="379.9" cy="691.5" r="1.6" fill="#6e6e6e"/>
<circle cx="395.3" cy="692.3" r="4.1" fill="#2a2a2a"/><circle cx="394.7" cy="691.5" r="1.6" fill="#6e6e6e"/>
<circle cx="410.1" cy="692.3" r="4.1" fill="#2a2a2a"/><circle cx="409.5" cy="691.5" r="1.6" fill="#6e6e6e"/>
<circle cx="424.7" cy="692.3" r="4.1" fill="#2a2a2a"/><circle cx="424.1" cy="691.5" r="1.6" fill="#6e6e6e"/>
<circle cx="439.0" cy="692.3" r="4.1" fill="#2a2a2a"/><circle cx="438.4" cy="691.5" r="1.6" fill="#6e6e6e"/>
<circle cx="380.5" cy="721.1" r="4.1" fill="#2a2a2a"/><circle cx="379.9" cy="720.3" r="1.6" fill="#6e6e6e"/>
<circle cx="395.3" cy="721.1" r="4.1" fill="#2a2a2a"/><circle cx="394.7" cy="720.3" r="1.6" fill="#6e6e6e"/>
<circle cx="410.1" cy="721.1" r="4.1" fill="#2a2a2a"/><circle cx="409.5" cy="720.3" r="1.6" fill="#6e6e6e"/>
<circle cx="424.7" cy="721.1" r="4.1" fill="#2a2a2a"/><circle cx="424.1" cy="720.3" r="1.6" fill="#6e6e6e"/>
<circle cx="439.0" cy="721.1" r="4.1" fill="#2a2a2a"/><circle cx="438.4" cy="720.3" r="1.6" fill="#6e6e6e"/>
<circle cx="380.5" cy="749.8" r="4.1" fill="#2a2a2a"/><circle cx="379.9" cy="749.0" r="1.6" fill="#6e6e6e"/>
<circle cx="395.3" cy="749.8" r="4.1" fill="#2a2a2a"/><circle cx="394.7" cy="749.0" r="1.6" fill="#6e6e6e"/>
<circle cx="410.1" cy="749.8" r="4.1" fill="#2a2a2a"/><circle cx="409.5" cy="749.0" r="1.6" fill="#6e6e6e"/>
<circle cx="424.7" cy="749.8" r="4.1" fill="#2a2a2a"/><circle cx="424.1" cy="749.0" r="1.6" fill="#6e6e6e"/>
<circle cx="439.0" cy="749.8" r="4.1" fill="#2a2a2a"/><circle cx="438.4" cy="749.0" r="1.6" fill="#6e6e6e"/>
<circle cx="380.5" cy="778.6" r="4.1" fill="#2a2a2a"/><circle cx="379.9" cy="777.8" r="1.6" fill="#6e6e6e"/>
<circle cx="395.3" cy="778.6" r="4.1" fill="#2a2a2a"/><circle cx="394.7" cy="777.8" r="1.6" fill="#6e6e6e"/>
<circle cx="410.1" cy="778.6" r="4.1" fill="#2a2a2a"/><circle cx="409.5" cy="777.8" r="1.6" fill="#6e6e6e"/>
<circle cx="424.7" cy="778.6" r="4.1" fill="#2a2a2a"/><circle cx="424.1" cy="777.8" r="1.6" fill="#6e6e6e"/>
<circle cx="439.0" cy="778.6" r="4.1" fill="#2a2a2a"/><circle cx="438.4" cy="777.8" r="1.6" fill="#6e6e6e"/>
<circle cx="380.5" cy="807.3" r="4.1" fill="#2a2a2a"/><circle cx="379.9" cy="806.5" r="1.6" fill="#6e6e6e"/>
<circle cx="395.3" cy="807.3" r="4.1" fill="#2a2a2a"/><circle cx="394.7" cy="806.5" r="1.6" fill="#6e6e6e"/>
<circle cx="410.1" cy="807.3" r="4.1" fill="#2a2a2a"/><circle cx="409.5" cy="806.5" r="1.6" fill="#6e6e6e"/>
<circle cx="424.7" cy="807.3" r="4.1" fill="#2a2a2a"/><circle cx="424.1" cy="806.5" r="1.6" fill="#6e6e6e"/>
<circle cx="439.0" cy="807.3" r="4.1" fill="#2a2a2a"/><circle cx="438.4" cy="806.5" r="1.6" fill="#6e6e6e"/>
<circle cx="380.5" cy="836.1" r="4.1" fill="#2a2a2a"/><circle cx="379.9" cy="835.3" r="1.6" fill="#6e6e6e"/>
<circle cx="395.3" cy="836.1" r="4.1" fill="#2a2a2a"/><circle cx="394.7" cy="835.3" r="1.6" fill="#6e6e6e"/>
<circle cx="410.1" cy="836.1" r="4.1" fill="#2a2a2a"/><circle cx="409.5" cy="835.3" r="1.6" fill="#6e6e6e"/>
<circle cx="424.7" cy="836.1" r="4.1" fill="#2a2a2a"/><circle cx="424.1" cy="835.3" r="1.6" fill="#6e6e6e"/>
<circle cx="439.0" cy="836.1" r="4.1" fill="#2a2a2a"/><circle cx="438.4" cy="835.3" r="1.6" fill="#6e6e6e"/>
<circle cx="380.5" cy="864.9" r="4.1" fill="#2a2a2a"/><circle cx="379.9" cy="864.1" r="1.6" fill="#6e6e6e"/>
<circle cx="395.3" cy="864.9" r="4.1" fill="#2a2a2a"/><circle cx="394.7" cy="864.1" r="1.6" fill="#6e6e6e"/>
<circle cx="410.1" cy="864.9" r="4.1" fill="#2a2a2a"/><circle cx="409.5" cy="864.1" r="1.6" fill="#6e6e6e"/>
<circle cx="424.7" cy="864.9" r="4.1" fill="#2a2a2a"/><circle cx="424.1" cy="864.1" r="1.6" fill="#6e6e6e"/>
<circle cx="439.0" cy="864.9" r="4.1" fill="#2a2a2a"/><circle cx="438.4" cy="864.1" r="1.6" fill="#6e6e6e"/>
<circle cx="380.5" cy="893.6" r="4.1" fill="#2a2a2a"/><circle cx="379.9" cy="892.8" r="1.6" fill="#6e6e6e"/>
<circle cx="395.3" cy="893.6" r="4.1" fill="#2a2a2a"/><circle cx="394.7" cy="892.8" r="1.6" fill="#6e6e6e"/>
<circle cx="410.1" cy="893.6" r="4.1" fill="#2a2a2a"/><circle cx="409.5" cy="892.8" r="1.6" fill="#6e6e6e"/>
<circle cx="424.7" cy="893.6" r="4.1" fill="#2a2a2a"/><circle cx="424.1" cy="892.8" r="1.6" fill="#6e6e6e"/>
<circle cx="439.0" cy="893.6" r="4.1" fill="#2a2a2a"/><circle cx="438.4" cy="892.8" r="1.6" fill="#6e6e6e"/>
<circle cx="380.5" cy="922.4" r="4.1" fill="#2a2a2a"/><circle cx="379.9" cy="921.6" r="1.6" fill="#6e6e6e"/>
<circle cx="395.3" cy="922.4" r="4.1" fill="#2a2a2a"/><circle cx="394.7" cy="921.6" r="1.6" fill="#6e6e6e"/>
<circle cx="410.1" cy="922.4" r="4.1" fill="#2a2a2a"/><circle cx="409.5" cy="921.6" r="1.6" fill="#6e6e6e"/>
<circle cx="424.7" cy="922.4" r="4.1" fill="#2a2a2a"/><circle cx="424.1" cy="921.6" r="1.6" fill="#6e6e6e"/>
<circle cx="439.0" cy="922.4" r="4.1" fill="#2a2a2a"/><circle cx="438.4" cy="921.6" r="1.6" fill="#6e6e6e"/>
<rect x="378.9" y="703.9" width="27.4" height="5.6" rx="2.8" fill="#1f1f1f"/>
<rect x="414.6" y="703.9" width="27.2" height="5.6" rx="2.8" fill="#1f1f1f"/>
<rect x="378.9" y="732.6" width="27.4" height="5.6" rx="2.8" fill="#1f1f1f"/>
<rect x="414.6" y="732.6" width="27.2" height="5.6" rx="2.8" fill="#1f1f1f"/>
<rect x="378.9" y="761.4" width="27.4" height="5.6" rx="2.8" fill="#1f1f1f"/>
<rect x="414.6" y="761.4" width="27.2" height="5.6" rx="2.8" fill="#1f1f1f"/>
<rect x="378.9" y="790.2" width="27.4" height="5.6" rx="2.8" fill="#3a3a3a"/>
<rect x="414.6" y="790.2" width="27.2" height="5.6" rx="2.8" fill="#3a3a3a"/>
<rect x="378.9" y="818.9" width="27.4" height="5.6" rx="2.8" fill="#3a3a3a"/>
<rect x="414.6" y="818.9" width="27.2" height="5.6" rx="2.8" fill="#3a3a3a"/>
<rect x="378.9" y="847.7" width="27.4" height="5.6" rx="2.8" fill="#3a3a3a"/>
<rect x="414.6" y="847.7" width="27.2" height="5.6" rx="2.8" fill="#3a3a3a"/>
<rect x="378.9" y="876.4" width="27.4" height="5.6" rx="2.8" fill="#3a3a3a"/>
<rect x="414.6" y="876.4" width="27.2" height="5.6" rx="2.8" fill="#3a3a3a"/>
<rect x="378.9" y="905.2" width="27.4" height="5.6" rx="2.8" fill="#3a3a3a"/>
<rect x="414.6" y="905.2" width="27.2" height="5.6" rx="2.8" fill="#3a3a3a"/>
<rect x="359.7" y="940.6" width="95.4" height="23.4" fill="url(#gC)"/>
<rect x="360.2" y="941.1" width="94.4" height="22.4" fill="none" stroke="#3e3e3e" stroke-width="1" opacity=".55"/>
<path d="M413.4 945.7 q-6 0 -6 4.7 q0 3.5 5 4.7 q4 2.8 3 7.0" fill="none" stroke="#444" stroke-width="1.3" opacity=".8"/>
<path d="M408.4 945.3 h9 v17.5" fill="none" stroke="#444" stroke-width="1.3" opacity=".8"/>
<rect x="407.4" y="947.2" width="9.0" height="15.4" fill="#8a8a8a" opacity=".6"/>
<line x1="363.7" y1="960.0" x2="397.4" y2="960.0" stroke="#444" stroke-width="1" opacity=".6"/>
<line x1="423.4" y1="960.0" x2="451.1" y2="960.0" stroke="#444" stroke-width="1" opacity=".6"/>
<rect x="361.7" y="943.6" width="4.0" height="15.4" fill="#9a9a9a" opacity=".6"/>
<rect x="449.1" y="943.6" width="4.0" height="15.4" fill="#a6a6a6" opacity=".6"/>
<line x1="340.0" y1="940.6" x2="475.2" y2="940.6" stroke="#4c4c4c" stroke-width="1" opacity=".7"/>
<path d="M386.3 663.7 L432.4 663.7 L475.9 671.5 L339.9 671.5 Z" fill="url(#cuF)"/>
<path d="M387.3 663.7 L400.9 663.7 L380.7 671.5 L356.2 671.5 Z" fill="#c18865" opacity=".35"/>
<rect x="339.9" y="671.2" width="136.0" height="6.8" fill="url(#cuE)"/>
<line x1="339.9" y1="671.5" x2="475.9" y2="671.5" stroke="#fbe4d4" stroke-width="0.9" opacity=".75"/>
<line x1="340.9" y1="677.5" x2="474.9" y2="677.5" stroke="#a56c4c" stroke-width="1" opacity=".55"/>
<path d="M389.9 632.5 L389.9 626.1 Q389.9 617.7 398.3 617.7 L420.4 617.7 Q428.8 617.7 428.8 626.1 L428.8 632.5 Z" fill="url(#cuD)"/>
<rect x="388.3" y="631.5" width="42.1" height="29.2" fill="url(#cuK)"/>
<line x1="390.5" y1="632.5" x2="390.5" y2="658.7" stroke="#fff" stroke-width="0.5" opacity=".16"/>
<line x1="392.7" y1="632.5" x2="392.7" y2="658.7" stroke="#fff" stroke-width="0.5" opacity=".16"/>
<line x1="394.9" y1="632.5" x2="394.9" y2="658.7" stroke="#fff" stroke-width="0.5" opacity=".16"/>
<line x1="397.2" y1="632.5" x2="397.2" y2="658.7" stroke="#fff" stroke-width="0.5" opacity=".16"/>
<line x1="399.4" y1="632.5" x2="399.4" y2="658.7" stroke="#fff" stroke-width="0.5" opacity=".16"/>
<line x1="401.6" y1="632.5" x2="401.6" y2="658.7" stroke="#fff" stroke-width="0.5" opacity=".16"/>
<line x1="403.8" y1="632.5" x2="403.8" y2="658.7" stroke="#fff" stroke-width="0.5" opacity=".16"/>
<line x1="406.0" y1="632.5" x2="406.0" y2="658.7" stroke="#fff" stroke-width="0.5" opacity=".16"/>
<line x1="408.2" y1="632.5" x2="408.2" y2="658.7" stroke="#fff" stroke-width="0.5" opacity=".16"/>
<line x1="410.5" y1="632.5" x2="410.5" y2="658.7" stroke="#fff" stroke-width="0.5" opacity=".16"/>
<line x1="412.7" y1="632.5" x2="412.7" y2="658.7" stroke="#fff" stroke-width="0.5" opacity=".16"/>
<line x1="414.9" y1="632.5" x2="414.9" y2="658.7" stroke="#fff" stroke-width="0.5" opacity=".16"/>
<line x1="417.1" y1="632.5" x2="417.1" y2="658.7" stroke="#fff" stroke-width="0.5" opacity=".16"/>
<line x1="419.3" y1="632.5" x2="419.3" y2="658.7" stroke="#fff" stroke-width="0.5" opacity=".16"/>
<line x1="421.5" y1="632.5" x2="421.5" y2="658.7" stroke="#fff" stroke-width="0.5" opacity=".16"/>
<line x1="423.8" y1="632.5" x2="423.8" y2="658.7" stroke="#fff" stroke-width="0.5" opacity=".16"/>
<line x1="426.0" y1="632.5" x2="426.0" y2="658.7" stroke="#fff" stroke-width="0.5" opacity=".16"/>
<line x1="428.2" y1="632.5" x2="428.2" y2="658.7" stroke="#fff" stroke-width="0.5" opacity=".16"/>
<line x1="388.3" y1="631.9" x2="430.4" y2="631.9" stroke="#f6d6c0" stroke-width="0.9" opacity=".7"/>
<path d="M414.8 659.7 L414.8 628.7 Q414.8 621.7 418.6 621.7 Q422.4 621.7 422.4 628.7 L422.4 659.7 Z" fill="#d39d7b" opacity=".75"/>
<path d="M403.0 660.7 L403.0 628.1 Q403.0 620.3 408.7 620.3 Q414.4 620.3 414.4 628.1 L414.4 660.7 Z" fill="url(#cuR)"/>
<line x1="414.6" y1="622.7" x2="414.6" y2="660.7" stroke="#b07654" stroke-width="1" opacity=".75"/>
<line x1="402.8" y1="628.7" x2="402.8" y2="660.7" stroke="#c48c69" stroke-width="0.9" opacity=".6"/>
<line x1="422.6" y1="623.7" x2="422.6" y2="660.7" stroke="#b98360" stroke-width="0.9" opacity=".55"/>
<rect x="388.8" y="657.7" width="41.1" height="2.2" fill="#f6d8c2" opacity=".85"/>
<rect x="389.3" y="659.9" width="40.1" height="3.8" fill="#a4694a" opacity=".85"/>
</g>
<g id="smallpiece">
<rect x="578.0" y="720.0" width="112.7" height="208.0" fill="url(#sB)"/>
<rect x="590.5" y="735.0" width="18.5" height="184.0" fill="#bdbdbd"/>
<path d="M590.5 740.0 L609.0 747.0 L609.0 754.0 L590.5 744.0 Z" fill="#5a5a5a"/>
<path d="M590.5 744.0 L609.0 754.0 L609.0 757.0 L590.5 750.0 Z" fill="#858585"/>
<path d="M590.5 771.0 L609.0 778.0 L609.0 785.0 L590.5 775.0 Z" fill="#5a5a5a"/>
<path d="M590.5 775.0 L609.0 785.0 L609.0 788.0 L590.5 781.0 Z" fill="#858585"/>
<path d="M590.5 808.0 L609.0 815.0 L609.0 822.0 L590.5 812.0 Z" fill="#5a5a5a"/>
<path d="M590.5 812.0 L609.0 822.0 L609.0 825.0 L590.5 818.0 Z" fill="#858585"/>
<path d="M590.5 846.0 L609.0 853.0 L609.0 860.0 L590.5 850.0 Z" fill="#5a5a5a"/>
<path d="M590.5 850.0 L609.0 860.0 L609.0 863.0 L590.5 856.0 Z" fill="#858585"/>
<path d="M590.5 884.0 L609.0 891.0 L609.0 898.0 L590.5 888.0 Z" fill="#5a5a5a"/>
<path d="M590.5 888.0 L609.0 898.0 L609.0 901.0 L590.5 894.0 Z" fill="#858585"/>
<line x1="609.5" y1="735.0" x2="609.5" y2="919.0" stroke="#e8e8e8" stroke-width="1.4"/>
<circle cx="641" cy="728.5" r="2.3" fill="#8e8e8e" stroke="#555" stroke-width=".9"/>
<circle cx="641" cy="740.6" r="2.3" fill="#8e8e8e" stroke="#555" stroke-width=".9"/>
<circle cx="641" cy="752.7" r="2.3" fill="#8e8e8e" stroke="#555" stroke-width=".9"/>
<circle cx="641" cy="764.8" r="2.3" fill="#8e8e8e" stroke="#555" stroke-width=".9"/>
<circle cx="641" cy="776.9" r="2.3" fill="#8e8e8e" stroke="#555" stroke-width=".9"/>
<circle cx="641" cy="789.0" r="2.3" fill="#8e8e8e" stroke="#555" stroke-width=".9"/>
<circle cx="641" cy="801.1" r="2.3" fill="#8e8e8e" stroke="#555" stroke-width=".9"/>
<circle cx="641" cy="813.2" r="2.3" fill="#8e8e8e" stroke="#555" stroke-width=".9"/>
<circle cx="641" cy="825.3" r="2.3" fill="#8e8e8e" stroke="#555" stroke-width=".9"/>
<circle cx="641" cy="837.4" r="2.3" fill="#8e8e8e" stroke="#555" stroke-width=".9"/>
<circle cx="641" cy="849.5" r="2.3" fill="#8e8e8e" stroke="#555" stroke-width=".9"/>
<circle cx="641" cy="861.6" r="2.3" fill="#8e8e8e" stroke="#555" stroke-width=".9"/>
<circle cx="641" cy="873.7" r="2.3" fill="#8e8e8e" stroke="#555" stroke-width=".9"/>
<circle cx="641" cy="885.8" r="2.3" fill="#8e8e8e" stroke="#555" stroke-width=".9"/>
<circle cx="641" cy="897.9" r="2.3" fill="#8e8e8e" stroke="#555" stroke-width=".9"/>
<circle cx="641" cy="910.0" r="2.3" fill="#8e8e8e" stroke="#555" stroke-width=".9"/>
<circle cx="641" cy="922.1" r="2.3" fill="#8e8e8e" stroke="#555" stroke-width=".9"/>
<rect x="572.8" y="927.3" width="121.9" height="18.7" rx="4" fill="url(#gM)"/>
<rect x="594.0" y="946.0" width="94.0" height="18.7" fill="url(#gC)"/>
<rect x="594.5" y="946.5" width="93.0" height="17.7" fill="none" stroke="#3e3e3e" stroke-width="1" opacity=".55"/>
<path d="M647.0 950.1 q-6 0 -6 3.7 q0 2.8 5 3.7 q4 2.2 3 5.6" fill="none" stroke="#444" stroke-width="1.3" opacity=".8"/>
<path d="M642.0 949.7 h9 v14.0" fill="none" stroke="#444" stroke-width="1.3" opacity=".8"/>
<rect x="641.0" y="951.2" width="9.0" height="12.3" fill="#8a8a8a" opacity=".6"/>
<line x1="598.0" y1="960.7" x2="631.0" y2="960.7" stroke="#444" stroke-width="1" opacity=".6"/>
<line x1="657.0" y1="960.7" x2="684.0" y2="960.7" stroke="#444" stroke-width="1" opacity=".6"/>
<rect x="596.0" y="949.0" width="4.0" height="10.7" fill="#9a9a9a" opacity=".6"/>
<rect x="682.0" y="949.0" width="4.0" height="10.7" fill="#a6a6a6" opacity=".6"/>
<path d="M574 716 Q572.5 706.5 584 706 L612 704.5 Q620 703 623 699 L661 699 Q664 703 672 704.5 L684 706 Q695.5 706.5 694 716 Q693.5 723 688 723.3 L580 723.3 Q574.5 723 574 716 Z" fill="url(#cu)"/>
<line x1="578.0" y1="722.5" x2="690.0" y2="722.5" stroke="#a87050" stroke-width="1.4" opacity=".7"/>
<path d="M622.4 671.9 L622.4 665.1 Q622.4 656.7 630.8 656.7 L652.7 656.7 Q661.1 656.7 661.1 665.1 L661.1 671.9 Z" fill="url(#cuD)"/>
<rect x="620.8" y="670.9" width="41.9" height="30.1" fill="url(#cuK)"/>
<line x1="623.0" y1="671.9" x2="623.0" y2="699.0" stroke="#fff" stroke-width="0.5" opacity=".16"/>
<line x1="625.2" y1="671.9" x2="625.2" y2="699.0" stroke="#fff" stroke-width="0.5" opacity=".16"/>
<line x1="627.4" y1="671.9" x2="627.4" y2="699.0" stroke="#fff" stroke-width="0.5" opacity=".16"/>
<line x1="629.6" y1="671.9" x2="629.6" y2="699.0" stroke="#fff" stroke-width="0.5" opacity=".16"/>
<line x1="631.8" y1="671.9" x2="631.8" y2="699.0" stroke="#fff" stroke-width="0.5" opacity=".16"/>
<line x1="634.0" y1="671.9" x2="634.0" y2="699.0" stroke="#fff" stroke-width="0.5" opacity=".16"/>
<line x1="636.2" y1="671.9" x2="636.2" y2="699.0" stroke="#fff" stroke-width="0.5" opacity=".16"/>
<line x1="638.4" y1="671.9" x2="638.4" y2="699.0" stroke="#fff" stroke-width="0.5" opacity=".16"/>
<line x1="640.6" y1="671.9" x2="640.6" y2="699.0" stroke="#fff" stroke-width="0.5" opacity=".16"/>
<line x1="642.9" y1="671.9" x2="642.9" y2="699.0" stroke="#fff" stroke-width="0.5" opacity=".16"/>
<line x1="645.1" y1="671.9" x2="645.1" y2="699.0" stroke="#fff" stroke-width="0.5" opacity=".16"/>
<line x1="647.3" y1="671.9" x2="647.3" y2="699.0" stroke="#fff" stroke-width="0.5" opacity=".16"/>
<line x1="649.5" y1="671.9" x2="649.5" y2="699.0" stroke="#fff" stroke-width="0.5" opacity=".16"/>
<line x1="651.7" y1="671.9" x2="651.7" y2="699.0" stroke="#fff" stroke-width="0.5" opacity=".16"/>
<line x1="653.9" y1="671.9" x2="653.9" y2="699.0" stroke="#fff" stroke-width="0.5" opacity=".16"/>
<line x1="656.1" y1="671.9" x2="656.1" y2="699.0" stroke="#fff" stroke-width="0.5" opacity=".16"/>
<line x1="658.3" y1="671.9" x2="658.3" y2="699.0" stroke="#fff" stroke-width="0.5" opacity=".16"/>
<line x1="660.5" y1="671.9" x2="660.5" y2="699.0" stroke="#fff" stroke-width="0.5" opacity=".16"/>
<line x1="620.8" y1="671.3" x2="662.7" y2="671.3" stroke="#f6d6c0" stroke-width="0.9" opacity=".7"/>
<path d="M647.2 700.0 L647.2 668.1 Q647.2 660.7 651.0 660.7 Q654.7 660.7 654.7 668.1 L654.7 700.0 Z" fill="#d39d7b" opacity=".75"/>
<path d="M635.5 701.0 L635.5 667.3 Q635.5 659.3 641.1 659.3 Q646.8 659.3 646.8 667.3 L646.8 701.0 Z" fill="url(#cuR)"/>
<line x1="647.0" y1="661.7" x2="647.0" y2="701.0" stroke="#b07654" stroke-width="1" opacity=".75"/>
<line x1="635.3" y1="668.1" x2="635.3" y2="701.0" stroke="#c48c69" stroke-width="0.9" opacity=".6"/>
<line x1="654.9" y1="662.7" x2="654.9" y2="701.0" stroke="#b98360" stroke-width="0.9" opacity=".55"/>
<rect x="621.3" y="698.0" width="40.9" height="2.2" fill="#f6d8c2" opacity=".85"/>
<rect x="621.8" y="700.2" width="39.9" height="3.8" fill="#a4694a" opacity=".85"/>
</g>
<g id="nozzle">
<path d="M50 1195.5 L50 1186 Q50 1183.2 53 1183.2 L194 1183.2 Q196.8 1183.2 196.8 1186 L196.8 1195.5 Z" fill="url(#nzLip)"/>
<line x1="51.0" y1="1184.2" x2="196.0" y2="1184.2" stroke="#9a9a9a" stroke-width="1" opacity=".6"/>
<path d="M44 1195.2 L202.4 1195.2 L204.8 1284.8 Q190 1296 184.5 1318 Q180 1335 179.2 1352.8 L67.2 1352.8 Q66.5 1335 62 1318 Q56 1296 40.8 1284.8 Z" fill="url(#nzB)"/>
<g clip-path="url(#nzClip)"><path d="M60 1199 L187 1199 Q186 1250 181 1280 Q176 1304 158 1308 L88 1308 Q70 1304 65 1280 Q60 1250 60 1199 Z" fill="url(#nzFace)" filter="url(#bl3)"/></g>
<ellipse cx="123" cy="1300" rx="46" ry="11" fill="url(#nzSh)"/>
<g clip-path="url(#nzClip)"><path d="M80 1309 Q123 1319 166 1309 Q178 1306 184 1296 L184 1360 L62 1360 L62 1296 Q68 1306 80 1309 Z" fill="url(#nzN)" filter="url(#bl15)"/></g>
<line x1="44.0" y1="1195.6" x2="202.4" y2="1195.6" stroke="#5e5e5e" stroke-width="1" opacity=".55"/>
<rect x="76.0" y="1352.8" width="94.4" height="20.8" fill="url(#gC)"/>
<rect x="76.5" y="1353.3" width="93.4" height="19.8" fill="none" stroke="#3e3e3e" stroke-width="1" opacity=".55"/>
<path d="M129.2 1357.4 q-6 0 -6 4.2 q0 3.1 5 4.2 q4 2.5 3 6.2" fill="none" stroke="#444" stroke-width="1.3" opacity=".8"/>
<path d="M124.2 1357.0 h9 v15.6" fill="none" stroke="#444" stroke-width="1.3" opacity=".8"/>
<rect x="123.2" y="1358.6" width="9.0" height="13.7" fill="#8a8a8a" opacity=".6"/>
<line x1="80.0" y1="1369.6" x2="113.2" y2="1369.6" stroke="#444" stroke-width="1" opacity=".6"/>
<line x1="139.2" y1="1369.6" x2="166.4" y2="1369.6" stroke="#444" stroke-width="1" opacity=".6"/>
<rect x="78.0" y="1355.8" width="4.0" height="12.8" fill="#9a9a9a" opacity=".6"/>
<rect x="164.4" y="1355.8" width="4.0" height="12.8" fill="#a6a6a6" opacity=".6"/>
<line x1="67.2" y1="1352.8" x2="179.2" y2="1352.8" stroke="#4a4a4a" stroke-width="1.2" opacity=".7"/>
</g>
<g id="diffuser">
<path d="M328 1310 L406 1310 Q408 1322 409.3 1329 Q411.5 1343 414.7 1352 L317.3 1352 Q322 1343 325.3 1329 Q326.5 1322 328 1310 Z" fill="url(#dfN)"/>
<rect x="320.0" y="1352.0" width="93.3" height="21.3" fill="url(#gC)"/>
<rect x="320.5" y="1352.5" width="92.3" height="20.3" fill="none" stroke="#3e3e3e" stroke-width="1" opacity=".55"/>
<path d="M372.6 1356.7 q-6 0 -6 4.3 q0 3.2 5 4.3 q4 2.6 3 6.4" fill="none" stroke="#444" stroke-width="1.3" opacity=".8"/>
<path d="M367.6 1356.3 h9 v16.0" fill="none" stroke="#444" stroke-width="1.3" opacity=".8"/>
<rect x="366.6" y="1358.0" width="9.0" height="14.1" fill="#8a8a8a" opacity=".6"/>
<line x1="324.0" y1="1369.3" x2="356.6" y2="1369.3" stroke="#444" stroke-width="1" opacity=".6"/>
<line x1="382.6" y1="1369.3" x2="409.3" y2="1369.3" stroke="#444" stroke-width="1" opacity=".6"/>
<rect x="322.0" y="1355.0" width="4.0" height="13.3" fill="#9a9a9a" opacity=".6"/>
<rect x="407.3" y="1355.0" width="4.0" height="13.3" fill="#a6a6a6" opacity=".6"/>
<line x1="317.3" y1="1352.0" x2="414.7" y2="1352.0" stroke="#484848" stroke-width="1.2" opacity=".7"/>
<path d="M448 1194 L462 1194 Q470 1194 471.5 1200 L472 1221 L466 1221.5 L466.5 1243 Q466 1245 463 1245 L460.5 1245 L458 1222 L448 1222 Z" fill="#7a7a7a" stroke="#5a5a5a" stroke-width=".8"/>
<rect x="448" y="1196" width="8" height="25" fill="#8c8c8c"/>
<ellipse cx="366" cy="1206" rx="83.5" ry="125.5" fill="url(#dfRim)"/>
<ellipse cx="367.5" cy="1208" rx="70.5" ry="113" fill="url(#dfBev)"/>
<ellipse cx="367.3" cy="1208.7" rx="63.3" ry="104.7" fill="url(#dfPad)"/>
<g clip-path="url(#dfClip)">
<g fill="#1f1f1f"><circle cx="367.3" cy="1113.1" r="2.02"/><circle cx="370.1" cy="1115.1" r="2.02"/><circle cx="369.0" cy="1118.4" r="2.02"/><circle cx="365.6" cy="1118.4" r="2.02"/><circle cx="364.5" cy="1115.1" r="2.02"/><circle cx="367.3" cy="1116.0" r="2.24"/></g>
<g fill="#1f1f1f"><circle cx="346.6" cy="1126.5" r="2.02"/><circle cx="348.6" cy="1129.2" r="2.02"/><circle cx="346.6" cy="1132.1" r="2.02"/><circle cx="343.4" cy="1131.1" r="2.02"/><circle cx="343.3" cy="1127.6" r="2.02"/><circle cx="345.7" cy="1129.3" r="2.24"/></g>
<g fill="#1f1f1f"><circle cx="361.0" cy="1126.5" r="2.02"/><circle cx="363.0" cy="1129.2" r="2.02"/><circle cx="361.0" cy="1132.1" r="2.02"/><circle cx="357.8" cy="1131.1" r="2.02"/><circle cx="357.7" cy="1127.6" r="2.02"/><circle cx="360.1" cy="1129.3" r="2.24"/></g>
<g fill="#1f1f1f"><circle cx="375.4" cy="1126.5" r="2.02"/><circle cx="377.4" cy="1129.2" r="2.02"/><circle cx="375.4" cy="1132.1" r="2.02"/><circle cx="372.2" cy="1131.1" r="2.02"/><circle cx="372.1" cy="1127.6" r="2.02"/><circle cx="374.5" cy="1129.3" r="2.24"/></g>
<g fill="#1f1f1f"><circle cx="389.8" cy="1126.5" r="2.02"/><circle cx="391.8" cy="1129.2" r="2.02"/><circle cx="389.8" cy="1132.1" r="2.02"/><circle cx="386.6" cy="1131.1" r="2.02"/><circle cx="386.5" cy="1127.6" r="2.02"/><circle cx="388.9" cy="1129.3" r="2.24"/></g>
<g fill="#1f1f1f"><circle cx="340.1" cy="1140.2" r="2.02"/><circle cx="341.3" cy="1143.4" r="2.02"/><circle cx="338.6" cy="1145.5" r="2.02"/><circle cx="335.8" cy="1143.6" r="2.02"/><circle cx="336.7" cy="1140.3" r="2.02"/><circle cx="338.5" cy="1142.6" r="2.24"/></g>
<g fill="#1f1f1f"><circle cx="354.5" cy="1140.2" r="2.02"/><circle cx="355.7" cy="1143.4" r="2.02"/><circle cx="353.0" cy="1145.5" r="2.02"/><circle cx="350.2" cy="1143.6" r="2.02"/><circle cx="351.1" cy="1140.3" r="2.02"/><circle cx="352.9" cy="1142.6" r="2.24"/></g>
<g fill="#1f1f1f"><circle cx="368.9" cy="1140.2" r="2.02"/><circle cx="370.1" cy="1143.4" r="2.02"/><circle cx="367.4" cy="1145.5" r="2.02"/><circle cx="364.6" cy="1143.6" r="2.02"/><circle cx="365.5" cy="1140.3" r="2.02"/><circle cx="367.3" cy="1142.6" r="2.24"/></g>
<g fill="#1f1f1f"><circle cx="383.3" cy="1140.2" r="2.02"/><circle cx="384.5" cy="1143.4" r="2.02"/><circle cx="381.8" cy="1145.5" r="2.02"/><circle cx="379.0" cy="1143.6" r="2.02"/><circle cx="379.9" cy="1140.3" r="2.02"/><circle cx="381.7" cy="1142.6" r="2.24"/></g>
<g fill="#1f1f1f"><circle cx="397.7" cy="1140.2" r="2.02"/><circle cx="398.9" cy="1143.4" r="2.02"/><circle cx="396.2" cy="1145.5" r="2.02"/><circle cx="393.4" cy="1143.6" r="2.02"/><circle cx="394.3" cy="1140.3" r="2.02"/><circle cx="396.1" cy="1142.6" r="2.24"/></g>
<g fill="#1f1f1f"><circle cx="333.6" cy="1154.1" r="2.02"/><circle cx="333.7" cy="1157.5" r="2.02"/><circle cx="330.5" cy="1158.7" r="2.02"/><circle cx="328.4" cy="1156.1" r="2.02"/><circle cx="330.3" cy="1153.2" r="2.02"/><circle cx="331.3" cy="1155.9" r="2.24"/></g>
<g fill="#1f1f1f"><circle cx="348.0" cy="1154.1" r="2.02"/><circle cx="348.1" cy="1157.5" r="2.02"/><circle cx="344.9" cy="1158.7" r="2.02"/><circle cx="342.8" cy="1156.1" r="2.02"/><circle cx="344.7" cy="1153.2" r="2.02"/><circle cx="345.7" cy="1155.9" r="2.24"/></g>
<g fill="#1f1f1f"><circle cx="362.4" cy="1154.1" r="2.02"/><circle cx="362.5" cy="1157.5" r="2.02"/><circle cx="359.3" cy="1158.7" r="2.02"/><circle cx="357.2" cy="1156.1" r="2.02"/><circle cx="359.1" cy="1153.2" r="2.02"/><circle cx="360.1" cy="1155.9" r="2.24"/></g>
<g fill="#1f1f1f"><circle cx="376.8" cy="1154.1" r="2.02"/><circle cx="376.9" cy="1157.5" r="2.02"/><circle cx="373.7" cy="1158.7" r="2.02"/><circle cx="371.6" cy="1156.1" r="2.02"/><circle cx="373.5" cy="1153.2" r="2.02"/><circle cx="374.5" cy="1155.9" r="2.24"/></g>
<g fill="#1f1f1f"><circle cx="391.2" cy="1154.1" r="2.02"/><circle cx="391.3" cy="1157.5" r="2.02"/><circle cx="388.1" cy="1158.7" r="2.02"/><circle cx="386.0" cy="1156.1" r="2.02"/><circle cx="387.9" cy="1153.2" r="2.02"/><circle cx="388.9" cy="1155.9" r="2.24"/></g>
<g fill="#1f1f1f"><circle cx="405.6" cy="1154.1" r="2.02"/><circle cx="405.7" cy="1157.5" r="2.02"/><circle cx="402.5" cy="1158.7" r="2.02"/><circle cx="400.4" cy="1156.1" r="2.02"/><circle cx="402.3" cy="1153.2" r="2.02"/><circle cx="403.3" cy="1155.9" r="2.24"/></g>
<g fill="#1f1f1f"><circle cx="326.8" cy="1168.1" r="2.02"/><circle cx="326.0" cy="1171.4" r="2.02"/><circle cx="322.6" cy="1171.7" r="2.02"/><circle cx="321.3" cy="1168.5" r="2.02"/><circle cx="323.9" cy="1166.3" r="2.02"/><circle cx="324.1" cy="1169.2" r="2.24"/></g>
<g fill="#1f1f1f"><circle cx="341.2" cy="1168.1" r="2.02"/><circle cx="340.4" cy="1171.4" r="2.02"/><circle cx="337.0" cy="1171.7" r="2.02"/><circle cx="335.7" cy="1168.5" r="2.02"/><circle cx="338.3" cy="1166.3" r="2.02"/><circle cx="338.5" cy="1169.2" r="2.24"/></g>
<g fill="#1f1f1f"><circle cx="355.6" cy="1168.1" r="2.02"/><circle cx="354.8" cy="1171.4" r="2.02"/><circle cx="351.4" cy="1171.7" r="2.02"/><circle cx="350.1" cy="1168.5" r="2.02"/><circle cx="352.7" cy="1166.3" r="2.02"/><circle cx="352.9" cy="1169.2" r="2.24"/></g>
<g fill="#1f1f1f"><circle cx="370.0" cy="1168.1" r="2.02"/><circle cx="369.2" cy="1171.4" r="2.02"/><circle cx="365.8" cy="1171.7" r="2.02"/><circle cx="364.5" cy="1168.5" r="2.02"/><circle cx="367.1" cy="1166.3" r="2.02"/><circle cx="367.3" cy="1169.2" r="2.24"/></g>
<g fill="#1f1f1f"><circle cx="384.4" cy="1168.1" r="2.02"/><circle cx="383.6" cy="1171.4" r="2.02"/><circle cx="380.2" cy="1171.7" r="2.02"/><circle cx="378.9" cy="1168.5" r="2.02"/><circle cx="381.5" cy="1166.3" r="2.02"/><circle cx="381.7" cy="1169.2" r="2.24"/></g>
<g fill="#1f1f1f"><circle cx="398.8" cy="1168.1" r="2.02"/><circle cx="398.0" cy="1171.4" r="2.02"/><circle cx="394.6" cy="1171.7" r="2.02"/><circle cx="393.3" cy="1168.5" r="2.02"/><circle cx="395.9" cy="1166.3" r="2.02"/><circle cx="396.1" cy="1169.2" r="2.24"/></g>
<g fill="#1f1f1f"><circle cx="413.2" cy="1168.1" r="2.02"/><circle cx="412.4" cy="1171.4" r="2.02"/><circle cx="409.0" cy="1171.7" r="2.02"/><circle cx="407.7" cy="1168.5" r="2.02"/><circle cx="410.3" cy="1166.3" r="2.02"/><circle cx="410.5" cy="1169.2" r="2.24"/></g>
<g fill="#1f1f1f"><circle cx="317.6" cy="1179.7" r="2.02"/><circle cx="319.8" cy="1182.2" r="2.02"/><circle cx="318.0" cy="1185.2" r="2.02"/><circle cx="314.7" cy="1184.4" r="2.02"/><circle cx="314.4" cy="1181.0" r="2.02"/><circle cx="316.9" cy="1182.5" r="2.24"/></g>
<g fill="#1f1f1f"><circle cx="332.0" cy="1179.7" r="2.02"/><circle cx="334.2" cy="1182.2" r="2.02"/><circle cx="332.4" cy="1185.2" r="2.02"/><circle cx="329.1" cy="1184.4" r="2.02"/><circle cx="328.8" cy="1181.0" r="2.02"/><circle cx="331.3" cy="1182.5" r="2.24"/></g>
<g fill="#1f1f1f"><circle cx="346.4" cy="1179.7" r="2.02"/><circle cx="348.6" cy="1182.2" r="2.02"/><circle cx="346.8" cy="1185.2" r="2.02"/><circle cx="343.5" cy="1184.4" r="2.02"/><circle cx="343.2" cy="1181.0" r="2.02"/><circle cx="345.7" cy="1182.5" r="2.24"/></g>
<g fill="#1f1f1f"><circle cx="360.8" cy="1179.7" r="2.02"/><circle cx="363.0" cy="1182.2" r="2.02"/><circle cx="361.2" cy="1185.2" r="2.02"/><circle cx="357.9" cy="1184.4" r="2.02"/><circle cx="357.6" cy="1181.0" r="2.02"/><circle cx="360.1" cy="1182.5" r="2.24"/></g>
<g fill="#1f1f1f"><circle cx="375.2" cy="1179.7" r="2.02"/><circle cx="377.4" cy="1182.2" r="2.02"/><circle cx="375.6" cy="1185.2" r="2.02"/><circle cx="372.3" cy="1184.4" r="2.02"/><circle cx="372.0" cy="1181.0" r="2.02"/><circle cx="374.5" cy="1182.5" r="2.24"/></g>
<g fill="#1f1f1f"><circle cx="389.6" cy="1179.7" r="2.02"/><circle cx="391.8" cy="1182.2" r="2.02"/><circle cx="390.0" cy="1185.2" r="2.02"/><circle cx="386.7" cy="1184.4" r="2.02"/><circle cx="386.4" cy="1181.0" r="2.02"/><circle cx="388.9" cy="1182.5" r="2.24"/></g>
<g fill="#1f1f1f"><circle cx="404.0" cy="1179.7" r="2.02"/><circle cx="406.2" cy="1182.2" r="2.02"/><circle cx="404.4" cy="1185.2" r="2.02"/><circle cx="401.1" cy="1184.4" r="2.02"/><circle cx="400.8" cy="1181.0" r="2.02"/><circle cx="403.3" cy="1182.5" r="2.24"/></g>
<g fill="#1f1f1f"><circle cx="418.4" cy="1179.7" r="2.02"/><circle cx="420.6" cy="1182.2" r="2.02"/><circle cx="418.8" cy="1185.2" r="2.02"/><circle cx="415.5" cy="1184.4" r="2.02"/><circle cx="415.2" cy="1181.0" r="2.02"/><circle cx="417.7" cy="1182.5" r="2.24"/></g>
<g fill="#1f1f1f"><circle cx="325.6" cy="1193.3" r="2.02"/><circle cx="326.9" cy="1196.4" r="2.02"/><circle cx="324.4" cy="1198.7" r="2.02"/><circle cx="321.4" cy="1197.0" r="2.02"/><circle cx="322.2" cy="1193.6" r="2.02"/><circle cx="324.1" cy="1195.8" r="2.24"/></g>
<g fill="#1f1f1f"><circle cx="340.0" cy="1193.3" r="2.02"/><circle cx="341.3" cy="1196.4" r="2.02"/><circle cx="338.8" cy="1198.7" r="2.02"/><circle cx="335.8" cy="1197.0" r="2.02"/><circle cx="336.6" cy="1193.6" r="2.02"/><circle cx="338.5" cy="1195.8" r="2.24"/></g>
<g fill="#1f1f1f"><circle cx="354.4" cy="1193.3" r="2.02"/><circle cx="355.7" cy="1196.4" r="2.02"/><circle cx="353.2" cy="1198.7" r="2.02"/><circle cx="350.2" cy="1197.0" r="2.02"/><circle cx="351.0" cy="1193.6" r="2.02"/><circle cx="352.9" cy="1195.8" r="2.24"/></g>
<g fill="#1f1f1f"><circle cx="368.8" cy="1193.3" r="2.02"/><circle cx="370.1" cy="1196.4" r="2.02"/><circle cx="367.6" cy="1198.7" r="2.02"/><circle cx="364.6" cy="1197.0" r="2.02"/><circle cx="365.4" cy="1193.6" r="2.02"/><circle cx="367.3" cy="1195.8" r="2.24"/></g>
<g fill="#1f1f1f"><circle cx="383.2" cy="1193.3" r="2.02"/><circle cx="384.5" cy="1196.4" r="2.02"/><circle cx="382.0" cy="1198.7" r="2.02"/><circle cx="379.0" cy="1197.0" r="2.02"/><circle cx="379.8" cy="1193.6" r="2.02"/><circle cx="381.7" cy="1195.8" r="2.24"/></g>
<g fill="#1f1f1f"><circle cx="397.6" cy="1193.3" r="2.02"/><circle cx="398.9" cy="1196.4" r="2.02"/><circle cx="396.4" cy="1198.7" r="2.02"/><circle cx="393.4" cy="1197.0" r="2.02"/><circle cx="394.2" cy="1193.6" r="2.02"/><circle cx="396.1" cy="1195.8" r="2.24"/></g>
<g fill="#1f1f1f"><circle cx="412.0" cy="1193.3" r="2.02"/><circle cx="413.3" cy="1196.4" r="2.02"/><circle cx="410.8" cy="1198.7" r="2.02"/><circle cx="407.8" cy="1197.0" r="2.02"/><circle cx="408.6" cy="1193.6" r="2.02"/><circle cx="410.5" cy="1195.8" r="2.24"/></g>
<g fill="#1f1f1f"><circle cx="319.0" cy="1207.1" r="2.02"/><circle cx="319.4" cy="1210.5" r="2.02"/><circle cx="316.3" cy="1212.0" r="2.02"/><circle cx="314.0" cy="1209.5" r="2.02"/><circle cx="315.7" cy="1206.5" r="2.02"/><circle cx="316.9" cy="1209.1" r="2.24"/></g>
<g fill="#1f1f1f"><circle cx="333.4" cy="1207.1" r="2.02"/><circle cx="333.8" cy="1210.5" r="2.02"/><circle cx="330.7" cy="1212.0" r="2.02"/><circle cx="328.4" cy="1209.5" r="2.02"/><circle cx="330.1" cy="1206.5" r="2.02"/><circle cx="331.3" cy="1209.1" r="2.24"/></g>
<g fill="#1f1f1f"><circle cx="347.8" cy="1207.1" r="2.02"/><circle cx="348.2" cy="1210.5" r="2.02"/><circle cx="345.1" cy="1212.0" r="2.02"/><circle cx="342.8" cy="1209.5" r="2.02"/><circle cx="344.5" cy="1206.5" r="2.02"/><circle cx="345.7" cy="1209.1" r="2.24"/></g>
<g fill="#1f1f1f"><circle cx="362.2" cy="1207.1" r="2.02"/><circle cx="362.6" cy="1210.5" r="2.02"/><circle cx="359.5" cy="1212.0" r="2.02"/><circle cx="357.2" cy="1209.5" r="2.02"/><circle cx="358.9" cy="1206.5" r="2.02"/><circle cx="360.1" cy="1209.1" r="2.24"/></g>
<g fill="#1f1f1f"><circle cx="376.6" cy="1207.1" r="2.02"/><circle cx="377.0" cy="1210.5" r="2.02"/><circle cx="373.9" cy="1212.0" r="2.02"/><circle cx="371.6" cy="1209.5" r="2.02"/><circle cx="373.3" cy="1206.5" r="2.02"/><circle cx="374.5" cy="1209.1" r="2.24"/></g>
<g fill="#1f1f1f"><circle cx="391.0" cy="1207.1" r="2.02"/><circle cx="391.4" cy="1210.5" r="2.02"/><circle cx="388.3" cy="1212.0" r="2.02"/><circle cx="386.0" cy="1209.5" r="2.02"/><circle cx="387.7" cy="1206.5" r="2.02"/><circle cx="388.9" cy="1209.1" r="2.24"/></g>
<g fill="#1f1f1f"><circle cx="405.4" cy="1207.1" r="2.02"/><circle cx="405.8" cy="1210.5" r="2.02"/><circle cx="402.7" cy="1212.0" r="2.02"/><circle cx="400.4" cy="1209.5" r="2.02"/><circle cx="402.1" cy="1206.5" r="2.02"/><circle cx="403.3" cy="1209.1" r="2.24"/></g>
<g fill="#1f1f1f"><circle cx="419.8" cy="1207.1" r="2.02"/><circle cx="420.2" cy="1210.5" r="2.02"/><circle cx="417.1" cy="1212.0" r="2.02"/><circle cx="414.8" cy="1209.5" r="2.02"/><circle cx="416.5" cy="1206.5" r="2.02"/><circle cx="417.7" cy="1209.1" r="2.24"/></g>
<g fill="#1f1f1f"><circle cx="326.7" cy="1221.1" r="2.02"/><circle cx="326.1" cy="1224.5" r="2.02"/><circle cx="322.7" cy="1225.0" r="2.02"/><circle cx="321.2" cy="1221.9" r="2.02"/><circle cx="323.7" cy="1219.5" r="2.02"/><circle cx="324.1" cy="1222.4" r="2.24"/></g>
<g fill="#1f1f1f"><circle cx="341.1" cy="1221.1" r="2.02"/><circle cx="340.5" cy="1224.5" r="2.02"/><circle cx="337.1" cy="1225.0" r="2.02"/><circle cx="335.6" cy="1221.9" r="2.02"/><circle cx="338.1" cy="1219.5" r="2.02"/><circle cx="338.5" cy="1222.4" r="2.24"/></g>
<g fill="#1f1f1f"><circle cx="355.5" cy="1221.1" r="2.02"/><circle cx="354.9" cy="1224.5" r="2.02"/><circle cx="351.5" cy="1225.0" r="2.02"/><circle cx="350.0" cy="1221.9" r="2.02"/><circle cx="352.5" cy="1219.5" r="2.02"/><circle cx="352.9" cy="1222.4" r="2.24"/></g>
<g fill="#1f1f1f"><circle cx="369.9" cy="1221.1" r="2.02"/><circle cx="369.3" cy="1224.5" r="2.02"/><circle cx="365.9" cy="1225.0" r="2.02"/><circle cx="364.4" cy="1221.9" r="2.02"/><circle cx="366.9" cy="1219.5" r="2.02"/><circle cx="367.3" cy="1222.4" r="2.24"/></g>
<g fill="#1f1f1f"><circle cx="384.3" cy="1221.1" r="2.02"/><circle cx="383.7" cy="1224.5" r="2.02"/><circle cx="380.3" cy="1225.0" r="2.02"/><circle cx="378.8" cy="1221.9" r="2.02"/><circle cx="381.3" cy="1219.5" r="2.02"/><circle cx="381.7" cy="1222.4" r="2.24"/></g>
<g fill="#1f1f1f"><circle cx="398.7" cy="1221.1" r="2.02"/><circle cx="398.1" cy="1224.5" r="2.02"/><circle cx="394.7" cy="1225.0" r="2.02"/><circle cx="393.2" cy="1221.9" r="2.02"/><circle cx="395.7" cy="1219.5" r="2.02"/><circle cx="396.1" cy="1222.4" r="2.24"/></g>
<g fill="#1f1f1f"><circle cx="413.1" cy="1221.1" r="2.02"/><circle cx="412.5" cy="1224.5" r="2.02"/><circle cx="409.1" cy="1225.0" r="2.02"/><circle cx="407.6" cy="1221.9" r="2.02"/><circle cx="410.1" cy="1219.5" r="2.02"/><circle cx="410.5" cy="1222.4" r="2.24"/></g>
<g fill="#1f1f1f"><circle cx="317.4" cy="1232.8" r="2.02"/><circle cx="319.8" cy="1235.2" r="2.02"/><circle cx="318.2" cy="1238.3" r="2.02"/><circle cx="314.8" cy="1237.8" r="2.02"/><circle cx="314.3" cy="1234.4" r="2.02"/><circle cx="316.9" cy="1235.7" r="2.24"/></g>
<g fill="#1f1f1f"><circle cx="331.8" cy="1232.8" r="2.02"/><circle cx="334.2" cy="1235.2" r="2.02"/><circle cx="332.6" cy="1238.3" r="2.02"/><circle cx="329.2" cy="1237.8" r="2.02"/><circle cx="328.7" cy="1234.4" r="2.02"/><circle cx="331.3" cy="1235.7" r="2.24"/></g>
<g fill="#1f1f1f"><circle cx="346.2" cy="1232.8" r="2.02"/><circle cx="348.6" cy="1235.2" r="2.02"/><circle cx="347.0" cy="1238.3" r="2.02"/><circle cx="343.6" cy="1237.8" r="2.02"/><circle cx="343.1" cy="1234.4" r="2.02"/><circle cx="345.7" cy="1235.7" r="2.24"/></g>
<g fill="#1f1f1f"><circle cx="360.6" cy="1232.8" r="2.02"/><circle cx="363.0" cy="1235.2" r="2.02"/><circle cx="361.4" cy="1238.3" r="2.02"/><circle cx="358.0" cy="1237.8" r="2.02"/><circle cx="357.5" cy="1234.4" r="2.02"/><circle cx="360.1" cy="1235.7" r="2.24"/></g>
<g fill="#353535"><circle cx="375.0" cy="1232.8" r="2.02"/><circle cx="377.4" cy="1235.2" r="2.02"/><circle cx="375.8" cy="1238.3" r="2.02"/><circle cx="372.4" cy="1237.8" r="2.02"/><circle cx="371.9" cy="1234.4" r="2.02"/><circle cx="374.5" cy="1235.7" r="2.24"/></g>
<g fill="#353535"><circle cx="389.4" cy="1232.8" r="2.02"/><circle cx="391.8" cy="1235.2" r="2.02"/><circle cx="390.2" cy="1238.3" r="2.02"/><circle cx="386.8" cy="1237.8" r="2.02"/><circle cx="386.3" cy="1234.4" r="2.02"/><circle cx="388.9" cy="1235.7" r="2.24"/></g>
<g fill="#353535"><circle cx="403.8" cy="1232.8" r="2.02"/><circle cx="406.2" cy="1235.2" r="2.02"/><circle cx="404.6" cy="1238.3" r="2.02"/><circle cx="401.2" cy="1237.8" r="2.02"/><circle cx="400.7" cy="1234.4" r="2.02"/><circle cx="403.3" cy="1235.7" r="2.24"/></g>
<g fill="#353535"><circle cx="418.2" cy="1232.8" r="2.02"/><circle cx="420.6" cy="1235.2" r="2.02"/><circle cx="419.0" cy="1238.3" r="2.02"/><circle cx="415.6" cy="1237.8" r="2.02"/><circle cx="415.1" cy="1234.4" r="2.02"/><circle cx="417.7" cy="1235.7" r="2.24"/></g>
<g fill="#1f1f1f"><circle cx="325.4" cy="1246.4" r="2.02"/><circle cx="327.0" cy="1249.4" r="2.02"/><circle cx="324.6" cy="1251.9" r="2.02"/><circle cx="321.5" cy="1250.4" r="2.02"/><circle cx="322.0" cy="1247.0" r="2.02"/><circle cx="324.1" cy="1249.0" r="2.24"/></g>
<g fill="#1f1f1f"><circle cx="339.8" cy="1246.4" r="2.02"/><circle cx="341.4" cy="1249.4" r="2.02"/><circle cx="339.0" cy="1251.9" r="2.02"/><circle cx="335.9" cy="1250.4" r="2.02"/><circle cx="336.4" cy="1247.0" r="2.02"/><circle cx="338.5" cy="1249.0" r="2.24"/></g>
<g fill="#1f1f1f"><circle cx="354.2" cy="1246.4" r="2.02"/><circle cx="355.8" cy="1249.4" r="2.02"/><circle cx="353.4" cy="1251.9" r="2.02"/><circle cx="350.3" cy="1250.4" r="2.02"/><circle cx="350.8" cy="1247.0" r="2.02"/><circle cx="352.9" cy="1249.0" r="2.24"/></g>
<g fill="#353535"><circle cx="368.6" cy="1246.4" r="2.02"/><circle cx="370.2" cy="1249.4" r="2.02"/><circle cx="367.8" cy="1251.9" r="2.02"/><circle cx="364.7" cy="1250.4" r="2.02"/><circle cx="365.2" cy="1247.0" r="2.02"/><circle cx="367.3" cy="1249.0" r="2.24"/></g>
<g fill="#353535"><circle cx="383.0" cy="1246.4" r="2.02"/><circle cx="384.6" cy="1249.4" r="2.02"/><circle cx="382.2" cy="1251.9" r="2.02"/><circle cx="379.1" cy="1250.4" r="2.02"/><circle cx="379.6" cy="1247.0" r="2.02"/><circle cx="381.7" cy="1249.0" r="2.24"/></g>
<g fill="#353535"><circle cx="397.4" cy="1246.4" r="2.02"/><circle cx="399.0" cy="1249.4" r="2.02"/><circle cx="396.6" cy="1251.9" r="2.02"/><circle cx="393.5" cy="1250.4" r="2.02"/><circle cx="394.0" cy="1247.0" r="2.02"/><circle cx="396.1" cy="1249.0" r="2.24"/></g>
<g fill="#353535"><circle cx="411.8" cy="1246.4" r="2.02"/><circle cx="413.4" cy="1249.4" r="2.02"/><circle cx="411.0" cy="1251.9" r="2.02"/><circle cx="407.9" cy="1250.4" r="2.02"/><circle cx="408.4" cy="1247.0" r="2.02"/><circle cx="410.5" cy="1249.0" r="2.24"/></g>
<g fill="#1f1f1f"><circle cx="333.3" cy="1260.2" r="2.02"/><circle cx="333.9" cy="1263.5" r="2.02"/><circle cx="330.9" cy="1265.2" r="2.02"/><circle cx="328.4" cy="1262.9" r="2.02"/><circle cx="329.9" cy="1259.8" r="2.02"/><circle cx="331.3" cy="1262.3" r="2.24"/></g>
<g fill="#1f1f1f"><circle cx="347.7" cy="1260.2" r="2.02"/><circle cx="348.3" cy="1263.5" r="2.02"/><circle cx="345.3" cy="1265.2" r="2.02"/><circle cx="342.8" cy="1262.9" r="2.02"/><circle cx="344.3" cy="1259.8" r="2.02"/><circle cx="345.7" cy="1262.3" r="2.24"/></g>
<g fill="#1f1f1f"><circle cx="362.1" cy="1260.2" r="2.02"/><circle cx="362.7" cy="1263.5" r="2.02"/><circle cx="359.7" cy="1265.2" r="2.02"/><circle cx="357.2" cy="1262.9" r="2.02"/><circle cx="358.7" cy="1259.8" r="2.02"/><circle cx="360.1" cy="1262.3" r="2.24"/></g>
<g fill="#353535"><circle cx="376.5" cy="1260.2" r="2.02"/><circle cx="377.1" cy="1263.5" r="2.02"/><circle cx="374.1" cy="1265.2" r="2.02"/><circle cx="371.6" cy="1262.9" r="2.02"/><circle cx="373.1" cy="1259.8" r="2.02"/><circle cx="374.5" cy="1262.3" r="2.24"/></g>
<g fill="#353535"><circle cx="390.9" cy="1260.2" r="2.02"/><circle cx="391.5" cy="1263.5" r="2.02"/><circle cx="388.5" cy="1265.2" r="2.02"/><circle cx="386.0" cy="1262.9" r="2.02"/><circle cx="387.5" cy="1259.8" r="2.02"/><circle cx="388.9" cy="1262.3" r="2.24"/></g>
<g fill="#353535"><circle cx="405.3" cy="1260.2" r="2.02"/><circle cx="405.9" cy="1263.5" r="2.02"/><circle cx="402.9" cy="1265.2" r="2.02"/><circle cx="400.4" cy="1262.9" r="2.02"/><circle cx="401.9" cy="1259.8" r="2.02"/><circle cx="403.3" cy="1262.3" r="2.24"/></g>
<g fill="#1f1f1f"><circle cx="341.0" cy="1274.1" r="2.02"/><circle cx="340.7" cy="1277.5" r="2.02"/><circle cx="337.3" cy="1278.3" r="2.02"/><circle cx="335.6" cy="1275.3" r="2.02"/><circle cx="337.9" cy="1272.8" r="2.02"/><circle cx="338.5" cy="1275.6" r="2.24"/></g>
<g fill="#1f1f1f"><circle cx="355.4" cy="1274.1" r="2.02"/><circle cx="355.1" cy="1277.5" r="2.02"/><circle cx="351.7" cy="1278.3" r="2.02"/><circle cx="350.0" cy="1275.3" r="2.02"/><circle cx="352.3" cy="1272.8" r="2.02"/><circle cx="352.9" cy="1275.6" r="2.24"/></g>
<g fill="#353535"><circle cx="369.8" cy="1274.1" r="2.02"/><circle cx="369.5" cy="1277.5" r="2.02"/><circle cx="366.1" cy="1278.3" r="2.02"/><circle cx="364.4" cy="1275.3" r="2.02"/><circle cx="366.7" cy="1272.8" r="2.02"/><circle cx="367.3" cy="1275.6" r="2.24"/></g>
<g fill="#353535"><circle cx="384.2" cy="1274.1" r="2.02"/><circle cx="383.9" cy="1277.5" r="2.02"/><circle cx="380.5" cy="1278.3" r="2.02"/><circle cx="378.8" cy="1275.3" r="2.02"/><circle cx="381.1" cy="1272.8" r="2.02"/><circle cx="381.7" cy="1275.6" r="2.24"/></g>
<g fill="#353535"><circle cx="398.6" cy="1274.1" r="2.02"/><circle cx="398.3" cy="1277.5" r="2.02"/><circle cx="394.9" cy="1278.3" r="2.02"/><circle cx="393.2" cy="1275.3" r="2.02"/><circle cx="395.5" cy="1272.8" r="2.02"/><circle cx="396.1" cy="1275.6" r="2.24"/></g>
<g fill="#1f1f1f"><circle cx="346.0" cy="1286.0" r="2.02"/><circle cx="348.5" cy="1288.2" r="2.02"/><circle cx="347.2" cy="1291.4" r="2.02"/><circle cx="343.8" cy="1291.1" r="2.02"/><circle cx="343.0" cy="1287.8" r="2.02"/><circle cx="345.7" cy="1288.9" r="2.24"/></g>
<g fill="#1f1f1f"><circle cx="360.4" cy="1286.0" r="2.02"/><circle cx="362.9" cy="1288.2" r="2.02"/><circle cx="361.6" cy="1291.4" r="2.02"/><circle cx="358.2" cy="1291.1" r="2.02"/><circle cx="357.4" cy="1287.8" r="2.02"/><circle cx="360.1" cy="1288.9" r="2.24"/></g>
<g fill="#353535"><circle cx="374.8" cy="1286.0" r="2.02"/><circle cx="377.3" cy="1288.2" r="2.02"/><circle cx="376.0" cy="1291.4" r="2.02"/><circle cx="372.6" cy="1291.1" r="2.02"/><circle cx="371.8" cy="1287.8" r="2.02"/><circle cx="374.5" cy="1288.9" r="2.24"/></g>
<g fill="#353535"><circle cx="389.2" cy="1286.0" r="2.02"/><circle cx="391.7" cy="1288.2" r="2.02"/><circle cx="390.4" cy="1291.4" r="2.02"/><circle cx="387.0" cy="1291.1" r="2.02"/><circle cx="386.2" cy="1287.8" r="2.02"/><circle cx="388.9" cy="1288.9" r="2.24"/></g>
<g fill="#353535"><circle cx="368.4" cy="1299.5" r="2.02"/><circle cx="370.2" cy="1302.4" r="2.02"/><circle cx="368.0" cy="1305.0" r="2.02"/><circle cx="364.8" cy="1303.7" r="2.02"/><circle cx="365.1" cy="1300.3" r="2.02"/><circle cx="367.3" cy="1302.2" r="2.24"/></g>
</g>
<g fill="#6c6c6c">
<circle cx="345.7" cy="1122.6" r="1.1"/>
<circle cx="360.1" cy="1122.6" r="1.1"/>
<circle cx="374.5" cy="1122.6" r="1.1"/>
<circle cx="388.9" cy="1122.6" r="1.1"/>
<circle cx="338.5" cy="1135.9" r="1.1"/>
<circle cx="352.9" cy="1135.9" r="1.1"/>
<circle cx="367.3" cy="1135.9" r="1.1"/>
<circle cx="381.7" cy="1135.9" r="1.1"/>
<circle cx="396.1" cy="1135.9" r="1.1"/>
<circle cx="331.3" cy="1149.2" r="1.1"/>
<circle cx="345.7" cy="1149.2" r="1.1"/>
<circle cx="360.1" cy="1149.2" r="1.1"/>
<circle cx="374.5" cy="1149.2" r="1.1"/>
<circle cx="388.9" cy="1149.2" r="1.1"/>
<circle cx="403.3" cy="1149.2" r="1.1"/>
<circle cx="324.1" cy="1162.5" r="1.1"/>
<circle cx="338.5" cy="1162.5" r="1.1"/>
<circle cx="352.9" cy="1162.5" r="1.1"/>
<circle cx="367.3" cy="1162.5" r="1.1"/>
<circle cx="381.7" cy="1162.5" r="1.1"/>
<circle cx="396.1" cy="1162.5" r="1.1"/>
<circle cx="410.5" cy="1162.5" r="1.1"/>
<circle cx="316.9" cy="1175.8" r="1.1"/>
<circle cx="331.3" cy="1175.8" r="1.1"/>
<circle cx="345.7" cy="1175.8" r="1.1"/>
<circle cx="360.1" cy="1175.8" r="1.1"/>
<circle cx="374.5" cy="1175.8" r="1.1"/>
<circle cx="388.9" cy="1175.8" r="1.1"/>
<circle cx="403.3" cy="1175.8" r="1.1"/>
<circle cx="417.7" cy="1175.8" r="1.1"/>
<circle cx="324.1" cy="1189.1" r="1.1"/>
<circle cx="338.5" cy="1189.1" r="1.1"/>
<circle cx="352.9" cy="1189.1" r="1.1"/>
<circle cx="367.3" cy="1189.1" r="1.1"/>
<circle cx="381.7" cy="1189.1" r="1.1"/>
<circle cx="396.1" cy="1189.1" r="1.1"/>
<circle cx="410.5" cy="1189.1" r="1.1"/>
<circle cx="316.9" cy="1202.4" r="1.1"/>
<circle cx="331.3" cy="1202.4" r="1.1"/>
<circle cx="345.7" cy="1202.4" r="1.1"/>
<circle cx="360.1" cy="1202.4" r="1.1"/>
<circle cx="374.5" cy="1202.4" r="1.1"/>
<circle cx="388.9" cy="1202.4" r="1.1"/>
<circle cx="403.3" cy="1202.4" r="1.1"/>
<circle cx="417.7" cy="1202.4" r="1.1"/>
<circle cx="324.1" cy="1215.7" r="1.1"/>
<circle cx="338.5" cy="1215.7" r="1.1"/>
<circle cx="352.9" cy="1215.7" r="1.1"/>
<circle cx="367.3" cy="1215.7" r="1.1"/>
<circle cx="381.7" cy="1215.7" r="1.1"/>
<circle cx="396.1" cy="1215.7" r="1.1"/>
<circle cx="410.5" cy="1215.7" r="1.1"/>
<circle cx="316.9" cy="1229.0" r="1.1"/>
<circle cx="331.3" cy="1229.0" r="1.1"/>
<circle cx="345.7" cy="1229.0" r="1.1"/>
<circle cx="360.1" cy="1229.0" r="1.1"/>
<circle cx="374.5" cy="1229.0" r="1.1"/>
<circle cx="388.9" cy="1229.0" r="1.1"/>
<circle cx="403.3" cy="1229.0" r="1.1"/>
<circle cx="417.7" cy="1229.0" r="1.1"/>
<circle cx="324.1" cy="1242.3" r="1.1"/>
<circle cx="338.5" cy="1242.3" r="1.1"/>
<circle cx="352.9" cy="1242.3" r="1.1"/>
<circle cx="367.3" cy="1242.3" r="1.1"/>
<circle cx="381.7" cy="1242.3" r="1.1"/>
<circle cx="396.1" cy="1242.3" r="1.1"/>
<circle cx="410.5" cy="1242.3" r="1.1"/>
<circle cx="331.3" cy="1255.6" r="1.1"/>
<circle cx="345.7" cy="1255.6" r="1.1"/>
<circle cx="360.1" cy="1255.6" r="1.1"/>
<circle cx="374.5" cy="1255.6" r="1.1"/>
<circle cx="388.9" cy="1255.6" r="1.1"/>
<circle cx="403.3" cy="1255.6" r="1.1"/>
<circle cx="324.1" cy="1268.9" r="1.1"/>
<circle cx="338.5" cy="1268.9" r="1.1"/>
<circle cx="352.9" cy="1268.9" r="1.1"/>
<circle cx="367.3" cy="1268.9" r="1.1"/>
<circle cx="381.7" cy="1268.9" r="1.1"/>
<circle cx="396.1" cy="1268.9" r="1.1"/>
<circle cx="410.5" cy="1268.9" r="1.1"/>
<circle cx="331.3" cy="1282.2" r="1.1"/>
<circle cx="345.7" cy="1282.2" r="1.1"/>
<circle cx="360.1" cy="1282.2" r="1.1"/>
<circle cx="374.5" cy="1282.2" r="1.1"/>
<circle cx="388.9" cy="1282.2" r="1.1"/>
<circle cx="403.3" cy="1282.2" r="1.1"/>
<circle cx="352.9" cy="1295.5" r="1.1"/>
<circle cx="367.3" cy="1295.5" r="1.1"/>
<circle cx="381.7" cy="1295.5" r="1.1"/>
</g>
<g stroke="#202020" stroke-width="2.2" stroke-linecap="round">
<line x1="367.3" y1="1108.7" x2="367.3" y2="1122.7" stroke="#202020" stroke-width="2.2"/>
<line x1="389.8" y1="1116.0" x2="386.0" y2="1129.0" stroke="#202020" stroke-width="2.2"/>
<line x1="405.9" y1="1132.1" x2="399.4" y2="1142.8" stroke="#202020" stroke-width="2.2"/>
<line x1="419.3" y1="1158.7" x2="410.6" y2="1165.7" stroke="#202020" stroke-width="2.2"/>
<line x1="344.8" y1="1116.0" x2="348.6" y2="1129.0" stroke="#202020" stroke-width="2.2"/>
<line x1="328.7" y1="1132.1" x2="335.2" y2="1142.8" stroke="#202020" stroke-width="2.2"/>
<line x1="315.3" y1="1158.7" x2="324.0" y2="1165.7" stroke="#202020" stroke-width="2.2"/>
<line x1="307.3" y1="1208.7" x2="317.3" y2="1208.7" stroke="#202020" stroke-width="2.2"/>
<line x1="427.3" y1="1208.7" x2="417.3" y2="1208.7" stroke="#202020" stroke-width="2.2"/>
<line x1="426.4" y1="1191.3" x2="416.5" y2="1193.8" stroke="#202020" stroke-width="2.2"/>
<line x1="308.2" y1="1191.3" x2="318.1" y2="1193.8" stroke="#202020" stroke-width="2.2"/>
</g>
</g>
<g id="roundbrush">
<line x1="532.8" y1="1105.3" x2="593.3" y2="1105.3" stroke="#2b2b2b" stroke-width="1.3"/>
<line x1="699.6" y1="1105.3" x2="761.3" y2="1105.3" stroke="#2b2b2b" stroke-width="1.3"/>
<line x1="558.7" y1="1098.5" x2="583.3" y2="1098.5" stroke="#2b2b2b" stroke-width="1.5"/>
<line x1="709.6" y1="1098.5" x2="736.0" y2="1098.5" stroke="#2b2b2b" stroke-width="1.5"/>
<line x1="572.0" y1="1109.7" x2="587.3" y2="1109.7" stroke="#3a3a3a" stroke-width="1.3"/>
<line x1="705.6" y1="1109.7" x2="722.0" y2="1109.7" stroke="#3a3a3a" stroke-width="1.3"/>
<line x1="532.8" y1="1129.8" x2="593.3" y2="1129.8" stroke="#2b2b2b" stroke-width="1.3"/>
<line x1="699.6" y1="1129.8" x2="761.3" y2="1129.8" stroke="#2b2b2b" stroke-width="1.3"/>
<line x1="558.7" y1="1123.0" x2="583.3" y2="1123.0" stroke="#2b2b2b" stroke-width="1.5"/>
<line x1="709.6" y1="1123.0" x2="736.0" y2="1123.0" stroke="#2b2b2b" stroke-width="1.5"/>
<line x1="572.0" y1="1134.2" x2="587.3" y2="1134.2" stroke="#3a3a3a" stroke-width="1.3"/>
<line x1="705.6" y1="1134.2" x2="722.0" y2="1134.2" stroke="#3a3a3a" stroke-width="1.3"/>
<line x1="532.8" y1="1154.3" x2="593.3" y2="1154.3" stroke="#2b2b2b" stroke-width="1.3"/>
<line x1="699.6" y1="1154.3" x2="761.3" y2="1154.3" stroke="#2b2b2b" stroke-width="1.3"/>
<line x1="558.7" y1="1147.5" x2="583.3" y2="1147.5" stroke="#2b2b2b" stroke-width="1.5"/>
<line x1="709.6" y1="1147.5" x2="736.0" y2="1147.5" stroke="#2b2b2b" stroke-width="1.5"/>
<line x1="572.0" y1="1158.7" x2="587.3" y2="1158.7" stroke="#3a3a3a" stroke-width="1.3"/>
<line x1="705.6" y1="1158.7" x2="722.0" y2="1158.7" stroke="#3a3a3a" stroke-width="1.3"/>
<line x1="532.8" y1="1178.8" x2="593.3" y2="1178.8" stroke="#2b2b2b" stroke-width="1.3"/>
<line x1="699.6" y1="1178.8" x2="761.3" y2="1178.8" stroke="#2b2b2b" stroke-width="1.3"/>
<line x1="558.7" y1="1172.0" x2="583.3" y2="1172.0" stroke="#2b2b2b" stroke-width="1.5"/>
<line x1="709.6" y1="1172.0" x2="736.0" y2="1172.0" stroke="#2b2b2b" stroke-width="1.5"/>
<line x1="572.0" y1="1183.2" x2="587.3" y2="1183.2" stroke="#3a3a3a" stroke-width="1.3"/>
<line x1="705.6" y1="1183.2" x2="722.0" y2="1183.2" stroke="#3a3a3a" stroke-width="1.3"/>
<line x1="532.8" y1="1203.3" x2="593.3" y2="1203.3" stroke="#2b2b2b" stroke-width="1.3"/>
<line x1="699.6" y1="1203.3" x2="761.3" y2="1203.3" stroke="#2b2b2b" stroke-width="1.3"/>
<line x1="558.7" y1="1196.5" x2="583.3" y2="1196.5" stroke="#2b2b2b" stroke-width="1.5"/>
<line x1="709.6" y1="1196.5" x2="736.0" y2="1196.5" stroke="#2b2b2b" stroke-width="1.5"/>
<line x1="572.0" y1="1207.7" x2="587.3" y2="1207.7" stroke="#3a3a3a" stroke-width="1.3"/>
<line x1="705.6" y1="1207.7" x2="722.0" y2="1207.7" stroke="#3a3a3a" stroke-width="1.3"/>
<line x1="532.8" y1="1227.8" x2="593.3" y2="1227.8" stroke="#2b2b2b" stroke-width="1.3"/>
<line x1="699.6" y1="1227.8" x2="761.3" y2="1227.8" stroke="#2b2b2b" stroke-width="1.3"/>
<line x1="558.7" y1="1221.0" x2="583.3" y2="1221.0" stroke="#2b2b2b" stroke-width="1.5"/>
<line x1="709.6" y1="1221.0" x2="736.0" y2="1221.0" stroke="#2b2b2b" stroke-width="1.5"/>
<line x1="572.0" y1="1232.2" x2="587.3" y2="1232.2" stroke="#3a3a3a" stroke-width="1.3"/>
<line x1="705.6" y1="1232.2" x2="722.0" y2="1232.2" stroke="#3a3a3a" stroke-width="1.3"/>
<line x1="532.8" y1="1252.4" x2="593.3" y2="1252.4" stroke="#2b2b2b" stroke-width="1.3"/>
<line x1="699.6" y1="1252.4" x2="761.3" y2="1252.4" stroke="#2b2b2b" stroke-width="1.3"/>
<line x1="558.7" y1="1245.6" x2="583.3" y2="1245.6" stroke="#2b2b2b" stroke-width="1.5"/>
<line x1="709.6" y1="1245.6" x2="736.0" y2="1245.6" stroke="#2b2b2b" stroke-width="1.5"/>
<line x1="572.0" y1="1256.8" x2="587.3" y2="1256.8" stroke="#3a3a3a" stroke-width="1.3"/>
<line x1="705.6" y1="1256.8" x2="722.0" y2="1256.8" stroke="#3a3a3a" stroke-width="1.3"/>
<line x1="532.8" y1="1276.9" x2="593.3" y2="1276.9" stroke="#2b2b2b" stroke-width="1.3"/>
<line x1="699.6" y1="1276.9" x2="761.3" y2="1276.9" stroke="#2b2b2b" stroke-width="1.3"/>
<line x1="558.7" y1="1270.1" x2="583.3" y2="1270.1" stroke="#2b2b2b" stroke-width="1.5"/>
<line x1="709.6" y1="1270.1" x2="736.0" y2="1270.1" stroke="#2b2b2b" stroke-width="1.5"/>
<line x1="572.0" y1="1281.3" x2="587.3" y2="1281.3" stroke="#3a3a3a" stroke-width="1.3"/>
<line x1="705.6" y1="1281.3" x2="722.0" y2="1281.3" stroke="#3a3a3a" stroke-width="1.3"/>
<line x1="532.8" y1="1301.4" x2="593.3" y2="1301.4" stroke="#2b2b2b" stroke-width="1.3"/>
<line x1="699.6" y1="1301.4" x2="761.3" y2="1301.4" stroke="#2b2b2b" stroke-width="1.3"/>
<line x1="558.7" y1="1294.6" x2="583.3" y2="1294.6" stroke="#2b2b2b" stroke-width="1.5"/>
<line x1="709.6" y1="1294.6" x2="736.0" y2="1294.6" stroke="#2b2b2b" stroke-width="1.5"/>
<line x1="572.0" y1="1305.8" x2="587.3" y2="1305.8" stroke="#3a3a3a" stroke-width="1.3"/>
<line x1="705.6" y1="1305.8" x2="722.0" y2="1305.8" stroke="#3a3a3a" stroke-width="1.3"/>
<line x1="532.8" y1="1325.9" x2="593.3" y2="1325.9" stroke="#2b2b2b" stroke-width="1.3"/>
<line x1="699.6" y1="1325.9" x2="761.3" y2="1325.9" stroke="#2b2b2b" stroke-width="1.3"/>
<line x1="558.7" y1="1319.1" x2="583.3" y2="1319.1" stroke="#2b2b2b" stroke-width="1.5"/>
<line x1="709.6" y1="1319.1" x2="736.0" y2="1319.1" stroke="#2b2b2b" stroke-width="1.5"/>
<line x1="572.0" y1="1330.3" x2="587.3" y2="1330.3" stroke="#3a3a3a" stroke-width="1.3"/>
<line x1="705.6" y1="1330.3" x2="722.0" y2="1330.3" stroke="#3a3a3a" stroke-width="1.3"/>
<rect x="573.3" y="1086.0" width="146.3" height="254.0" fill="url(#rB)"/>
<line x1="621.0" y1="1090.0" x2="621.0" y2="1338.0" stroke="#7a7a7a" stroke-width="1" opacity=".55"/>
<line x1="672.0" y1="1090.0" x2="672.0" y2="1338.0" stroke="#7a7a7a" stroke-width="1" opacity=".55"/>
<line x1="583.0" y1="1106.3" x2="609.0" y2="1121.3" stroke="#222" stroke-width="5.6" stroke-linecap="round"/>
<line x1="590.0" y1="1112.3" x2="606.0" y2="1120.8" stroke="#f2f2f2" stroke-width="2.6" stroke-linecap="round"/>
<line x1="583.0" y1="1130.8" x2="609.0" y2="1145.8" stroke="#222" stroke-width="5.6" stroke-linecap="round"/>
<line x1="590.0" y1="1136.8" x2="606.0" y2="1145.3" stroke="#f2f2f2" stroke-width="2.6" stroke-linecap="round"/>
<line x1="583.0" y1="1155.3" x2="609.0" y2="1170.3" stroke="#222" stroke-width="5.6" stroke-linecap="round"/>
<line x1="590.0" y1="1161.3" x2="606.0" y2="1169.8" stroke="#f2f2f2" stroke-width="2.6" stroke-linecap="round"/>
<line x1="583.0" y1="1179.8" x2="609.0" y2="1194.8" stroke="#222" stroke-width="5.6" stroke-linecap="round"/>
<line x1="590.0" y1="1185.8" x2="606.0" y2="1194.3" stroke="#f2f2f2" stroke-width="2.6" stroke-linecap="round"/>
<line x1="583.0" y1="1204.3" x2="609.0" y2="1219.3" stroke="#222" stroke-width="5.6" stroke-linecap="round"/>
<line x1="590.0" y1="1210.3" x2="606.0" y2="1218.8" stroke="#f2f2f2" stroke-width="2.6" stroke-linecap="round"/>
<line x1="583.0" y1="1228.8" x2="609.0" y2="1243.8" stroke="#222" stroke-width="5.6" stroke-linecap="round"/>
<line x1="590.0" y1="1234.8" x2="606.0" y2="1243.3" stroke="#f2f2f2" stroke-width="2.6" stroke-linecap="round"/>
<line x1="583.0" y1="1253.4" x2="609.0" y2="1268.4" stroke="#222" stroke-width="5.6" stroke-linecap="round"/>
<line x1="590.0" y1="1259.4" x2="606.0" y2="1267.9" stroke="#f2f2f2" stroke-width="2.6" stroke-linecap="round"/>
<line x1="583.0" y1="1277.9" x2="609.0" y2="1292.9" stroke="#222" stroke-width="5.6" stroke-linecap="round"/>
<line x1="590.0" y1="1283.9" x2="606.0" y2="1292.4" stroke="#f2f2f2" stroke-width="2.6" stroke-linecap="round"/>
<line x1="583.0" y1="1302.4" x2="609.0" y2="1317.4" stroke="#222" stroke-width="5.6" stroke-linecap="round"/>
<line x1="590.0" y1="1308.4" x2="606.0" y2="1316.9" stroke="#f2f2f2" stroke-width="2.6" stroke-linecap="round"/>
<line x1="630.0" y1="1121.3" x2="662.0" y2="1109.3" stroke="#2c2c2c" stroke-width="5.8" stroke-linecap="round"/>
<line x1="630.0" y1="1145.8" x2="662.0" y2="1133.8" stroke="#2c2c2c" stroke-width="5.8" stroke-linecap="round"/>
<line x1="630.0" y1="1170.3" x2="662.0" y2="1158.3" stroke="#2c2c2c" stroke-width="5.8" stroke-linecap="round"/>
<line x1="630.0" y1="1194.8" x2="662.0" y2="1182.8" stroke="#2c2c2c" stroke-width="5.8" stroke-linecap="round"/>
<line x1="630.0" y1="1219.3" x2="662.0" y2="1207.3" stroke="#2c2c2c" stroke-width="5.8" stroke-linecap="round"/>
<line x1="630.0" y1="1243.8" x2="662.0" y2="1231.8" stroke="#2c2c2c" stroke-width="5.8" stroke-linecap="round"/>
<line x1="634.0" y1="1243.3" x2="660.0" y2="1233.3" stroke="#fafafa" stroke-width="3.4" stroke-linecap="round"/>
<line x1="630.0" y1="1268.4" x2="662.0" y2="1256.4" stroke="#2c2c2c" stroke-width="5.8" stroke-linecap="round"/>
<line x1="634.0" y1="1267.9" x2="660.0" y2="1257.9" stroke="#fafafa" stroke-width="3.4" stroke-linecap="round"/>
<line x1="640.0" y1="1264.4" x2="652.0" y2="1259.8" stroke="#555" stroke-width="3.4"/>
<line x1="630.0" y1="1292.9" x2="662.0" y2="1280.9" stroke="#2c2c2c" stroke-width="5.8" stroke-linecap="round"/>
<line x1="634.0" y1="1292.4" x2="660.0" y2="1282.4" stroke="#fafafa" stroke-width="3.4" stroke-linecap="round"/>
<line x1="640.0" y1="1288.9" x2="652.0" y2="1284.3" stroke="#555" stroke-width="3.4"/>
<line x1="630.0" y1="1317.4" x2="662.0" y2="1305.4" stroke="#2c2c2c" stroke-width="5.8" stroke-linecap="round"/>
<line x1="634.0" y1="1316.9" x2="660.0" y2="1306.9" stroke="#fafafa" stroke-width="3.4" stroke-linecap="round"/>
<line x1="681.0" y1="1121.3" x2="708.0" y2="1106.3" stroke="#222" stroke-width="5.6" stroke-linecap="round"/>
<line x1="684.0" y1="1120.8" x2="701.0" y2="1111.8" stroke="#f2f2f2" stroke-width="2.6" stroke-linecap="round"/>
<line x1="681.0" y1="1145.8" x2="708.0" y2="1130.8" stroke="#222" stroke-width="5.6" stroke-linecap="round"/>
<line x1="684.0" y1="1145.3" x2="701.0" y2="1136.3" stroke="#f2f2f2" stroke-width="2.6" stroke-linecap="round"/>
<line x1="681.0" y1="1170.3" x2="708.0" y2="1155.3" stroke="#222" stroke-width="5.6" stroke-linecap="round"/>
<line x1="684.0" y1="1169.8" x2="701.0" y2="1160.8" stroke="#f2f2f2" stroke-width="2.6" stroke-linecap="round"/>
<line x1="681.0" y1="1194.8" x2="708.0" y2="1179.8" stroke="#222" stroke-width="5.6" stroke-linecap="round"/>
<line x1="684.0" y1="1194.3" x2="701.0" y2="1185.3" stroke="#f2f2f2" stroke-width="2.6" stroke-linecap="round"/>
<line x1="681.0" y1="1219.3" x2="708.0" y2="1204.3" stroke="#222" stroke-width="5.6" stroke-linecap="round"/>
<line x1="684.0" y1="1218.8" x2="701.0" y2="1209.8" stroke="#f2f2f2" stroke-width="2.6" stroke-linecap="round"/>
<line x1="681.0" y1="1243.8" x2="708.0" y2="1228.8" stroke="#222" stroke-width="5.6" stroke-linecap="round"/>
<line x1="684.0" y1="1243.3" x2="701.0" y2="1234.3" stroke="#f2f2f2" stroke-width="2.6" stroke-linecap="round"/>
<line x1="681.0" y1="1268.4" x2="708.0" y2="1253.4" stroke="#222" stroke-width="5.6" stroke-linecap="round"/>
<line x1="684.0" y1="1267.9" x2="701.0" y2="1258.9" stroke="#f2f2f2" stroke-width="2.6" stroke-linecap="round"/>
<line x1="681.0" y1="1292.9" x2="708.0" y2="1277.9" stroke="#222" stroke-width="5.6" stroke-linecap="round"/>
<line x1="684.0" y1="1292.4" x2="701.0" y2="1283.4" stroke="#f2f2f2" stroke-width="2.6" stroke-linecap="round"/>
<line x1="681.0" y1="1317.4" x2="708.0" y2="1302.4" stroke="#222" stroke-width="5.6" stroke-linecap="round"/>
<line x1="684.0" y1="1316.9" x2="701.0" y2="1307.9" stroke="#f2f2f2" stroke-width="2.6" stroke-linecap="round"/>
<circle cx="583.5" cy="1098.3" r="3.3" fill="#2a2a2a"/><circle cx="583.0" cy="1097.7" r="1.4" fill="#7a7a7a"/>
<circle cx="595.0" cy="1104.1" r="3.5" fill="#2a2a2a"/><circle cx="594.5" cy="1103.5" r="1.4" fill="#7a7a7a"/>
<circle cx="609.5" cy="1108.9" r="3.6" fill="#2a2a2a"/><circle cx="609.0" cy="1108.3" r="1.4" fill="#7a7a7a"/>
<circle cx="627.5" cy="1108.9" r="3.6" fill="#2a2a2a"/><circle cx="627.0" cy="1108.3" r="1.4" fill="#7a7a7a"/>
<circle cx="643.5" cy="1103.3" r="3.6" fill="#2a2a2a"/><circle cx="643.0" cy="1102.7" r="1.4" fill="#7a7a7a"/>
<circle cx="660.0" cy="1097.9" r="3.6" fill="#2a2a2a"/><circle cx="659.5" cy="1097.3" r="1.4" fill="#7a7a7a"/>
<circle cx="679.5" cy="1108.9" r="3.6" fill="#2a2a2a"/><circle cx="679.0" cy="1108.3" r="1.4" fill="#7a7a7a"/>
<circle cx="694.0" cy="1104.1" r="3.5" fill="#2a2a2a"/><circle cx="693.5" cy="1103.5" r="1.4" fill="#7a7a7a"/>
<circle cx="707.0" cy="1098.3" r="3.3" fill="#2a2a2a"/><circle cx="706.5" cy="1097.7" r="1.4" fill="#7a7a7a"/>
<circle cx="583.5" cy="1122.8" r="3.3" fill="#2a2a2a"/><circle cx="583.0" cy="1122.2" r="1.4" fill="#7a7a7a"/>
<circle cx="595.0" cy="1128.6" r="3.5" fill="#2a2a2a"/><circle cx="594.5" cy="1128.0" r="1.4" fill="#7a7a7a"/>
<circle cx="609.5" cy="1133.4" r="3.6" fill="#2a2a2a"/><circle cx="609.0" cy="1132.8" r="1.4" fill="#7a7a7a"/>
<circle cx="627.5" cy="1133.4" r="3.6" fill="#2a2a2a"/><circle cx="627.0" cy="1132.8" r="1.4" fill="#7a7a7a"/>
<circle cx="643.5" cy="1127.8" r="3.6" fill="#2a2a2a"/><circle cx="643.0" cy="1127.2" r="1.4" fill="#7a7a7a"/>
<circle cx="660.0" cy="1122.4" r="3.6" fill="#2a2a2a"/><circle cx="659.5" cy="1121.8" r="1.4" fill="#7a7a7a"/>
<circle cx="679.5" cy="1133.4" r="3.6" fill="#2a2a2a"/><circle cx="679.0" cy="1132.8" r="1.4" fill="#7a7a7a"/>
<circle cx="694.0" cy="1128.6" r="3.5" fill="#2a2a2a"/><circle cx="693.5" cy="1128.0" r="1.4" fill="#7a7a7a"/>
<circle cx="707.0" cy="1122.8" r="3.3" fill="#2a2a2a"/><circle cx="706.5" cy="1122.2" r="1.4" fill="#7a7a7a"/>
<circle cx="583.5" cy="1147.3" r="3.3" fill="#2a2a2a"/><circle cx="583.0" cy="1146.7" r="1.4" fill="#7a7a7a"/>
<circle cx="595.0" cy="1153.1" r="3.5" fill="#2a2a2a"/><circle cx="594.5" cy="1152.5" r="1.4" fill="#7a7a7a"/>
<circle cx="609.5" cy="1157.9" r="3.6" fill="#2a2a2a"/><circle cx="609.0" cy="1157.3" r="1.4" fill="#7a7a7a"/>
<circle cx="627.5" cy="1157.9" r="3.6" fill="#2a2a2a"/><circle cx="627.0" cy="1157.3" r="1.4" fill="#7a7a7a"/>
<circle cx="643.5" cy="1152.3" r="3.6" fill="#2a2a2a"/><circle cx="643.0" cy="1151.7" r="1.4" fill="#7a7a7a"/>
<circle cx="660.0" cy="1146.9" r="3.6" fill="#2a2a2a"/><circle cx="659.5" cy="1146.3" r="1.4" fill="#7a7a7a"/>
<circle cx="679.5" cy="1157.9" r="3.6" fill="#2a2a2a"/><circle cx="679.0" cy="1157.3" r="1.4" fill="#7a7a7a"/>
<circle cx="694.0" cy="1153.1" r="3.5" fill="#2a2a2a"/><circle cx="693.5" cy="1152.5" r="1.4" fill="#7a7a7a"/>
<circle cx="707.0" cy="1147.3" r="3.3" fill="#2a2a2a"/><circle cx="706.5" cy="1146.7" r="1.4" fill="#7a7a7a"/>
<circle cx="583.5" cy="1171.8" r="3.3" fill="#2a2a2a"/><circle cx="583.0" cy="1171.2" r="1.4" fill="#7a7a7a"/>
<circle cx="595.0" cy="1177.6" r="3.5" fill="#2a2a2a"/><circle cx="594.5" cy="1177.0" r="1.4" fill="#7a7a7a"/>
<circle cx="609.5" cy="1182.4" r="3.6" fill="#2a2a2a"/><circle cx="609.0" cy="1181.8" r="1.4" fill="#7a7a7a"/>
<circle cx="627.5" cy="1182.4" r="3.6" fill="#2a2a2a"/><circle cx="627.0" cy="1181.8" r="1.4" fill="#7a7a7a"/>
<circle cx="643.5" cy="1176.8" r="3.6" fill="#2a2a2a"/><circle cx="643.0" cy="1176.2" r="1.4" fill="#7a7a7a"/>
<circle cx="660.0" cy="1171.4" r="3.6" fill="#2a2a2a"/><circle cx="659.5" cy="1170.8" r="1.4" fill="#7a7a7a"/>
<circle cx="679.5" cy="1182.4" r="3.6" fill="#2a2a2a"/><circle cx="679.0" cy="1181.8" r="1.4" fill="#7a7a7a"/>
<circle cx="694.0" cy="1177.6" r="3.5" fill="#2a2a2a"/><circle cx="693.5" cy="1177.0" r="1.4" fill="#7a7a7a"/>
<circle cx="707.0" cy="1171.8" r="3.3" fill="#2a2a2a"/><circle cx="706.5" cy="1171.2" r="1.4" fill="#7a7a7a"/>
<circle cx="583.5" cy="1196.3" r="3.3" fill="#2a2a2a"/><circle cx="583.0" cy="1195.7" r="1.4" fill="#7a7a7a"/>
<circle cx="595.0" cy="1202.1" r="3.5" fill="#2a2a2a"/><circle cx="594.5" cy="1201.5" r="1.4" fill="#7a7a7a"/>
<circle cx="609.5" cy="1206.9" r="3.6" fill="#2a2a2a"/><circle cx="609.0" cy="1206.3" r="1.4" fill="#7a7a7a"/>
<circle cx="627.5" cy="1206.9" r="3.6" fill="#2a2a2a"/><circle cx="627.0" cy="1206.3" r="1.4" fill="#7a7a7a"/>
<circle cx="643.5" cy="1201.3" r="3.6" fill="#2a2a2a"/><circle cx="643.0" cy="1200.7" r="1.4" fill="#7a7a7a"/>
<circle cx="660.0" cy="1195.9" r="3.6" fill="#2a2a2a"/><circle cx="659.5" cy="1195.3" r="1.4" fill="#7a7a7a"/>
<circle cx="679.5" cy="1206.9" r="3.6" fill="#2a2a2a"/><circle cx="679.0" cy="1206.3" r="1.4" fill="#7a7a7a"/>
<circle cx="694.0" cy="1202.1" r="3.5" fill="#2a2a2a"/><circle cx="693.5" cy="1201.5" r="1.4" fill="#7a7a7a"/>
<circle cx="707.0" cy="1196.3" r="3.3" fill="#2a2a2a"/><circle cx="706.5" cy="1195.7" r="1.4" fill="#7a7a7a"/>
<circle cx="583.5" cy="1220.8" r="3.3" fill="#2a2a2a"/><circle cx="583.0" cy="1220.2" r="1.4" fill="#7a7a7a"/>
<circle cx="595.0" cy="1226.6" r="3.5" fill="#2a2a2a"/><circle cx="594.5" cy="1226.0" r="1.4" fill="#7a7a7a"/>
<circle cx="609.5" cy="1231.4" r="3.6" fill="#2a2a2a"/><circle cx="609.0" cy="1230.8" r="1.4" fill="#7a7a7a"/>
<circle cx="627.5" cy="1231.4" r="3.6" fill="#2a2a2a"/><circle cx="627.0" cy="1230.8" r="1.4" fill="#7a7a7a"/>
<circle cx="643.5" cy="1225.8" r="3.6" fill="#2a2a2a"/><circle cx="643.0" cy="1225.2" r="1.4" fill="#7a7a7a"/>
<circle cx="660.0" cy="1220.4" r="3.6" fill="#2a2a2a"/><circle cx="659.5" cy="1219.8" r="1.4" fill="#7a7a7a"/>
<circle cx="679.5" cy="1231.4" r="3.6" fill="#2a2a2a"/><circle cx="679.0" cy="1230.8" r="1.4" fill="#7a7a7a"/>
<circle cx="694.0" cy="1226.6" r="3.5" fill="#2a2a2a"/><circle cx="693.5" cy="1226.0" r="1.4" fill="#7a7a7a"/>
<circle cx="707.0" cy="1220.8" r="3.3" fill="#2a2a2a"/><circle cx="706.5" cy="1220.2" r="1.4" fill="#7a7a7a"/>
<circle cx="583.5" cy="1245.4" r="3.3" fill="#2a2a2a"/><circle cx="583.0" cy="1244.8" r="1.4" fill="#7a7a7a"/>
<circle cx="595.0" cy="1251.2" r="3.5" fill="#2a2a2a"/><circle cx="594.5" cy="1250.6" r="1.4" fill="#7a7a7a"/>
<circle cx="609.5" cy="1256.0" r="3.6" fill="#2a2a2a"/><circle cx="609.0" cy="1255.4" r="1.4" fill="#7a7a7a"/>
<circle cx="627.5" cy="1256.0" r="3.6" fill="#2a2a2a"/><circle cx="627.0" cy="1255.4" r="1.4" fill="#7a7a7a"/>
<circle cx="643.5" cy="1250.4" r="3.6" fill="#2a2a2a"/><circle cx="643.0" cy="1249.8" r="1.4" fill="#7a7a7a"/>
<circle cx="660.0" cy="1245.0" r="3.6" fill="#2a2a2a"/><circle cx="659.5" cy="1244.4" r="1.4" fill="#7a7a7a"/>
<circle cx="679.5" cy="1256.0" r="3.6" fill="#2a2a2a"/><circle cx="679.0" cy="1255.4" r="1.4" fill="#7a7a7a"/>
<circle cx="694.0" cy="1251.2" r="3.5" fill="#2a2a2a"/><circle cx="693.5" cy="1250.6" r="1.4" fill="#7a7a7a"/>
<circle cx="707.0" cy="1245.4" r="3.3" fill="#2a2a2a"/><circle cx="706.5" cy="1244.8" r="1.4" fill="#7a7a7a"/>
<circle cx="583.5" cy="1269.9" r="3.3" fill="#2a2a2a"/><circle cx="583.0" cy="1269.3" r="1.4" fill="#7a7a7a"/>
<circle cx="595.0" cy="1275.7" r="3.5" fill="#2a2a2a"/><circle cx="594.5" cy="1275.1" r="1.4" fill="#7a7a7a"/>
<circle cx="609.5" cy="1280.5" r="3.6" fill="#2a2a2a"/><circle cx="609.0" cy="1279.9" r="1.4" fill="#7a7a7a"/>
<circle cx="627.5" cy="1280.5" r="3.6" fill="#2a2a2a"/><circle cx="627.0" cy="1279.9" r="1.4" fill="#7a7a7a"/>
<circle cx="643.5" cy="1274.9" r="3.6" fill="#2a2a2a"/><circle cx="643.0" cy="1274.3" r="1.4" fill="#7a7a7a"/>
<circle cx="660.0" cy="1269.5" r="3.6" fill="#2a2a2a"/><circle cx="659.5" cy="1268.9" r="1.4" fill="#7a7a7a"/>
<circle cx="679.5" cy="1280.5" r="3.6" fill="#2a2a2a"/><circle cx="679.0" cy="1279.9" r="1.4" fill="#7a7a7a"/>
<circle cx="694.0" cy="1275.7" r="3.5" fill="#2a2a2a"/><circle cx="693.5" cy="1275.1" r="1.4" fill="#7a7a7a"/>
<circle cx="707.0" cy="1269.9" r="3.3" fill="#2a2a2a"/><circle cx="706.5" cy="1269.3" r="1.4" fill="#7a7a7a"/>
<circle cx="583.5" cy="1294.4" r="3.3" fill="#2a2a2a"/><circle cx="583.0" cy="1293.8" r="1.4" fill="#7a7a7a"/>
<circle cx="595.0" cy="1300.2" r="3.5" fill="#2a2a2a"/><circle cx="594.5" cy="1299.6" r="1.4" fill="#7a7a7a"/>
<circle cx="609.5" cy="1305.0" r="3.6" fill="#2a2a2a"/><circle cx="609.0" cy="1304.4" r="1.4" fill="#7a7a7a"/>
<circle cx="627.5" cy="1305.0" r="3.6" fill="#2a2a2a"/><circle cx="627.0" cy="1304.4" r="1.4" fill="#7a7a7a"/>
<circle cx="643.5" cy="1299.4" r="3.6" fill="#2a2a2a"/><circle cx="643.0" cy="1298.8" r="1.4" fill="#7a7a7a"/>
<circle cx="660.0" cy="1294.0" r="3.6" fill="#2a2a2a"/><circle cx="659.5" cy="1293.4" r="1.4" fill="#7a7a7a"/>
<circle cx="679.5" cy="1305.0" r="3.6" fill="#2a2a2a"/><circle cx="679.0" cy="1304.4" r="1.4" fill="#7a7a7a"/>
<circle cx="694.0" cy="1300.2" r="3.5" fill="#2a2a2a"/><circle cx="693.5" cy="1299.6" r="1.4" fill="#7a7a7a"/>
<circle cx="707.0" cy="1294.4" r="3.3" fill="#2a2a2a"/><circle cx="706.5" cy="1293.8" r="1.4" fill="#7a7a7a"/>
<circle cx="583.5" cy="1318.9" r="3.3" fill="#2a2a2a"/><circle cx="583.0" cy="1318.3" r="1.4" fill="#7a7a7a"/>
<circle cx="595.0" cy="1324.7" r="3.5" fill="#2a2a2a"/><circle cx="594.5" cy="1324.1" r="1.4" fill="#7a7a7a"/>
<circle cx="609.5" cy="1329.5" r="3.6" fill="#2a2a2a"/><circle cx="609.0" cy="1328.9" r="1.4" fill="#7a7a7a"/>
<circle cx="627.5" cy="1329.5" r="3.6" fill="#2a2a2a"/><circle cx="627.0" cy="1328.9" r="1.4" fill="#7a7a7a"/>
<circle cx="643.5" cy="1323.9" r="3.6" fill="#2a2a2a"/><circle cx="643.0" cy="1323.3" r="1.4" fill="#7a7a7a"/>
<circle cx="660.0" cy="1318.5" r="3.6" fill="#2a2a2a"/><circle cx="659.5" cy="1317.9" r="1.4" fill="#7a7a7a"/>
<circle cx="679.5" cy="1329.5" r="3.6" fill="#2a2a2a"/><circle cx="679.0" cy="1328.9" r="1.4" fill="#7a7a7a"/>
<circle cx="694.0" cy="1324.7" r="3.5" fill="#2a2a2a"/><circle cx="693.5" cy="1324.1" r="1.4" fill="#7a7a7a"/>
<circle cx="707.0" cy="1318.9" r="3.3" fill="#2a2a2a"/><circle cx="706.5" cy="1318.3" r="1.4" fill="#7a7a7a"/>
<rect x="569.3" y="1340.0" width="154.7" height="9.6" fill="url(#gM)"/>
<line x1="569.3" y1="1340.0" x2="724.0" y2="1340.0" stroke="#505050" stroke-width="1" opacity=".7"/>
<rect x="600.0" y="1349.3" width="94.7" height="21.4" fill="url(#gC)"/>
<rect x="600.5" y="1349.8" width="93.7" height="20.4" fill="none" stroke="#3e3e3e" stroke-width="1" opacity=".55"/>
<path d="M653.4 1354.0 q-6 0 -6 4.3 q0 3.2 5 4.3 q4 2.6 3 6.4" fill="none" stroke="#444" stroke-width="1.3" opacity=".8"/>
<path d="M648.4 1353.6 h9 v16.1" fill="none" stroke="#444" stroke-width="1.3" opacity=".8"/>
<rect x="647.4" y="1355.3" width="9.0" height="14.1" fill="#8a8a8a" opacity=".6"/>
<line x1="604.0" y1="1366.7" x2="637.4" y2="1366.7" stroke="#444" stroke-width="1" opacity=".6"/>
<line x1="663.4" y1="1366.7" x2="690.7" y2="1366.7" stroke="#444" stroke-width="1" opacity=".6"/>
<rect x="602.0" y="1352.3" width="4.0" height="13.4" fill="#9a9a9a" opacity=".6"/>
<rect x="688.7" y="1352.3" width="4.0" height="13.4" fill="#a6a6a6" opacity=".6"/>
<path d="M624.7 1068.0 L670.0 1068.0 L724.0 1078.7 L569.3 1078.7 Z" fill="url(#cuF)"/>
<path d="M625.7 1068.0 L639.1 1068.0 L615.7 1078.7 L587.9 1078.7 Z" fill="#c18865" opacity=".35"/>
<rect x="569.3" y="1078.4" width="154.7" height="8.3" fill="url(#cuE)"/>
<line x1="569.3" y1="1078.7" x2="724.0" y2="1078.7" stroke="#fbe4d4" stroke-width="0.9" opacity=".75"/>
<line x1="570.3" y1="1086.2" x2="723.0" y2="1086.2" stroke="#a56c4c" stroke-width="1" opacity=".55"/>
<path d="M628.3 1034.8 L628.3 1027.5 Q628.3 1019.2 636.6 1019.2 L658.1 1019.2 Q666.4 1019.2 666.4 1027.5 L666.4 1034.8 Z" fill="url(#cuD)"/>
<rect x="626.7" y="1033.8" width="41.3" height="31.2" fill="url(#cuK)"/>
<line x1="629.0" y1="1034.8" x2="629.0" y2="1063.0" stroke="#fff" stroke-width="0.5" opacity=".16"/>
<line x1="631.3" y1="1034.8" x2="631.3" y2="1063.0" stroke="#fff" stroke-width="0.5" opacity=".16"/>
<line x1="633.6" y1="1034.8" x2="633.6" y2="1063.0" stroke="#fff" stroke-width="0.5" opacity=".16"/>
<line x1="635.9" y1="1034.8" x2="635.9" y2="1063.0" stroke="#fff" stroke-width="0.5" opacity=".16"/>
<line x1="638.2" y1="1034.8" x2="638.2" y2="1063.0" stroke="#fff" stroke-width="0.5" opacity=".16"/>
<line x1="640.5" y1="1034.8" x2="640.5" y2="1063.0" stroke="#fff" stroke-width="0.5" opacity=".16"/>
<line x1="642.8" y1="1034.8" x2="642.8" y2="1063.0" stroke="#fff" stroke-width="0.5" opacity=".16"/>
<line x1="645.1" y1="1034.8" x2="645.1" y2="1063.0" stroke="#fff" stroke-width="0.5" opacity=".16"/>
<line x1="647.4" y1="1034.8" x2="647.4" y2="1063.0" stroke="#fff" stroke-width="0.5" opacity=".16"/>
<line x1="649.6" y1="1034.8" x2="649.6" y2="1063.0" stroke="#fff" stroke-width="0.5" opacity=".16"/>
<line x1="651.9" y1="1034.8" x2="651.9" y2="1063.0" stroke="#fff" stroke-width="0.5" opacity=".16"/>
<line x1="654.2" y1="1034.8" x2="654.2" y2="1063.0" stroke="#fff" stroke-width="0.5" opacity=".16"/>
<line x1="656.5" y1="1034.8" x2="656.5" y2="1063.0" stroke="#fff" stroke-width="0.5" opacity=".16"/>
<line x1="658.8" y1="1034.8" x2="658.8" y2="1063.0" stroke="#fff" stroke-width="0.5" opacity=".16"/>
<line x1="661.1" y1="1034.8" x2="661.1" y2="1063.0" stroke="#fff" stroke-width="0.5" opacity=".16"/>
<line x1="663.4" y1="1034.8" x2="663.4" y2="1063.0" stroke="#fff" stroke-width="0.5" opacity=".16"/>
<line x1="665.7" y1="1034.8" x2="665.7" y2="1063.0" stroke="#fff" stroke-width="0.5" opacity=".16"/>
<line x1="626.7" y1="1034.2" x2="668.0" y2="1034.2" stroke="#f6d6c0" stroke-width="0.9" opacity=".7"/>
<path d="M652.7 1064.0 L652.7 1030.9 Q652.7 1023.2 656.4 1023.2 Q660.2 1023.2 660.2 1030.9 L660.2 1064.0 Z" fill="#d39d7b" opacity=".75"/>
<path d="M641.2 1065.0 L641.2 1030.2 Q641.2 1021.8 646.7 1021.8 Q652.3 1021.8 652.3 1030.2 L652.3 1065.0 Z" fill="url(#cuR)"/>
<line x1="652.5" y1="1024.2" x2="652.5" y2="1065.0" stroke="#b07654" stroke-width="1" opacity=".75"/>
<line x1="640.9" y1="1030.9" x2="640.9" y2="1065.0" stroke="#c48c69" stroke-width="0.9" opacity=".6"/>
<line x1="660.4" y1="1025.2" x2="660.4" y2="1065.0" stroke="#b98360" stroke-width="0.9" opacity=".55"/>
<rect x="627.2" y="1062.0" width="40.3" height="2.2" fill="#f6d8c2" opacity=".85"/>
<rect x="627.7" y="1064.2" width="39.3" height="3.8" fill="#a4694a" opacity=".85"/>
</g>
<g id="dryer">
<rect x="991.0" y="1337.0" width="43.2" height="56.6" fill="url(#gK)"/>
<rect x="997.7" y="1393.6" width="29.8" height="9.8" fill="url(#gK)"/>
<rect x="991.0" y="1394.6" width="43.2" height="5.1" rx="1.5" fill="url(#gK)"/>
<line x1="991.0" y1="1399.7" x2="1034.2" y2="1399.7" stroke="#3c3c3c" stroke-width="0.8" opacity=".6"/>
<rect x="998.4" y="1402.9" width="28.5" height="9.8" fill="url(#gK)"/>
<rect x="992.2" y="1403.9" width="40.8" height="5.1" rx="1.5" fill="url(#gK)"/>
<line x1="992.2" y1="1409.1" x2="1033.0" y2="1409.1" stroke="#3c3c3c" stroke-width="0.8" opacity=".6"/>
<rect x="999.0" y="1412.3" width="27.1" height="9.8" fill="url(#gK)"/>
<rect x="993.4" y="1413.3" width="38.3" height="5.1" rx="1.5" fill="url(#gK)"/>
<line x1="993.4" y1="1418.4" x2="1031.8" y2="1418.4" stroke="#3c3c3c" stroke-width="0.8" opacity=".6"/>
<rect x="999.7" y="1421.6" width="25.8" height="9.8" fill="url(#gK)"/>
<rect x="994.6" y="1422.6" width="35.9" height="5.1" rx="1.5" fill="url(#gK)"/>
<line x1="994.6" y1="1427.8" x2="1030.6" y2="1427.8" stroke="#3c3c3c" stroke-width="0.8" opacity=".6"/>
<rect x="1000.4" y="1431.0" width="24.4" height="9.8" fill="url(#gK)"/>
<rect x="995.9" y="1432.0" width="33.5" height="5.1" rx="1.5" fill="url(#gK)"/>
<line x1="995.9" y1="1437.1" x2="1029.3" y2="1437.1" stroke="#3c3c3c" stroke-width="0.8" opacity=".6"/>
<rect x="1001.0" y="1440.3" width="23.1" height="9.8" fill="url(#gK)"/>
<rect x="997.1" y="1441.3" width="31.1" height="5.1" rx="1.5" fill="url(#gK)"/>
<line x1="997.1" y1="1446.5" x2="1028.1" y2="1446.5" stroke="#3c3c3c" stroke-width="0.8" opacity=".6"/>
<rect x="1001.7" y="1449.7" width="21.8" height="9.8" fill="url(#gK)"/>
<rect x="998.3" y="1450.7" width="28.6" height="5.1" rx="1.5" fill="url(#gK)"/>
<line x1="998.3" y1="1455.8" x2="1026.9" y2="1455.8" stroke="#3c3c3c" stroke-width="0.8" opacity=".6"/>
<path d="M949.3 800 L1076.0 766 L1076.0 1285 Q1076.0 1310 1066 1325 Q1058 1338.6 1038 1339 L994 1339 Q972 1338 962 1326 Q949.3 1312 949.3 1290 Z" fill="url(#gH)"/>
<g clip-path="url(#dhClip)">
<rect x="949.3" y="1186.0" width="126.7" height="160.0" fill="#000" opacity=".05"/>
<line x1="949.3" y1="1186.0" x2="1076.0" y2="1186.0" stroke="#6a6a6a" stroke-width="1.1" opacity=".8"/>
<line x1="949.3" y1="1187.2" x2="1076.0" y2="1187.2" stroke="#c8c8c8" stroke-width="0.8" opacity=".5"/>
<path d="M949.3 1235.2 Q970 1238 986 1236.5 Q1010 1232 1030 1221 Q1054 1208 1076.0 1204.8 L1076.0 1345 L949.3 1345 Z" fill="url(#gF)"/>
<g clip-path="url(#dfilt)">
<g transform="translate(953.1 1224.3) scale(0.35 1)"><g fill="#1b1b1b"><circle cx="0.0" cy="-3.3" r="2.27"/><circle cx="3.1" cy="-1.0" r="2.27"/><circle cx="1.9" cy="2.7" r="2.27"/><circle cx="-1.9" cy="2.7" r="2.27"/><circle cx="-3.1" cy="-1.0" r="2.27"/><circle cx="0.0" cy="0.0" r="2.52"/></g></g>
<g transform="translate(953.1 1240.9) scale(0.35 1)"><g fill="#1b1b1b"><circle cx="0.0" cy="-3.3" r="2.27"/><circle cx="3.1" cy="-1.0" r="2.27"/><circle cx="1.9" cy="2.7" r="2.27"/><circle cx="-1.9" cy="2.7" r="2.27"/><circle cx="-3.1" cy="-1.0" r="2.27"/><circle cx="0.0" cy="0.0" r="2.52"/></g></g>
<g transform="translate(953.1 1257.5) scale(0.35 1)"><g fill="#1b1b1b"><circle cx="0.0" cy="-3.3" r="2.27"/><circle cx="3.1" cy="-1.0" r="2.27"/><circle cx="1.9" cy="2.7" r="2.27"/><circle cx="-1.9" cy="2.7" r="2.27"/><circle cx="-3.1" cy="-1.0" r="2.27"/><circle cx="0.0" cy="0.0" r="2.52"/></g></g>
<g transform="translate(953.1 1274.1) scale(0.35 1)"><g fill="#1b1b1b"><circle cx="0.0" cy="-3.3" r="2.27"/><circle cx="3.1" cy="-1.0" r="2.27"/><circle cx="1.9" cy="2.7" r="2.27"/><circle cx="-1.9" cy="2.7" r="2.27"/><circle cx="-3.1" cy="-1.0" r="2.27"/><circle cx="0.0" cy="0.0" r="2.52"/></g></g>
<g transform="translate(953.1 1290.7) scale(0.35 1)"><g fill="#1b1b1b"><circle cx="0.0" cy="-3.3" r="2.27"/><circle cx="3.1" cy="-1.0" r="2.27"/><circle cx="1.9" cy="2.7" r="2.27"/><circle cx="-1.9" cy="2.7" r="2.27"/><circle cx="-3.1" cy="-1.0" r="2.27"/><circle cx="0.0" cy="0.0" r="2.52"/></g></g>
<g transform="translate(953.1 1307.3) scale(0.35 1)"><g fill="#1b1b1b"><circle cx="0.0" cy="-3.3" r="2.27"/><circle cx="3.1" cy="-1.0" r="2.27"/><circle cx="1.9" cy="2.7" r="2.27"/><circle cx="-1.9" cy="2.7" r="2.27"/><circle cx="-3.1" cy="-1.0" r="2.27"/><circle cx="0.0" cy="0.0" r="2.52"/></g></g>
<g transform="translate(960.2 1216.0) scale(0.57 1)"><g fill="#1b1b1b"><circle cx="0.0" cy="-3.3" r="2.27"/><circle cx="3.1" cy="-1.0" r="2.27"/><circle cx="1.9" cy="2.7" r="2.27"/><circle cx="-1.9" cy="2.7" r="2.27"/><circle cx="-3.1" cy="-1.0" r="2.27"/><circle cx="0.0" cy="0.0" r="2.52"/></g></g>
<g transform="translate(960.2 1232.6) scale(0.57 1)"><g fill="#1b1b1b"><circle cx="0.0" cy="-3.3" r="2.27"/><circle cx="3.1" cy="-1.0" r="2.27"/><circle cx="1.9" cy="2.7" r="2.27"/><circle cx="-1.9" cy="2.7" r="2.27"/><circle cx="-3.1" cy="-1.0" r="2.27"/><circle cx="0.0" cy="0.0" r="2.52"/></g></g>
<g transform="translate(960.2 1249.2) scale(0.57 1)"><g fill="#1b1b1b"><circle cx="0.0" cy="-3.3" r="2.27"/><circle cx="3.1" cy="-1.0" r="2.27"/><circle cx="1.9" cy="2.7" r="2.27"/><circle cx="-1.9" cy="2.7" r="2.27"/><circle cx="-3.1" cy="-1.0" r="2.27"/><circle cx="0.0" cy="0.0" r="2.52"/></g></g>
<g transform="translate(960.2 1265.8) scale(0.57 1)"><g fill="#1b1b1b"><circle cx="0.0" cy="-3.3" r="2.27"/><circle cx="3.1" cy="-1.0" r="2.27"/><circle cx="1.9" cy="2.7" r="2.27"/><circle cx="-1.9" cy="2.7" r="2.27"/><circle cx="-3.1" cy="-1.0" r="2.27"/><circle cx="0.0" cy="0.0" r="2.52"/></g></g>
<g transform="translate(960.2 1282.4) scale(0.57 1)"><g fill="#1b1b1b"><circle cx="0.0" cy="-3.3" r="2.27"/><circle cx="3.1" cy="-1.0" r="2.27"/><circle cx="1.9" cy="2.7" r="2.27"/><circle cx="-1.9" cy="2.7" r="2.27"/><circle cx="-3.1" cy="-1.0" r="2.27"/><circle cx="0.0" cy="0.0" r="2.52"/></g></g>
<g transform="translate(960.2 1299.0) scale(0.57 1)"><g fill="#1b1b1b"><circle cx="0.0" cy="-3.3" r="2.27"/><circle cx="3.1" cy="-1.0" r="2.27"/><circle cx="1.9" cy="2.7" r="2.27"/><circle cx="-1.9" cy="2.7" r="2.27"/><circle cx="-3.1" cy="-1.0" r="2.27"/><circle cx="0.0" cy="0.0" r="2.52"/></g></g>
<g transform="translate(960.2 1315.6) scale(0.57 1)"><g fill="#1b1b1b"><circle cx="0.0" cy="-3.3" r="2.27"/><circle cx="3.1" cy="-1.0" r="2.27"/><circle cx="1.9" cy="2.7" r="2.27"/><circle cx="-1.9" cy="2.7" r="2.27"/><circle cx="-3.1" cy="-1.0" r="2.27"/><circle cx="0.0" cy="0.0" r="2.52"/></g></g>
<g transform="translate(970.4 1224.3) scale(0.75 1)"><g fill="#1b1b1b"><circle cx="0.0" cy="-3.3" r="2.27"/><circle cx="3.1" cy="-1.0" r="2.27"/><circle cx="1.9" cy="2.7" r="2.27"/><circle cx="-1.9" cy="2.7" r="2.27"/><circle cx="-3.1" cy="-1.0" r="2.27"/><circle cx="0.0" cy="0.0" r="2.52"/></g></g>
<g transform="translate(970.4 1240.9) scale(0.75 1)"><g fill="#1b1b1b"><circle cx="0.0" cy="-3.3" r="2.27"/><circle cx="3.1" cy="-1.0" r="2.27"/><circle cx="1.9" cy="2.7" r="2.27"/><circle cx="-1.9" cy="2.7" r="2.27"/><circle cx="-3.1" cy="-1.0" r="2.27"/><circle cx="0.0" cy="0.0" r="2.52"/></g></g>
<g transform="translate(970.4 1257.5) scale(0.75 1)"><g fill="#1b1b1b"><circle cx="0.0" cy="-3.3" r="2.27"/><circle cx="3.1" cy="-1.0" r="2.27"/><circle cx="1.9" cy="2.7" r="2.27"/><circle cx="-1.9" cy="2.7" r="2.27"/><circle cx="-3.1" cy="-1.0" r="2.27"/><circle cx="0.0" cy="0.0" r="2.52"/></g></g>
<g transform="translate(970.4 1274.1) scale(0.75 1)"><g fill="#1b1b1b"><circle cx="0.0" cy="-3.3" r="2.27"/><circle cx="3.1" cy="-1.0" r="2.27"/><circle cx="1.9" cy="2.7" r="2.27"/><circle cx="-1.9" cy="2.7" r="2.27"/><circle cx="-3.1" cy="-1.0" r="2.27"/><circle cx="0.0" cy="0.0" r="2.52"/></g></g>
<g transform="translate(970.4 1290.7) scale(0.75 1)"><g fill="#1b1b1b"><circle cx="0.0" cy="-3.3" r="2.27"/><circle cx="3.1" cy="-1.0" r="2.27"/><circle cx="1.9" cy="2.7" r="2.27"/><circle cx="-1.9" cy="2.7" r="2.27"/><circle cx="-3.1" cy="-1.0" r="2.27"/><circle cx="0.0" cy="0.0" r="2.52"/></g></g>
<g transform="translate(970.4 1307.3) scale(0.75 1)"><g fill="#1b1b1b"><circle cx="0.0" cy="-3.3" r="2.27"/><circle cx="3.1" cy="-1.0" r="2.27"/><circle cx="1.9" cy="2.7" r="2.27"/><circle cx="-1.9" cy="2.7" r="2.27"/><circle cx="-3.1" cy="-1.0" r="2.27"/><circle cx="0.0" cy="0.0" r="2.52"/></g></g>
<g transform="translate(983.0 1216.0) scale(0.88 1)"><g fill="#1b1b1b"><circle cx="0.0" cy="-3.3" r="2.27"/><circle cx="3.1" cy="-1.0" r="2.27"/><circle cx="1.9" cy="2.7" r="2.27"/><circle cx="-1.9" cy="2.7" r="2.27"/><circle cx="-3.1" cy="-1.0" r="2.27"/><circle cx="0.0" cy="0.0" r="2.52"/></g></g>
<g transform="translate(983.0 1232.6) scale(0.88 1)"><g fill="#1b1b1b"><circle cx="0.0" cy="-3.3" r="2.27"/><circle cx="3.1" cy="-1.0" r="2.27"/><circle cx="1.9" cy="2.7" r="2.27"/><circle cx="-1.9" cy="2.7" r="2.27"/><circle cx="-3.1" cy="-1.0" r="2.27"/><circle cx="0.0" cy="0.0" r="2.52"/></g></g>
<g transform="translate(983.0 1249.2) scale(0.88 1)"><g fill="#1b1b1b"><circle cx="0.0" cy="-3.3" r="2.27"/><circle cx="3.1" cy="-1.0" r="2.27"/><circle cx="1.9" cy="2.7" r="2.27"/><circle cx="-1.9" cy="2.7" r="2.27"/><circle cx="-3.1" cy="-1.0" r="2.27"/><circle cx="0.0" cy="0.0" r="2.52"/></g></g>
<g transform="translate(983.0 1265.8) scale(0.88 1)"><g fill="#1b1b1b"><circle cx="0.0" cy="-3.3" r="2.27"/><circle cx="3.1" cy="-1.0" r="2.27"/><circle cx="1.9" cy="2.7" r="2.27"/><circle cx="-1.9" cy="2.7" r="2.27"/><circle cx="-3.1" cy="-1.0" r="2.27"/><circle cx="0.0" cy="0.0" r="2.52"/></g></g>
<g transform="translate(983.0 1282.4) scale(0.88 1)"><g fill="#1b1b1b"><circle cx="0.0" cy="-3.3" r="2.27"/><circle cx="3.1" cy="-1.0" r="2.27"/><circle cx="1.9" cy="2.7" r="2.27"/><circle cx="-1.9" cy="2.7" r="2.27"/><circle cx="-3.1" cy="-1.0" r="2.27"/><circle cx="0.0" cy="0.0" r="2.52"/></g></g>
<g transform="translate(983.0 1299.0) scale(0.88 1)"><g fill="#1b1b1b"><circle cx="0.0" cy="-3.3" r="2.27"/><circle cx="3.1" cy="-1.0" r="2.27"/><circle cx="1.9" cy="2.7" r="2.27"/><circle cx="-1.9" cy="2.7" r="2.27"/><circle cx="-3.1" cy="-1.0" r="2.27"/><circle cx="0.0" cy="0.0" r="2.52"/></g></g>
<g transform="translate(983.0 1315.6) scale(0.88 1)"><g fill="#1b1b1b"><circle cx="0.0" cy="-3.3" r="2.27"/><circle cx="3.1" cy="-1.0" r="2.27"/><circle cx="1.9" cy="2.7" r="2.27"/><circle cx="-1.9" cy="2.7" r="2.27"/><circle cx="-3.1" cy="-1.0" r="2.27"/><circle cx="0.0" cy="0.0" r="2.52"/></g></g>
<g transform="translate(997.4 1224.3) scale(0.97 1)"><g fill="#1b1b1b"><circle cx="0.0" cy="-3.3" r="2.27"/><circle cx="3.1" cy="-1.0" r="2.27"/><circle cx="1.9" cy="2.7" r="2.27"/><circle cx="-1.9" cy="2.7" r="2.27"/><circle cx="-3.1" cy="-1.0" r="2.27"/><circle cx="0.0" cy="0.0" r="2.52"/></g></g>
<g transform="translate(997.4 1240.9) scale(0.97 1)"><g fill="#1b1b1b"><circle cx="0.0" cy="-3.3" r="2.27"/><circle cx="3.1" cy="-1.0" r="2.27"/><circle cx="1.9" cy="2.7" r="2.27"/><circle cx="-1.9" cy="2.7" r="2.27"/><circle cx="-3.1" cy="-1.0" r="2.27"/><circle cx="0.0" cy="0.0" r="2.52"/></g></g>
<g transform="translate(997.4 1257.5) scale(0.97 1)"><g fill="#1b1b1b"><circle cx="0.0" cy="-3.3" r="2.27"/><circle cx="3.1" cy="-1.0" r="2.27"/><circle cx="1.9" cy="2.7" r="2.27"/><circle cx="-1.9" cy="2.7" r="2.27"/><circle cx="-3.1" cy="-1.0" r="2.27"/><circle cx="0.0" cy="0.0" r="2.52"/></g></g>
<g transform="translate(997.4 1274.1) scale(0.97 1)"><g fill="#1b1b1b"><circle cx="0.0" cy="-3.3" r="2.27"/><circle cx="3.1" cy="-1.0" r="2.27"/><circle cx="1.9" cy="2.7" r="2.27"/><circle cx="-1.9" cy="2.7" r="2.27"/><circle cx="-3.1" cy="-1.0" r="2.27"/><circle cx="0.0" cy="0.0" r="2.52"/></g></g>
<g transform="translate(997.4 1290.7) scale(0.97 1)"><g fill="#1b1b1b"><circle cx="0.0" cy="-3.3" r="2.27"/><circle cx="3.1" cy="-1.0" r="2.27"/><circle cx="1.9" cy="2.7" r="2.27"/><circle cx="-1.9" cy="2.7" r="2.27"/><circle cx="-3.1" cy="-1.0" r="2.27"/><circle cx="0.0" cy="0.0" r="2.52"/></g></g>
<g transform="translate(997.4 1307.3) scale(0.97 1)"><g fill="#1b1b1b"><circle cx="0.0" cy="-3.3" r="2.27"/><circle cx="3.1" cy="-1.0" r="2.27"/><circle cx="1.9" cy="2.7" r="2.27"/><circle cx="-1.9" cy="2.7" r="2.27"/><circle cx="-3.1" cy="-1.0" r="2.27"/><circle cx="0.0" cy="0.0" r="2.52"/></g></g>
<g transform="translate(1012.6 1216.0) scale(1.00 1)"><g fill="#1b1b1b"><circle cx="0.0" cy="-3.3" r="2.27"/><circle cx="3.1" cy="-1.0" r="2.27"/><circle cx="1.9" cy="2.7" r="2.27"/><circle cx="-1.9" cy="2.7" r="2.27"/><circle cx="-3.1" cy="-1.0" r="2.27"/><circle cx="0.0" cy="0.0" r="2.52"/></g></g>
<g transform="translate(1012.6 1232.6) scale(1.00 1)"><g fill="#1b1b1b"><circle cx="0.0" cy="-3.3" r="2.27"/><circle cx="3.1" cy="-1.0" r="2.27"/><circle cx="1.9" cy="2.7" r="2.27"/><circle cx="-1.9" cy="2.7" r="2.27"/><circle cx="-3.1" cy="-1.0" r="2.27"/><circle cx="0.0" cy="0.0" r="2.52"/></g></g>
<g transform="translate(1012.6 1249.2) scale(1.00 1)"><g fill="#1b1b1b"><circle cx="0.0" cy="-3.3" r="2.27"/><circle cx="3.1" cy="-1.0" r="2.27"/><circle cx="1.9" cy="2.7" r="2.27"/><circle cx="-1.9" cy="2.7" r="2.27"/><circle cx="-3.1" cy="-1.0" r="2.27"/><circle cx="0.0" cy="0.0" r="2.52"/></g></g>
<g transform="translate(1012.6 1265.8) scale(1.00 1)"><g fill="#1b1b1b"><circle cx="0.0" cy="-3.3" r="2.27"/><circle cx="3.1" cy="-1.0" r="2.27"/><circle cx="1.9" cy="2.7" r="2.27"/><circle cx="-1.9" cy="2.7" r="2.27"/><circle cx="-3.1" cy="-1.0" r="2.27"/><circle cx="0.0" cy="0.0" r="2.52"/></g></g>
<g transform="translate(1012.6 1282.4) scale(1.00 1)"><g fill="#1b1b1b"><circle cx="0.0" cy="-3.3" r="2.27"/><circle cx="3.1" cy="-1.0" r="2.27"/><circle cx="1.9" cy="2.7" r="2.27"/><circle cx="-1.9" cy="2.7" r="2.27"/><circle cx="-3.1" cy="-1.0" r="2.27"/><circle cx="0.0" cy="0.0" r="2.52"/></g></g>
<g transform="translate(1012.6 1299.0) scale(1.00 1)"><g fill="#1b1b1b"><circle cx="0.0" cy="-3.3" r="2.27"/><circle cx="3.1" cy="-1.0" r="2.27"/><circle cx="1.9" cy="2.7" r="2.27"/><circle cx="-1.9" cy="2.7" r="2.27"/><circle cx="-3.1" cy="-1.0" r="2.27"/><circle cx="0.0" cy="0.0" r="2.52"/></g></g>
<g transform="translate(1012.6 1315.6) scale(1.00 1)"><g fill="#1b1b1b"><circle cx="0.0" cy="-3.3" r="2.27"/><circle cx="3.1" cy="-1.0" r="2.27"/><circle cx="1.9" cy="2.7" r="2.27"/><circle cx="-1.9" cy="2.7" r="2.27"/><circle cx="-3.1" cy="-1.0" r="2.27"/><circle cx="0.0" cy="0.0" r="2.52"/></g></g>
<g transform="translate(1027.8 1224.3) scale(0.97 1)"><g fill="#1b1b1b"><circle cx="0.0" cy="-3.3" r="2.27"/><circle cx="3.1" cy="-1.0" r="2.27"/><circle cx="1.9" cy="2.7" r="2.27"/><circle cx="-1.9" cy="2.7" r="2.27"/><circle cx="-3.1" cy="-1.0" r="2.27"/><circle cx="0.0" cy="0.0" r="2.52"/></g></g>
<g transform="translate(1027.8 1240.9) scale(0.97 1)"><g fill="#1b1b1b"><circle cx="0.0" cy="-3.3" r="2.27"/><circle cx="3.1" cy="-1.0" r="2.27"/><circle cx="1.9" cy="2.7" r="2.27"/><circle cx="-1.9" cy="2.7" r="2.27"/><circle cx="-3.1" cy="-1.0" r="2.27"/><circle cx="0.0" cy="0.0" r="2.52"/></g></g>
<g transform="translate(1027.8 1257.5) scale(0.97 1)"><g fill="#1b1b1b"><circle cx="0.0" cy="-3.3" r="2.27"/><circle cx="3.1" cy="-1.0" r="2.27"/><circle cx="1.9" cy="2.7" r="2.27"/><circle cx="-1.9" cy="2.7" r="2.27"/><circle cx="-3.1" cy="-1.0" r="2.27"/><circle cx="0.0" cy="0.0" r="2.52"/></g></g>
<g transform="translate(1027.8 1274.1) scale(0.97 1)"><g fill="#1b1b1b"><circle cx="0.0" cy="-3.3" r="2.27"/><circle cx="3.1" cy="-1.0" r="2.27"/><circle cx="1.9" cy="2.7" r="2.27"/><circle cx="-1.9" cy="2.7" r="2.27"/><circle cx="-3.1" cy="-1.0" r="2.27"/><circle cx="0.0" cy="0.0" r="2.52"/></g></g>
<g transform="translate(1027.8 1290.7) scale(0.97 1)"><g fill="#1b1b1b"><circle cx="0.0" cy="-3.3" r="2.27"/><circle cx="3.1" cy="-1.0" r="2.27"/><circle cx="1.9" cy="2.7" r="2.27"/><circle cx="-1.9" cy="2.7" r="2.27"/><circle cx="-3.1" cy="-1.0" r="2.27"/><circle cx="0.0" cy="0.0" r="2.52"/></g></g>
<g transform="translate(1027.8 1307.3) scale(0.97 1)"><g fill="#1b1b1b"><circle cx="0.0" cy="-3.3" r="2.27"/><circle cx="3.1" cy="-1.0" r="2.27"/><circle cx="1.9" cy="2.7" r="2.27"/><circle cx="-1.9" cy="2.7" r="2.27"/><circle cx="-3.1" cy="-1.0" r="2.27"/><circle cx="0.0" cy="0.0" r="2.52"/></g></g>
<g transform="translate(1042.2 1216.0) scale(0.88 1)"><g fill="#1b1b1b"><circle cx="0.0" cy="-3.3" r="2.27"/><circle cx="3.1" cy="-1.0" r="2.27"/><circle cx="1.9" cy="2.7" r="2.27"/><circle cx="-1.9" cy="2.7" r="2.27"/><circle cx="-3.1" cy="-1.0" r="2.27"/><circle cx="0.0" cy="0.0" r="2.52"/></g></g>
<g transform="translate(1042.2 1232.6) scale(0.88 1)"><g fill="#1b1b1b"><circle cx="0.0" cy="-3.3" r="2.27"/><circle cx="3.1" cy="-1.0" r="2.27"/><circle cx="1.9" cy="2.7" r="2.27"/><circle cx="-1.9" cy="2.7" r="2.27"/><circle cx="-3.1" cy="-1.0" r="2.27"/><circle cx="0.0" cy="0.0" r="2.52"/></g></g>
<g transform="translate(1042.2 1249.2) scale(0.88 1)"><g fill="#1b1b1b"><circle cx="0.0" cy="-3.3" r="2.27"/><circle cx="3.1" cy="-1.0" r="2.27"/><circle cx="1.9" cy="2.7" r="2.27"/><circle cx="-1.9" cy="2.7" r="2.27"/><circle cx="-3.1" cy="-1.0" r="2.27"/><circle cx="0.0" cy="0.0" r="2.52"/></g></g>
<g transform="translate(1042.2 1265.8) scale(0.88 1)"><g fill="#1b1b1b"><circle cx="0.0" cy="-3.3" r="2.27"/><circle cx="3.1" cy="-1.0" r="2.27"/><circle cx="1.9" cy="2.7" r="2.27"/><circle cx="-1.9" cy="2.7" r="2.27"/><circle cx="-3.1" cy="-1.0" r="2.27"/><circle cx="0.0" cy="0.0" r="2.52"/></g></g>
<g transform="translate(1042.2 1282.4) scale(0.88 1)"><g fill="#1b1b1b"><circle cx="0.0" cy="-3.3" r="2.27"/><circle cx="3.1" cy="-1.0" r="2.27"/><circle cx="1.9" cy="2.7" r="2.27"/><circle cx="-1.9" cy="2.7" r="2.27"/><circle cx="-3.1" cy="-1.0" r="2.27"/><circle cx="0.0" cy="0.0" r="2.52"/></g></g>
<g transform="translate(1042.2 1299.0) scale(0.88 1)"><g fill="#1b1b1b"><circle cx="0.0" cy="-3.3" r="2.27"/><circle cx="3.1" cy="-1.0" r="2.27"/><circle cx="1.9" cy="2.7" r="2.27"/><circle cx="-1.9" cy="2.7" r="2.27"/><circle cx="-3.1" cy="-1.0" r="2.27"/><circle cx="0.0" cy="0.0" r="2.52"/></g></g>
<g transform="translate(1042.2 1315.6) scale(0.88 1)"><g fill="#1b1b1b"><circle cx="0.0" cy="-3.3" r="2.27"/><circle cx="3.1" cy="-1.0" r="2.27"/><circle cx="1.9" cy="2.7" r="2.27"/><circle cx="-1.9" cy="2.7" r="2.27"/><circle cx="-3.1" cy="-1.0" r="2.27"/><circle cx="0.0" cy="0.0" r="2.52"/></g></g>
<g transform="translate(1054.8 1224.3) scale(0.75 1)"><g fill="#1b1b1b"><circle cx="0.0" cy="-3.3" r="2.27"/><circle cx="3.1" cy="-1.0" r="2.27"/><circle cx="1.9" cy="2.7" r="2.27"/><circle cx="-1.9" cy="2.7" r="2.27"/><circle cx="-3.1" cy="-1.0" r="2.27"/><circle cx="0.0" cy="0.0" r="2.52"/></g></g>
<g transform="translate(1054.8 1240.9) scale(0.75 1)"><g fill="#1b1b1b"><circle cx="0.0" cy="-3.3" r="2.27"/><circle cx="3.1" cy="-1.0" r="2.27"/><circle cx="1.9" cy="2.7" r="2.27"/><circle cx="-1.9" cy="2.7" r="2.27"/><circle cx="-3.1" cy="-1.0" r="2.27"/><circle cx="0.0" cy="0.0" r="2.52"/></g></g>
<g transform="translate(1054.8 1257.5) scale(0.75 1)"><g fill="#1b1b1b"><circle cx="0.0" cy="-3.3" r="2.27"/><circle cx="3.1" cy="-1.0" r="2.27"/><circle cx="1.9" cy="2.7" r="2.27"/><circle cx="-1.9" cy="2.7" r="2.27"/><circle cx="-3.1" cy="-1.0" r="2.27"/><circle cx="0.0" cy="0.0" r="2.52"/></g></g>
<g transform="translate(1054.8 1274.1) scale(0.75 1)"><g fill="#1b1b1b"><circle cx="0.0" cy="-3.3" r="2.27"/><circle cx="3.1" cy="-1.0" r="2.27"/><circle cx="1.9" cy="2.7" r="2.27"/><circle cx="-1.9" cy="2.7" r="2.27"/><circle cx="-3.1" cy="-1.0" r="2.27"/><circle cx="0.0" cy="0.0" r="2.52"/></g></g>
<g transform="translate(1054.8 1290.7) scale(0.75 1)"><g fill="#1b1b1b"><circle cx="0.0" cy="-3.3" r="2.27"/><circle cx="3.1" cy="-1.0" r="2.27"/><circle cx="1.9" cy="2.7" r="2.27"/><circle cx="-1.9" cy="2.7" r="2.27"/><circle cx="-3.1" cy="-1.0" r="2.27"/><circle cx="0.0" cy="0.0" r="2.52"/></g></g>
<g transform="translate(1054.8 1307.3) scale(0.75 1)"><g fill="#1b1b1b"><circle cx="0.0" cy="-3.3" r="2.27"/><circle cx="3.1" cy="-1.0" r="2.27"/><circle cx="1.9" cy="2.7" r="2.27"/><circle cx="-1.9" cy="2.7" r="2.27"/><circle cx="-3.1" cy="-1.0" r="2.27"/><circle cx="0.0" cy="0.0" r="2.52"/></g></g>
<g transform="translate(1065.0 1216.0) scale(0.57 1)"><g fill="#1b1b1b"><circle cx="0.0" cy="-3.3" r="2.27"/><circle cx="3.1" cy="-1.0" r="2.27"/><circle cx="1.9" cy="2.7" r="2.27"/><circle cx="-1.9" cy="2.7" r="2.27"/><circle cx="-3.1" cy="-1.0" r="2.27"/><circle cx="0.0" cy="0.0" r="2.52"/></g></g>
<g transform="translate(1065.0 1232.6) scale(0.57 1)"><g fill="#1b1b1b"><circle cx="0.0" cy="-3.3" r="2.27"/><circle cx="3.1" cy="-1.0" r="2.27"/><circle cx="1.9" cy="2.7" r="2.27"/><circle cx="-1.9" cy="2.7" r="2.27"/><circle cx="-3.1" cy="-1.0" r="2.27"/><circle cx="0.0" cy="0.0" r="2.52"/></g></g>
<g transform="translate(1065.0 1249.2) scale(0.57 1)"><g fill="#1b1b1b"><circle cx="0.0" cy="-3.3" r="2.27"/><circle cx="3.1" cy="-1.0" r="2.27"/><circle cx="1.9" cy="2.7" r="2.27"/><circle cx="-1.9" cy="2.7" r="2.27"/><circle cx="-3.1" cy="-1.0" r="2.27"/><circle cx="0.0" cy="0.0" r="2.52"/></g></g>
<g transform="translate(1065.0 1265.8) scale(0.57 1)"><g fill="#1b1b1b"><circle cx="0.0" cy="-3.3" r="2.27"/><circle cx="3.1" cy="-1.0" r="2.27"/><circle cx="1.9" cy="2.7" r="2.27"/><circle cx="-1.9" cy="2.7" r="2.27"/><circle cx="-3.1" cy="-1.0" r="2.27"/><circle cx="0.0" cy="0.0" r="2.52"/></g></g>
<g transform="translate(1065.0 1282.4) scale(0.57 1)"><g fill="#1b1b1b"><circle cx="0.0" cy="-3.3" r="2.27"/><circle cx="3.1" cy="-1.0" r="2.27"/><circle cx="1.9" cy="2.7" r="2.27"/><circle cx="-1.9" cy="2.7" r="2.27"/><circle cx="-3.1" cy="-1.0" r="2.27"/><circle cx="0.0" cy="0.0" r="2.52"/></g></g>
<g transform="translate(1065.0 1299.0) scale(0.57 1)"><g fill="#1b1b1b"><circle cx="0.0" cy="-3.3" r="2.27"/><circle cx="3.1" cy="-1.0" r="2.27"/><circle cx="1.9" cy="2.7" r="2.27"/><circle cx="-1.9" cy="2.7" r="2.27"/><circle cx="-3.1" cy="-1.0" r="2.27"/><circle cx="0.0" cy="0.0" r="2.52"/></g></g>
<g transform="translate(1065.0 1315.6) scale(0.57 1)"><g fill="#1b1b1b"><circle cx="0.0" cy="-3.3" r="2.27"/><circle cx="3.1" cy="-1.0" r="2.27"/><circle cx="1.9" cy="2.7" r="2.27"/><circle cx="-1.9" cy="2.7" r="2.27"/><circle cx="-3.1" cy="-1.0" r="2.27"/><circle cx="0.0" cy="0.0" r="2.52"/></g></g>
<g transform="translate(1072.1 1224.3) scale(0.35 1)"><g fill="#1b1b1b"><circle cx="0.0" cy="-3.3" r="2.27"/><circle cx="3.1" cy="-1.0" r="2.27"/><circle cx="1.9" cy="2.7" r="2.27"/><circle cx="-1.9" cy="2.7" r="2.27"/><circle cx="-3.1" cy="-1.0" r="2.27"/><circle cx="0.0" cy="0.0" r="2.52"/></g></g>
<g transform="translate(1072.1 1240.9) scale(0.35 1)"><g fill="#1b1b1b"><circle cx="0.0" cy="-3.3" r="2.27"/><circle cx="3.1" cy="-1.0" r="2.27"/><circle cx="1.9" cy="2.7" r="2.27"/><circle cx="-1.9" cy="2.7" r="2.27"/><circle cx="-3.1" cy="-1.0" r="2.27"/><circle cx="0.0" cy="0.0" r="2.52"/></g></g>
<g transform="translate(1072.1 1257.5) scale(0.35 1)"><g fill="#1b1b1b"><circle cx="0.0" cy="-3.3" r="2.27"/><circle cx="3.1" cy="-1.0" r="2.27"/><circle cx="1.9" cy="2.7" r="2.27"/><circle cx="-1.9" cy="2.7" r="2.27"/><circle cx="-3.1" cy="-1.0" r="2.27"/><circle cx="0.0" cy="0.0" r="2.52"/></g></g>
<g transform="translate(1072.1 1274.1) scale(0.35 1)"><g fill="#1b1b1b"><circle cx="0.0" cy="-3.3" r="2.27"/><circle cx="3.1" cy="-1.0" r="2.27"/><circle cx="1.9" cy="2.7" r="2.27"/><circle cx="-1.9" cy="2.7" r="2.27"/><circle cx="-3.1" cy="-1.0" r="2.27"/><circle cx="0.0" cy="0.0" r="2.52"/></g></g>
<g transform="translate(1072.1 1290.7) scale(0.35 1)"><g fill="#1b1b1b"><circle cx="0.0" cy="-3.3" r="2.27"/><circle cx="3.1" cy="-1.0" r="2.27"/><circle cx="1.9" cy="2.7" r="2.27"/><circle cx="-1.9" cy="2.7" r="2.27"/><circle cx="-3.1" cy="-1.0" r="2.27"/><circle cx="0.0" cy="0.0" r="2.52"/></g></g>
<g transform="translate(1072.1 1307.3) scale(0.35 1)"><g fill="#1b1b1b"><circle cx="0.0" cy="-3.3" r="2.27"/><circle cx="3.1" cy="-1.0" r="2.27"/><circle cx="1.9" cy="2.7" r="2.27"/><circle cx="-1.9" cy="2.7" r="2.27"/><circle cx="-3.1" cy="-1.0" r="2.27"/><circle cx="0.0" cy="0.0" r="2.52"/></g></g>
</g>
<rect x="949.3" y="1316.0" width="126.7" height="26.0" fill="url(#dLip)"/>
<path d="M949.3 1235.2 Q970 1238 986 1236.5 Q1010 1232 1030 1221 Q1054 1208 1076.0 1204.8" fill="none" stroke="#4e4e4e" stroke-width="1.2" opacity=".8"/>
</g>
<rect x="955.5" y="924" width="35.5" height="238" rx="17.7" fill="#9d9d9d" fill-opacity=".25" stroke="#7a7a7a" stroke-width="1"/>
<rect x="956.5" y="925" width="35.5" height="238" rx="17.7" fill="none" stroke="#c4c4c4" stroke-width=".8" opacity=".6"/>
<ellipse cx="972.0" cy="962.0" rx="10.5" ry="14.0" fill="#9c7f6b" stroke="#6e5a4c" stroke-width="1.3"/>
<ellipse cx="972.0" cy="962.0" rx="6.3" ry="9.1" fill="#a98972" opacity=".7"/>
<ellipse cx="970.6" cy="1015.0" rx="8.4" ry="12.6" fill="#9c7f6b" stroke="#6e5a4c" stroke-width="1.3"/>
<ellipse cx="970.6" cy="1015.0" rx="5.0" ry="8.2" fill="#a98972" opacity=".7"/>
<ellipse cx="970.4" cy="1067.6" rx="8.4" ry="12.6" fill="#9c7f6b" stroke="#6e5a4c" stroke-width="1.3"/>
<ellipse cx="970.4" cy="1067.6" rx="5.0" ry="8.2" fill="#a98972" opacity=".7"/>
<ellipse cx="972.5" cy="1117" rx="8.6" ry="10.5" fill="#b98e72" stroke="#8a6a54" stroke-width="1"/>
<ellipse cx="970.6" cy="1125" rx="9.2" ry="11.6" fill="#dcae8e" stroke="#a67c60" stroke-width="1.1"/>
<circle cx="970.4" cy="1124.6" r="3.6" fill="none" stroke="#b98a6c" stroke-width="1"/>
<line x1="970.4" y1="1119.6" x2="970.4" y2="1124.0" stroke="#b98a6c" stroke-width="1"/>
<path d="M836 774.3 L1043.9 713 Q1058 709.5 1065 719 Q1075.5 738 1076 770 C1062 822 1012 866 962 879.5 L950 874.5 L860.4 894.8 L840 880 Z" fill="url(#dHead)"/>
<path d="M836 774.3 L887 759.5 Q922 800 904.5 884.6 L860.4 894.8 L840 880 Z" fill="#000" opacity=".13"/>
<path d="M887 759.5 Q922 800 904.5 884.6" fill="none" stroke="#6a6a6a" stroke-width="1" opacity=".8"/>
<path d="M888.4 759 Q923.5 800 906 884.3" fill="none" stroke="#b4b4b4" stroke-width=".8" opacity=".6"/>
<path d="M1058 712.5 Q1073.5 722 1076.8 768 C1064 823 1014 868.5 961 882 L949.3 873 L949.8 865 L960 869.5 C1003 856 1049 814 1066.5 766 Q1067 735 1058 712.5 Z" fill="url(#dTrim)"/>
<path d="M1071.5 745 Q1073 756 1072.2 768 C1058 819 1010 863 960 877" fill="none" stroke="#e6bc9a" stroke-width="1.3" opacity=".55"/>
<path d="M1066.5 766 C1049 814 1003 856 960 869.5" fill="none" stroke="#8a6244" stroke-width="1" opacity=".5"/>
<rect x="895" y="886.5" width="10" height="3.6" rx="1.2" fill="#5a5a5a"/>
<g transform="translate(849.6 834.6) rotate(-7)">
<ellipse rx="46.5" ry="61.5" fill="url(#dFace)"/>
<ellipse rx="42.4" ry="57.2" fill="none" stroke="#c6c6c6" stroke-width="1.4"/>
<ellipse rx="40.2" ry="55" fill="#161616"/>
<ellipse cx="2.5" cy="-1" rx="32.4" ry="43.5" fill="#606060"/>
<ellipse cx="2.5" cy="-1" rx="28" ry="38.5" fill="#4e4e4e"/>
<ellipse cx="2" cy="-.5" rx="24.5" ry="33.5" fill="#151515"/>
<g transform="rotate(7)">
<g fill="none" stroke="#5a5a5a" stroke-width="1.5">
<ellipse cx="2" cy="-.5" rx="7.3" ry="10.0"/>
<ellipse cx="2" cy="-.5" rx="13.5" ry="18.4"/>
<ellipse cx="2" cy="-.5" rx="19.6" ry="26.8"/>
<line x1="4.0" y1="-0.5" x2="26.5" y2="-0.5"/>
<line x1="3.7" y1="0.8" x2="23.2" y2="16.2"/>
<line x1="3.0" y1="1.8" x2="14.3" y2="28.5"/>
<line x1="2.0" y1="2.1" x2="2.0" y2="33.0"/>
<line x1="1.0" y1="1.8" x2="-10.2" y2="28.5"/>
<line x1="0.3" y1="0.8" x2="-19.2" y2="16.2"/>
<line x1="0.0" y1="-0.5" x2="-22.5" y2="-0.5"/>
<line x1="0.3" y1="-1.8" x2="-19.2" y2="-17.3"/>
<line x1="1.0" y1="-2.8" x2="-10.3" y2="-29.5"/>
<line x1="2.0" y1="-3.1" x2="2.0" y2="-34.0"/>
<line x1="3.0" y1="-2.8" x2="14.3" y2="-29.5"/>
<line x1="3.7" y1="-1.8" x2="23.2" y2="-17.3"/>
</g>
<ellipse cx="2" cy="-.5" rx="2.6" ry="3.4" fill="#585858"/>
</g>
<circle cx="-12" cy="-51" r="2.2" fill="#cfcfcf"/><circle cx="-33" cy="15" r="2" fill="#bdbdbd"/><circle cx="24" cy="46" r="2.2" fill="#c8c8c8"/>
</g>
</g>
<g id="stick">
<rect x="1252.1" y="1341.0" width="43.0" height="57.4" fill="url(#gK)"/>
<rect x="1258.7" y="1398.4" width="29.9" height="9.2" fill="url(#gK)"/>
<rect x="1252.1" y="1399.4" width="43.0" height="4.8" rx="1.5" fill="url(#gK)"/>
<line x1="1252.1" y1="1404.2" x2="1295.1" y2="1404.2" stroke="#3c3c3c" stroke-width="0.8" opacity=".6"/>
<rect x="1259.3" y="1407.1" width="28.6" height="9.2" fill="url(#gK)"/>
<rect x="1253.2" y="1408.1" width="40.7" height="4.8" rx="1.5" fill="url(#gK)"/>
<line x1="1253.2" y1="1412.8" x2="1294.0" y2="1412.8" stroke="#3c3c3c" stroke-width="0.8" opacity=".6"/>
<rect x="1259.9" y="1415.7" width="27.3" height="9.2" fill="url(#gK)"/>
<rect x="1254.4" y="1416.7" width="38.4" height="4.8" rx="1.5" fill="url(#gK)"/>
<line x1="1254.4" y1="1421.5" x2="1292.8" y2="1421.5" stroke="#3c3c3c" stroke-width="0.8" opacity=".6"/>
<rect x="1260.6" y="1424.4" width="26.1" height="9.2" fill="url(#gK)"/>
<rect x="1255.5" y="1425.4" width="36.1" height="4.8" rx="1.5" fill="url(#gK)"/>
<line x1="1255.5" y1="1430.1" x2="1291.7" y2="1430.1" stroke="#3c3c3c" stroke-width="0.8" opacity=".6"/>
<rect x="1261.2" y="1433.0" width="24.8" height="9.2" fill="url(#gK)"/>
<rect x="1256.7" y="1434.0" width="33.9" height="4.8" rx="1.5" fill="url(#gK)"/>
<line x1="1256.7" y1="1438.8" x2="1290.5" y2="1438.8" stroke="#3c3c3c" stroke-width="0.8" opacity=".6"/>
<rect x="1261.8" y="1441.7" width="23.6" height="9.2" fill="url(#gK)"/>
<rect x="1257.8" y="1442.7" width="31.6" height="4.8" rx="1.5" fill="url(#gK)"/>
<line x1="1257.8" y1="1447.4" x2="1289.4" y2="1447.4" stroke="#3c3c3c" stroke-width="0.8" opacity=".6"/>
<rect x="1262.4" y="1450.3" width="22.3" height="9.2" fill="url(#gK)"/>
<rect x="1259.0" y="1451.3" width="29.3" height="4.8" rx="1.5" fill="url(#gK)"/>
<line x1="1259.0" y1="1456.1" x2="1288.2" y2="1456.1" stroke="#3c3c3c" stroke-width="0.8" opacity=".6"/>
<rect x="1225.4" y="153.0" width="94.4" height="366.0" fill="url(#gB)"/>
<line x1="1236.8" y1="169.8" x2="1236.8" y2="328.0" stroke="#2e2e2e" stroke-width="1.4"/>
<line x1="1238.3" y1="169.8" x2="1238.3" y2="328.0" stroke="#8c8c8c" stroke-width="0.8" opacity=".55"/>
<line x1="1236.8" y1="344.4" x2="1236.8" y2="501.0" stroke="#2e2e2e" stroke-width="1.4"/>
<line x1="1238.3" y1="344.4" x2="1238.3" y2="501.0" stroke="#8c8c8c" stroke-width="0.8" opacity=".55"/>
<line x1="1274.6" y1="169.8" x2="1274.6" y2="328.0" stroke="#2e2e2e" stroke-width="1.4"/>
<line x1="1276.1" y1="169.8" x2="1276.1" y2="328.0" stroke="#8c8c8c" stroke-width="0.8" opacity=".55"/>
<line x1="1274.6" y1="344.4" x2="1274.6" y2="501.0" stroke="#2e2e2e" stroke-width="1.4"/>
<line x1="1276.1" y1="344.4" x2="1276.1" y2="501.0" stroke="#8c8c8c" stroke-width="0.8" opacity=".55"/>
<rect x="1235.3" y="332.0" width="4.0" height="8.0" fill="#8a8a8a" opacity=".7"/>
<rect x="1273.1" y="332.0" width="4.0" height="8.0" fill="#8a8a8a" opacity=".7"/>
<rect x="1229.0" y="505.0" width="89.5" height="14.0" fill="url(#gB)"/>
<line x1="1229.0" y1="505.0" x2="1318.5" y2="505.0" stroke="#4a4a4a" stroke-width="1" opacity=".6"/>
<path d="M1229 518 L1318.5 518 Q1323 520 1327.5 527 L1337.2 541.5 L1209.8 541.5 L1219.5 527 Q1224 520 1229 518 Z" fill="url(#stSh)"/>
<path d="M1209.8 541 L1337.2 541 L1337.2 1288 Q1337.2 1318 1322 1332 Q1312 1343 1296 1343.5 L1252 1343.5 Q1236 1343 1225 1332 Q1209.8 1318 1209.8 1288 Z" fill="url(#gS)"/>
<g clip-path="url(#stClip)">
<line x1="1209.8" y1="542.0" x2="1337.2" y2="542.0" stroke="#c0c0c0" stroke-width="1.2" opacity=".7"/>
<line x1="1209.8" y1="544.5" x2="1337.2" y2="544.5" stroke="#6e6e6e" stroke-width="1" opacity=".6"/>
<path d="M1209.8 570 Q1215.8 590 1273.5 590.5 Q1331.2 590 1337.2 570" fill="none" stroke="#747474" stroke-width="1" opacity=".8"/>
<path d="M1209.8 793 C1211.8 835 1240 856 1273.5 856 C1307 856 1335.2 835 1337.2 793 L1337.2 812 C1336.2 858 1310 880 1273.5 880 C1237 880 1210.8 858 1209.8 812 Z" fill="url(#stBand)"/>
<path d="M1209.8 793 C1211.8 835 1240 856 1273.5 856 C1307 856 1335.2 835 1337.2 793" fill="none" stroke="#8a6a55" stroke-width="1" opacity=".7"/>
<path d="M1209.8 800 C1211.8 842 1240 863 1273.5 863 C1307 863 1335.2 842 1337.2 800" fill="none" stroke="#f6dcc6" stroke-width="1.4" opacity=".65"/>
<rect x="1209.8" y="1187.0" width="127.4" height="160.0" fill="#000" opacity=".04"/>
<line x1="1209.8" y1="1187.0" x2="1337.2" y2="1187.0" stroke="#6c6c6c" stroke-width="1.1" opacity=".8"/>
<line x1="1209.8" y1="1188.2" x2="1337.2" y2="1188.2" stroke="#cacaca" stroke-width="0.8" opacity=".5"/>
<path d="M1209.8 1219 Q1223.8 1240.5 1273.5 1241 Q1323.2 1240.5 1337.2 1219 L1337.2 1350 L1209.8 1350 Z" fill="url(#gF)"/>
<g clip-path="url(#sfilt)">
<g transform="translate(1213.8 1230.3) scale(0.36 1)"><g fill="#1b1b1b"><circle cx="0.0" cy="-3.3" r="2.27"/><circle cx="3.1" cy="-1.0" r="2.27"/><circle cx="1.9" cy="2.7" r="2.27"/><circle cx="-1.9" cy="2.7" r="2.27"/><circle cx="-3.1" cy="-1.0" r="2.27"/><circle cx="0.0" cy="0.0" r="2.52"/></g></g>
<g transform="translate(1213.8 1246.9) scale(0.36 1)"><g fill="#1b1b1b"><circle cx="0.0" cy="-3.3" r="2.27"/><circle cx="3.1" cy="-1.0" r="2.27"/><circle cx="1.9" cy="2.7" r="2.27"/><circle cx="-1.9" cy="2.7" r="2.27"/><circle cx="-3.1" cy="-1.0" r="2.27"/><circle cx="0.0" cy="0.0" r="2.52"/></g></g>
<g transform="translate(1213.8 1263.5) scale(0.36 1)"><g fill="#1b1b1b"><circle cx="0.0" cy="-3.3" r="2.27"/><circle cx="3.1" cy="-1.0" r="2.27"/><circle cx="1.9" cy="2.7" r="2.27"/><circle cx="-1.9" cy="2.7" r="2.27"/><circle cx="-3.1" cy="-1.0" r="2.27"/><circle cx="0.0" cy="0.0" r="2.52"/></g></g>
<g transform="translate(1213.8 1280.1) scale(0.36 1)"><g fill="#1b1b1b"><circle cx="0.0" cy="-3.3" r="2.27"/><circle cx="3.1" cy="-1.0" r="2.27"/><circle cx="1.9" cy="2.7" r="2.27"/><circle cx="-1.9" cy="2.7" r="2.27"/><circle cx="-3.1" cy="-1.0" r="2.27"/><circle cx="0.0" cy="0.0" r="2.52"/></g></g>
<g transform="translate(1213.8 1296.7) scale(0.36 1)"><g fill="#1b1b1b"><circle cx="0.0" cy="-3.3" r="2.27"/><circle cx="3.1" cy="-1.0" r="2.27"/><circle cx="1.9" cy="2.7" r="2.27"/><circle cx="-1.9" cy="2.7" r="2.27"/><circle cx="-3.1" cy="-1.0" r="2.27"/><circle cx="0.0" cy="0.0" r="2.52"/></g></g>
<g transform="translate(1213.8 1313.3) scale(0.36 1)"><g fill="#1b1b1b"><circle cx="0.0" cy="-3.3" r="2.27"/><circle cx="3.1" cy="-1.0" r="2.27"/><circle cx="1.9" cy="2.7" r="2.27"/><circle cx="-1.9" cy="2.7" r="2.27"/><circle cx="-3.1" cy="-1.0" r="2.27"/><circle cx="0.0" cy="0.0" r="2.52"/></g></g>
<g transform="translate(1221.0 1222.0) scale(0.57 1)"><g fill="#1b1b1b"><circle cx="0.0" cy="-3.3" r="2.27"/><circle cx="3.1" cy="-1.0" r="2.27"/><circle cx="1.9" cy="2.7" r="2.27"/><circle cx="-1.9" cy="2.7" r="2.27"/><circle cx="-3.1" cy="-1.0" r="2.27"/><circle cx="0.0" cy="0.0" r="2.52"/></g></g>
<g transform="translate(1221.0 1238.6) scale(0.57 1)"><g fill="#1b1b1b"><circle cx="0.0" cy="-3.3" r="2.27"/><circle cx="3.1" cy="-1.0" r="2.27"/><circle cx="1.9" cy="2.7" r="2.27"/><circle cx="-1.9" cy="2.7" r="2.27"/><circle cx="-3.1" cy="-1.0" r="2.27"/><circle cx="0.0" cy="0.0" r="2.52"/></g></g>
<g transform="translate(1221.0 1255.2) scale(0.57 1)"><g fill="#1b1b1b"><circle cx="0.0" cy="-3.3" r="2.27"/><circle cx="3.1" cy="-1.0" r="2.27"/><circle cx="1.9" cy="2.7" r="2.27"/><circle cx="-1.9" cy="2.7" r="2.27"/><circle cx="-3.1" cy="-1.0" r="2.27"/><circle cx="0.0" cy="0.0" r="2.52"/></g></g>
<g transform="translate(1221.0 1271.8) scale(0.57 1)"><g fill="#1b1b1b"><circle cx="0.0" cy="-3.3" r="2.27"/><circle cx="3.1" cy="-1.0" r="2.27"/><circle cx="1.9" cy="2.7" r="2.27"/><circle cx="-1.9" cy="2.7" r="2.27"/><circle cx="-3.1" cy="-1.0" r="2.27"/><circle cx="0.0" cy="0.0" r="2.52"/></g></g>
<g transform="translate(1221.0 1288.4) scale(0.57 1)"><g fill="#1b1b1b"><circle cx="0.0" cy="-3.3" r="2.27"/><circle cx="3.1" cy="-1.0" r="2.27"/><circle cx="1.9" cy="2.7" r="2.27"/><circle cx="-1.9" cy="2.7" r="2.27"/><circle cx="-3.1" cy="-1.0" r="2.27"/><circle cx="0.0" cy="0.0" r="2.52"/></g></g>
<g transform="translate(1221.0 1305.0) scale(0.57 1)"><g fill="#1b1b1b"><circle cx="0.0" cy="-3.3" r="2.27"/><circle cx="3.1" cy="-1.0" r="2.27"/><circle cx="1.9" cy="2.7" r="2.27"/><circle cx="-1.9" cy="2.7" r="2.27"/><circle cx="-3.1" cy="-1.0" r="2.27"/><circle cx="0.0" cy="0.0" r="2.52"/></g></g>
<g transform="translate(1221.0 1321.6) scale(0.57 1)"><g fill="#1b1b1b"><circle cx="0.0" cy="-3.3" r="2.27"/><circle cx="3.1" cy="-1.0" r="2.27"/><circle cx="1.9" cy="2.7" r="2.27"/><circle cx="-1.9" cy="2.7" r="2.27"/><circle cx="-3.1" cy="-1.0" r="2.27"/><circle cx="0.0" cy="0.0" r="2.52"/></g></g>
<g transform="translate(1231.2 1230.3) scale(0.75 1)"><g fill="#1b1b1b"><circle cx="0.0" cy="-3.3" r="2.27"/><circle cx="3.1" cy="-1.0" r="2.27"/><circle cx="1.9" cy="2.7" r="2.27"/><circle cx="-1.9" cy="2.7" r="2.27"/><circle cx="-3.1" cy="-1.0" r="2.27"/><circle cx="0.0" cy="0.0" r="2.52"/></g></g>
<g transform="translate(1231.2 1246.9) scale(0.75 1)"><g fill="#1b1b1b"><circle cx="0.0" cy="-3.3" r="2.27"/><circle cx="3.1" cy="-1.0" r="2.27"/><circle cx="1.9" cy="2.7" r="2.27"/><circle cx="-1.9" cy="2.7" r="2.27"/><circle cx="-3.1" cy="-1.0" r="2.27"/><circle cx="0.0" cy="0.0" r="2.52"/></g></g>
<g transform="translate(1231.2 1263.5) scale(0.75 1)"><g fill="#1b1b1b"><circle cx="0.0" cy="-3.3" r="2.27"/><circle cx="3.1" cy="-1.0" r="2.27"/><circle cx="1.9" cy="2.7" r="2.27"/><circle cx="-1.9" cy="2.7" r="2.27"/><circle cx="-3.1" cy="-1.0" r="2.27"/><circle cx="0.0" cy="0.0" r="2.52"/></g></g>
<g transform="translate(1231.2 1280.1) scale(0.75 1)"><g fill="#1b1b1b"><circle cx="0.0" cy="-3.3" r="2.27"/><circle cx="3.1" cy="-1.0" r="2.27"/><circle cx="1.9" cy="2.7" r="2.27"/><circle cx="-1.9" cy="2.7" r="2.27"/><circle cx="-3.1" cy="-1.0" r="2.27"/><circle cx="0.0" cy="0.0" r="2.52"/></g></g>
<g transform="translate(1231.2 1296.7) scale(0.75 1)"><g fill="#1b1b1b"><circle cx="0.0" cy="-3.3" r="2.27"/><circle cx="3.1" cy="-1.0" r="2.27"/><circle cx="1.9" cy="2.7" r="2.27"/><circle cx="-1.9" cy="2.7" r="2.27"/><circle cx="-3.1" cy="-1.0" r="2.27"/><circle cx="0.0" cy="0.0" r="2.52"/></g></g>
<g transform="translate(1231.2 1313.3) scale(0.75 1)"><g fill="#1b1b1b"><circle cx="0.0" cy="-3.3" r="2.27"/><circle cx="3.1" cy="-1.0" r="2.27"/><circle cx="1.9" cy="2.7" r="2.27"/><circle cx="-1.9" cy="2.7" r="2.27"/><circle cx="-3.1" cy="-1.0" r="2.27"/><circle cx="0.0" cy="0.0" r="2.52"/></g></g>
<g transform="translate(1243.9 1222.0) scale(0.89 1)"><g fill="#1b1b1b"><circle cx="0.0" cy="-3.3" r="2.27"/><circle cx="3.1" cy="-1.0" r="2.27"/><circle cx="1.9" cy="2.7" r="2.27"/><circle cx="-1.9" cy="2.7" r="2.27"/><circle cx="-3.1" cy="-1.0" r="2.27"/><circle cx="0.0" cy="0.0" r="2.52"/></g></g>
<g transform="translate(1243.9 1238.6) scale(0.89 1)"><g fill="#1b1b1b"><circle cx="0.0" cy="-3.3" r="2.27"/><circle cx="3.1" cy="-1.0" r="2.27"/><circle cx="1.9" cy="2.7" r="2.27"/><circle cx="-1.9" cy="2.7" r="2.27"/><circle cx="-3.1" cy="-1.0" r="2.27"/><circle cx="0.0" cy="0.0" r="2.52"/></g></g>
<g transform="translate(1243.9 1255.2) scale(0.89 1)"><g fill="#1b1b1b"><circle cx="0.0" cy="-3.3" r="2.27"/><circle cx="3.1" cy="-1.0" r="2.27"/><circle cx="1.9" cy="2.7" r="2.27"/><circle cx="-1.9" cy="2.7" r="2.27"/><circle cx="-3.1" cy="-1.0" r="2.27"/><circle cx="0.0" cy="0.0" r="2.52"/></g></g>
<g transform="translate(1243.9 1271.8) scale(0.89 1)"><g fill="#1b1b1b"><circle cx="0.0" cy="-3.3" r="2.27"/><circle cx="3.1" cy="-1.0" r="2.27"/><circle cx="1.9" cy="2.7" r="2.27"/><circle cx="-1.9" cy="2.7" r="2.27"/><circle cx="-3.1" cy="-1.0" r="2.27"/><circle cx="0.0" cy="0.0" r="2.52"/></g></g>
<g transform="translate(1243.9 1288.4) scale(0.89 1)"><g fill="#1b1b1b"><circle cx="0.0" cy="-3.3" r="2.27"/><circle cx="3.1" cy="-1.0" r="2.27"/><circle cx="1.9" cy="2.7" r="2.27"/><circle cx="-1.9" cy="2.7" r="2.27"/><circle cx="-3.1" cy="-1.0" r="2.27"/><circle cx="0.0" cy="0.0" r="2.52"/></g></g>
<g transform="translate(1243.9 1305.0) scale(0.89 1)"><g fill="#1b1b1b"><circle cx="0.0" cy="-3.3" r="2.27"/><circle cx="3.1" cy="-1.0" r="2.27"/><circle cx="1.9" cy="2.7" r="2.27"/><circle cx="-1.9" cy="2.7" r="2.27"/><circle cx="-3.1" cy="-1.0" r="2.27"/><circle cx="0.0" cy="0.0" r="2.52"/></g></g>
<g transform="translate(1243.9 1321.6) scale(0.89 1)"><g fill="#1b1b1b"><circle cx="0.0" cy="-3.3" r="2.27"/><circle cx="3.1" cy="-1.0" r="2.27"/><circle cx="1.9" cy="2.7" r="2.27"/><circle cx="-1.9" cy="2.7" r="2.27"/><circle cx="-3.1" cy="-1.0" r="2.27"/><circle cx="0.0" cy="0.0" r="2.52"/></g></g>
<g transform="translate(1258.2 1230.3) scale(0.97 1)"><g fill="#1b1b1b"><circle cx="0.0" cy="-3.3" r="2.27"/><circle cx="3.1" cy="-1.0" r="2.27"/><circle cx="1.9" cy="2.7" r="2.27"/><circle cx="-1.9" cy="2.7" r="2.27"/><circle cx="-3.1" cy="-1.0" r="2.27"/><circle cx="0.0" cy="0.0" r="2.52"/></g></g>
<g transform="translate(1258.2 1246.9) scale(0.97 1)"><g fill="#1b1b1b"><circle cx="0.0" cy="-3.3" r="2.27"/><circle cx="3.1" cy="-1.0" r="2.27"/><circle cx="1.9" cy="2.7" r="2.27"/><circle cx="-1.9" cy="2.7" r="2.27"/><circle cx="-3.1" cy="-1.0" r="2.27"/><circle cx="0.0" cy="0.0" r="2.52"/></g></g>
<g transform="translate(1258.2 1263.5) scale(0.97 1)"><g fill="#1b1b1b"><circle cx="0.0" cy="-3.3" r="2.27"/><circle cx="3.1" cy="-1.0" r="2.27"/><circle cx="1.9" cy="2.7" r="2.27"/><circle cx="-1.9" cy="2.7" r="2.27"/><circle cx="-3.1" cy="-1.0" r="2.27"/><circle cx="0.0" cy="0.0" r="2.52"/></g></g>
<g transform="translate(1258.2 1280.1) scale(0.97 1)"><g fill="#1b1b1b"><circle cx="0.0" cy="-3.3" r="2.27"/><circle cx="3.1" cy="-1.0" r="2.27"/><circle cx="1.9" cy="2.7" r="2.27"/><circle cx="-1.9" cy="2.7" r="2.27"/><circle cx="-3.1" cy="-1.0" r="2.27"/><circle cx="0.0" cy="0.0" r="2.52"/></g></g>
<g transform="translate(1258.2 1296.7) scale(0.97 1)"><g fill="#1b1b1b"><circle cx="0.0" cy="-3.3" r="2.27"/><circle cx="3.1" cy="-1.0" r="2.27"/><circle cx="1.9" cy="2.7" r="2.27"/><circle cx="-1.9" cy="2.7" r="2.27"/><circle cx="-3.1" cy="-1.0" r="2.27"/><circle cx="0.0" cy="0.0" r="2.52"/></g></g>
<g transform="translate(1258.2 1313.3) scale(0.97 1)"><g fill="#1b1b1b"><circle cx="0.0" cy="-3.3" r="2.27"/><circle cx="3.1" cy="-1.0" r="2.27"/><circle cx="1.9" cy="2.7" r="2.27"/><circle cx="-1.9" cy="2.7" r="2.27"/><circle cx="-3.1" cy="-1.0" r="2.27"/><circle cx="0.0" cy="0.0" r="2.52"/></g></g>
<g transform="translate(1273.5 1222.0) scale(1.00 1)"><g fill="#1b1b1b"><circle cx="0.0" cy="-3.3" r="2.27"/><circle cx="3.1" cy="-1.0" r="2.27"/><circle cx="1.9" cy="2.7" r="2.27"/><circle cx="-1.9" cy="2.7" r="2.27"/><circle cx="-3.1" cy="-1.0" r="2.27"/><circle cx="0.0" cy="0.0" r="2.52"/></g></g>
<g transform="translate(1273.5 1238.6) scale(1.00 1)"><g fill="#1b1b1b"><circle cx="0.0" cy="-3.3" r="2.27"/><circle cx="3.1" cy="-1.0" r="2.27"/><circle cx="1.9" cy="2.7" r="2.27"/><circle cx="-1.9" cy="2.7" r="2.27"/><circle cx="-3.1" cy="-1.0" r="2.27"/><circle cx="0.0" cy="0.0" r="2.52"/></g></g>
<g transform="translate(1273.5 1255.2) scale(1.00 1)"><g fill="#1b1b1b"><circle cx="0.0" cy="-3.3" r="2.27"/><circle cx="3.1" cy="-1.0" r="2.27"/><circle cx="1.9" cy="2.7" r="2.27"/><circle cx="-1.9" cy="2.7" r="2.27"/><circle cx="-3.1" cy="-1.0" r="2.27"/><circle cx="0.0" cy="0.0" r="2.52"/></g></g>
<g transform="translate(1273.5 1271.8) scale(1.00 1)"><g fill="#1b1b1b"><circle cx="0.0" cy="-3.3" r="2.27"/><circle cx="3.1" cy="-1.0" r="2.27"/><circle cx="1.9" cy="2.7" r="2.27"/><circle cx="-1.9" cy="2.7" r="2.27"/><circle cx="-3.1" cy="-1.0" r="2.27"/><circle cx="0.0" cy="0.0" r="2.52"/></g></g>
<g transform="translate(1273.5 1288.4) scale(1.00 1)"><g fill="#1b1b1b"><circle cx="0.0" cy="-3.3" r="2.27"/><circle cx="3.1" cy="-1.0" r="2.27"/><circle cx="1.9" cy="2.7" r="2.27"/><circle cx="-1.9" cy="2.7" r="2.27"/><circle cx="-3.1" cy="-1.0" r="2.27"/><circle cx="0.0" cy="0.0" r="2.52"/></g></g>
<g transform="translate(1273.5 1305.0) scale(1.00 1)"><g fill="#1b1b1b"><circle cx="0.0" cy="-3.3" r="2.27"/><circle cx="3.1" cy="-1.0" r="2.27"/><circle cx="1.9" cy="2.7" r="2.27"/><circle cx="-1.9" cy="2.7" r="2.27"/><circle cx="-3.1" cy="-1.0" r="2.27"/><circle cx="0.0" cy="0.0" r="2.52"/></g></g>
<g transform="translate(1273.5 1321.6) scale(1.00 1)"><g fill="#1b1b1b"><circle cx="0.0" cy="-3.3" r="2.27"/><circle cx="3.1" cy="-1.0" r="2.27"/><circle cx="1.9" cy="2.7" r="2.27"/><circle cx="-1.9" cy="2.7" r="2.27"/><circle cx="-3.1" cy="-1.0" r="2.27"/><circle cx="0.0" cy="0.0" r="2.52"/></g></g>
<g transform="translate(1288.8 1230.3) scale(0.97 1)"><g fill="#1b1b1b"><circle cx="0.0" cy="-3.3" r="2.27"/><circle cx="3.1" cy="-1.0" r="2.27"/><circle cx="1.9" cy="2.7" r="2.27"/><circle cx="-1.9" cy="2.7" r="2.27"/><circle cx="-3.1" cy="-1.0" r="2.27"/><circle cx="0.0" cy="0.0" r="2.52"/></g></g>
<g transform="translate(1288.8 1246.9) scale(0.97 1)"><g fill="#1b1b1b"><circle cx="0.0" cy="-3.3" r="2.27"/><circle cx="3.1" cy="-1.0" r="2.27"/><circle cx="1.9" cy="2.7" r="2.27"/><circle cx="-1.9" cy="2.7" r="2.27"/><circle cx="-3.1" cy="-1.0" r="2.27"/><circle cx="0.0" cy="0.0" r="2.52"/></g></g>
<g transform="translate(1288.8 1263.5) scale(0.97 1)"><g fill="#1b1b1b"><circle cx="0.0" cy="-3.3" r="2.27"/><circle cx="3.1" cy="-1.0" r="2.27"/><circle cx="1.9" cy="2.7" r="2.27"/><circle cx="-1.9" cy="2.7" r="2.27"/><circle cx="-3.1" cy="-1.0" r="2.27"/><circle cx="0.0" cy="0.0" r="2.52"/></g></g>
<g transform="translate(1288.8 1280.1) scale(0.97 1)"><g fill="#1b1b1b"><circle cx="0.0" cy="-3.3" r="2.27"/><circle cx="3.1" cy="-1.0" r="2.27"/><circle cx="1.9" cy="2.7" r="2.27"/><circle cx="-1.9" cy="2.7" r="2.27"/><circle cx="-3.1" cy="-1.0" r="2.27"/><circle cx="0.0" cy="0.0" r="2.52"/></g></g>
<g transform="translate(1288.8 1296.7) scale(0.97 1)"><g fill="#1b1b1b"><circle cx="0.0" cy="-3.3" r="2.27"/><circle cx="3.1" cy="-1.0" r="2.27"/><circle cx="1.9" cy="2.7" r="2.27"/><circle cx="-1.9" cy="2.7" r="2.27"/><circle cx="-3.1" cy="-1.0" r="2.27"/><circle cx="0.0" cy="0.0" r="2.52"/></g></g>
<g transform="translate(1288.8 1313.3) scale(0.97 1)"><g fill="#1b1b1b"><circle cx="0.0" cy="-3.3" r="2.27"/><circle cx="3.1" cy="-1.0" r="2.27"/><circle cx="1.9" cy="2.7" r="2.27"/><circle cx="-1.9" cy="2.7" r="2.27"/><circle cx="-3.1" cy="-1.0" r="2.27"/><circle cx="0.0" cy="0.0" r="2.52"/></g></g>
<g transform="translate(1303.1 1222.0) scale(0.89 1)"><g fill="#1b1b1b"><circle cx="0.0" cy="-3.3" r="2.27"/><circle cx="3.1" cy="-1.0" r="2.27"/><circle cx="1.9" cy="2.7" r="2.27"/><circle cx="-1.9" cy="2.7" r="2.27"/><circle cx="-3.1" cy="-1.0" r="2.27"/><circle cx="0.0" cy="0.0" r="2.52"/></g></g>
<g transform="translate(1303.1 1238.6) scale(0.89 1)"><g fill="#1b1b1b"><circle cx="0.0" cy="-3.3" r="2.27"/><circle cx="3.1" cy="-1.0" r="2.27"/><circle cx="1.9" cy="2.7" r="2.27"/><circle cx="-1.9" cy="2.7" r="2.27"/><circle cx="-3.1" cy="-1.0" r="2.27"/><circle cx="0.0" cy="0.0" r="2.52"/></g></g>
<g transform="translate(1303.1 1255.2) scale(0.89 1)"><g fill="#1b1b1b"><circle cx="0.0" cy="-3.3" r="2.27"/><circle cx="3.1" cy="-1.0" r="2.27"/><circle cx="1.9" cy="2.7" r="2.27"/><circle cx="-1.9" cy="2.7" r="2.27"/><circle cx="-3.1" cy="-1.0" r="2.27"/><circle cx="0.0" cy="0.0" r="2.52"/></g></g>
<g transform="translate(1303.1 1271.8) scale(0.89 1)"><g fill="#1b1b1b"><circle cx="0.0" cy="-3.3" r="2.27"/><circle cx="3.1" cy="-1.0" r="2.27"/><circle cx="1.9" cy="2.7" r="2.27"/><circle cx="-1.9" cy="2.7" r="2.27"/><circle cx="-3.1" cy="-1.0" r="2.27"/><circle cx="0.0" cy="0.0" r="2.52"/></g></g>
<g transform="translate(1303.1 1288.4) scale(0.89 1)"><g fill="#1b1b1b"><circle cx="0.0" cy="-3.3" r="2.27"/><circle cx="3.1" cy="-1.0" r="2.27"/><circle cx="1.9" cy="2.7" r="2.27"/><circle cx="-1.9" cy="2.7" r="2.27"/><circle cx="-3.1" cy="-1.0" r="2.27"/><circle cx="0.0" cy="0.0" r="2.52"/></g></g>
<g transform="translate(1303.1 1305.0) scale(0.89 1)"><g fill="#1b1b1b"><circle cx="0.0" cy="-3.3" r="2.27"/><circle cx="3.1" cy="-1.0" r="2.27"/><circle cx="1.9" cy="2.7" r="2.27"/><circle cx="-1.9" cy="2.7" r="2.27"/><circle cx="-3.1" cy="-1.0" r="2.27"/><circle cx="0.0" cy="0.0" r="2.52"/></g></g>
<g transform="translate(1303.1 1321.6) scale(0.89 1)"><g fill="#1b1b1b"><circle cx="0.0" cy="-3.3" r="2.27"/><circle cx="3.1" cy="-1.0" r="2.27"/><circle cx="1.9" cy="2.7" r="2.27"/><circle cx="-1.9" cy="2.7" r="2.27"/><circle cx="-3.1" cy="-1.0" r="2.27"/><circle cx="0.0" cy="0.0" r="2.52"/></g></g>
<g transform="translate(1315.8 1230.3) scale(0.75 1)"><g fill="#1b1b1b"><circle cx="0.0" cy="-3.3" r="2.27"/><circle cx="3.1" cy="-1.0" r="2.27"/><circle cx="1.9" cy="2.7" r="2.27"/><circle cx="-1.9" cy="2.7" r="2.27"/><circle cx="-3.1" cy="-1.0" r="2.27"/><circle cx="0.0" cy="0.0" r="2.52"/></g></g>
<g transform="translate(1315.8 1246.9) scale(0.75 1)"><g fill="#1b1b1b"><circle cx="0.0" cy="-3.3" r="2.27"/><circle cx="3.1" cy="-1.0" r="2.27"/><circle cx="1.9" cy="2.7" r="2.27"/><circle cx="-1.9" cy="2.7" r="2.27"/><circle cx="-3.1" cy="-1.0" r="2.27"/><circle cx="0.0" cy="0.0" r="2.52"/></g></g>
<g transform="translate(1315.8 1263.5) scale(0.75 1)"><g fill="#1b1b1b"><circle cx="0.0" cy="-3.3" r="2.27"/><circle cx="3.1" cy="-1.0" r="2.27"/><circle cx="1.9" cy="2.7" r="2.27"/><circle cx="-1.9" cy="2.7" r="2.27"/><circle cx="-3.1" cy="-1.0" r="2.27"/><circle cx="0.0" cy="0.0" r="2.52"/></g></g>
<g transform="translate(1315.8 1280.1) scale(0.75 1)"><g fill="#1b1b1b"><circle cx="0.0" cy="-3.3" r="2.27"/><circle cx="3.1" cy="-1.0" r="2.27"/><circle cx="1.9" cy="2.7" r="2.27"/><circle cx="-1.9" cy="2.7" r="2.27"/><circle cx="-3.1" cy="-1.0" r="2.27"/><circle cx="0.0" cy="0.0" r="2.52"/></g></g>
<g transform="translate(1315.8 1296.7) scale(0.75 1)"><g fill="#1b1b1b"><circle cx="0.0" cy="-3.3" r="2.27"/><circle cx="3.1" cy="-1.0" r="2.27"/><circle cx="1.9" cy="2.7" r="2.27"/><circle cx="-1.9" cy="2.7" r="2.27"/><circle cx="-3.1" cy="-1.0" r="2.27"/><circle cx="0.0" cy="0.0" r="2.52"/></g></g>
<g transform="translate(1315.8 1313.3) scale(0.75 1)"><g fill="#1b1b1b"><circle cx="0.0" cy="-3.3" r="2.27"/><circle cx="3.1" cy="-1.0" r="2.27"/><circle cx="1.9" cy="2.7" r="2.27"/><circle cx="-1.9" cy="2.7" r="2.27"/><circle cx="-3.1" cy="-1.0" r="2.27"/><circle cx="0.0" cy="0.0" r="2.52"/></g></g>
<g transform="translate(1326.0 1222.0) scale(0.57 1)"><g fill="#1b1b1b"><circle cx="0.0" cy="-3.3" r="2.27"/><circle cx="3.1" cy="-1.0" r="2.27"/><circle cx="1.9" cy="2.7" r="2.27"/><circle cx="-1.9" cy="2.7" r="2.27"/><circle cx="-3.1" cy="-1.0" r="2.27"/><circle cx="0.0" cy="0.0" r="2.52"/></g></g>
<g transform="translate(1326.0 1238.6) scale(0.57 1)"><g fill="#1b1b1b"><circle cx="0.0" cy="-3.3" r="2.27"/><circle cx="3.1" cy="-1.0" r="2.27"/><circle cx="1.9" cy="2.7" r="2.27"/><circle cx="-1.9" cy="2.7" r="2.27"/><circle cx="-3.1" cy="-1.0" r="2.27"/><circle cx="0.0" cy="0.0" r="2.52"/></g></g>
<g transform="translate(1326.0 1255.2) scale(0.57 1)"><g fill="#1b1b1b"><circle cx="0.0" cy="-3.3" r="2.27"/><circle cx="3.1" cy="-1.0" r="2.27"/><circle cx="1.9" cy="2.7" r="2.27"/><circle cx="-1.9" cy="2.7" r="2.27"/><circle cx="-3.1" cy="-1.0" r="2.27"/><circle cx="0.0" cy="0.0" r="2.52"/></g></g>
<g transform="translate(1326.0 1271.8) scale(0.57 1)"><g fill="#1b1b1b"><circle cx="0.0" cy="-3.3" r="2.27"/><circle cx="3.1" cy="-1.0" r="2.27"/><circle cx="1.9" cy="2.7" r="2.27"/><circle cx="-1.9" cy="2.7" r="2.27"/><circle cx="-3.1" cy="-1.0" r="2.27"/><circle cx="0.0" cy="0.0" r="2.52"/></g></g>
<g transform="translate(1326.0 1288.4) scale(0.57 1)"><g fill="#1b1b1b"><circle cx="0.0" cy="-3.3" r="2.27"/><circle cx="3.1" cy="-1.0" r="2.27"/><circle cx="1.9" cy="2.7" r="2.27"/><circle cx="-1.9" cy="2.7" r="2.27"/><circle cx="-3.1" cy="-1.0" r="2.27"/><circle cx="0.0" cy="0.0" r="2.52"/></g></g>
<g transform="translate(1326.0 1305.0) scale(0.57 1)"><g fill="#1b1b1b"><circle cx="0.0" cy="-3.3" r="2.27"/><circle cx="3.1" cy="-1.0" r="2.27"/><circle cx="1.9" cy="2.7" r="2.27"/><circle cx="-1.9" cy="2.7" r="2.27"/><circle cx="-3.1" cy="-1.0" r="2.27"/><circle cx="0.0" cy="0.0" r="2.52"/></g></g>
<g transform="translate(1326.0 1321.6) scale(0.57 1)"><g fill="#1b1b1b"><circle cx="0.0" cy="-3.3" r="2.27"/><circle cx="3.1" cy="-1.0" r="2.27"/><circle cx="1.9" cy="2.7" r="2.27"/><circle cx="-1.9" cy="2.7" r="2.27"/><circle cx="-3.1" cy="-1.0" r="2.27"/><circle cx="0.0" cy="0.0" r="2.52"/></g></g>
<g transform="translate(1333.2 1230.3) scale(0.36 1)"><g fill="#1b1b1b"><circle cx="0.0" cy="-3.3" r="2.27"/><circle cx="3.1" cy="-1.0" r="2.27"/><circle cx="1.9" cy="2.7" r="2.27"/><circle cx="-1.9" cy="2.7" r="2.27"/><circle cx="-3.1" cy="-1.0" r="2.27"/><circle cx="0.0" cy="0.0" r="2.52"/></g></g>
<g transform="translate(1333.2 1246.9) scale(0.36 1)"><g fill="#1b1b1b"><circle cx="0.0" cy="-3.3" r="2.27"/><circle cx="3.1" cy="-1.0" r="2.27"/><circle cx="1.9" cy="2.7" r="2.27"/><circle cx="-1.9" cy="2.7" r="2.27"/><circle cx="-3.1" cy="-1.0" r="2.27"/><circle cx="0.0" cy="0.0" r="2.52"/></g></g>
<g transform="translate(1333.2 1263.5) scale(0.36 1)"><g fill="#1b1b1b"><circle cx="0.0" cy="-3.3" r="2.27"/><circle cx="3.1" cy="-1.0" r="2.27"/><circle cx="1.9" cy="2.7" r="2.27"/><circle cx="-1.9" cy="2.7" r="2.27"/><circle cx="-3.1" cy="-1.0" r="2.27"/><circle cx="0.0" cy="0.0" r="2.52"/></g></g>
<g transform="translate(1333.2 1280.1) scale(0.36 1)"><g fill="#1b1b1b"><circle cx="0.0" cy="-3.3" r="2.27"/><circle cx="3.1" cy="-1.0" r="2.27"/><circle cx="1.9" cy="2.7" r="2.27"/><circle cx="-1.9" cy="2.7" r="2.27"/><circle cx="-3.1" cy="-1.0" r="2.27"/><circle cx="0.0" cy="0.0" r="2.52"/></g></g>
<g transform="translate(1333.2 1296.7) scale(0.36 1)"><g fill="#1b1b1b"><circle cx="0.0" cy="-3.3" r="2.27"/><circle cx="3.1" cy="-1.0" r="2.27"/><circle cx="1.9" cy="2.7" r="2.27"/><circle cx="-1.9" cy="2.7" r="2.27"/><circle cx="-3.1" cy="-1.0" r="2.27"/><circle cx="0.0" cy="0.0" r="2.52"/></g></g>
<g transform="translate(1333.2 1313.3) scale(0.36 1)"><g fill="#1b1b1b"><circle cx="0.0" cy="-3.3" r="2.27"/><circle cx="3.1" cy="-1.0" r="2.27"/><circle cx="1.9" cy="2.7" r="2.27"/><circle cx="-1.9" cy="2.7" r="2.27"/><circle cx="-3.1" cy="-1.0" r="2.27"/><circle cx="0.0" cy="0.0" r="2.52"/></g></g>
</g>
<rect x="1209.8" y="1318.0" width="127.4" height="28.0" fill="url(#dLip)"/>
<path d="M1209.8 1219 Q1223.8 1240.5 1273.5 1241 Q1323.2 1240.5 1337.2 1219" fill="none" stroke="#4e4e4e" stroke-width="1.2" opacity=".8"/>
</g>
<rect x="1250.7" y="926.7" width="46.6" height="238" rx="23.3" fill="#b0b0b0" fill-opacity=".3" stroke="#7e7e7e" stroke-width="1"/>
<rect x="1251.7" y="927.7" width="46.6" height="238" rx="23.3" fill="none" stroke="#d0d0d0" stroke-width=".8" opacity=".6"/>
<circle cx="1274" cy="964" r="16.4" fill="#ececec" stroke="#9a9a9a" stroke-width=".8"/>
<circle cx="1274" cy="964" r="12.4" fill="#f6d0b2" stroke="#c79272" stroke-width="1.2"/>
<ellipse cx="1274" cy="1017.3" rx="10.6" ry="12.6" fill="#f6d0b2" stroke="#c28c6a" stroke-width="1.3"/>
<ellipse cx="1274" cy="1070.7" rx="10.6" ry="12.6" fill="#f6d0b2" stroke="#c28c6a" stroke-width="1.3"/>
<ellipse cx="1274" cy="1117.5" rx="10.4" ry="11" fill="#eec4a4" stroke="#c28c6a" stroke-width="1.1"/>
<ellipse cx="1274" cy="1127.5" rx="10.8" ry="13" fill="#f7d2b4" stroke="#c28c6a" stroke-width="1.3"/>
<path d="M1247.4 143.5 L1300.7 143.5 L1320.3 150.5 L1226.7 150.5 Z" fill="url(#cuF)"/>
<path d="M1248.4 143.5 L1264.2 143.5 L1254.8 150.5 L1237.9 150.5 Z" fill="#c18865" opacity=".35"/>
<rect x="1226.7" y="150.2" width="93.6" height="4.4" fill="url(#cuE)"/>
<line x1="1226.7" y1="150.5" x2="1320.3" y2="150.5" stroke="#fbe4d4" stroke-width="0.9" opacity=".75"/>
<line x1="1227.7" y1="154.1" x2="1319.3" y2="154.1" stroke="#a56c4c" stroke-width="1" opacity=".55"/>
<path d="M1251.0 106.7 L1251.0 99.4 Q1251.0 89.5 1260.9 89.5 L1287.2 89.5 Q1297.1 89.5 1297.1 99.4 L1297.1 106.7 Z" fill="url(#cuD)"/>
<rect x="1249.4" y="105.7" width="49.3" height="34.8" fill="url(#cuK)"/>
<line x1="1251.6" y1="106.7" x2="1251.6" y2="138.5" stroke="#fff" stroke-width="0.5" opacity=".16"/>
<line x1="1253.9" y1="106.7" x2="1253.9" y2="138.5" stroke="#fff" stroke-width="0.5" opacity=".16"/>
<line x1="1256.1" y1="106.7" x2="1256.1" y2="138.5" stroke="#fff" stroke-width="0.5" opacity=".16"/>
<line x1="1258.4" y1="106.7" x2="1258.4" y2="138.5" stroke="#fff" stroke-width="0.5" opacity=".16"/>
<line x1="1260.6" y1="106.7" x2="1260.6" y2="138.5" stroke="#fff" stroke-width="0.5" opacity=".16"/>
<line x1="1262.8" y1="106.7" x2="1262.8" y2="138.5" stroke="#fff" stroke-width="0.5" opacity=".16"/>
<line x1="1265.1" y1="106.7" x2="1265.1" y2="138.5" stroke="#fff" stroke-width="0.5" opacity=".16"/>
<line x1="1267.3" y1="106.7" x2="1267.3" y2="138.5" stroke="#fff" stroke-width="0.5" opacity=".16"/>
<line x1="1269.6" y1="106.7" x2="1269.6" y2="138.5" stroke="#fff" stroke-width="0.5" opacity=".16"/>
<line x1="1271.8" y1="106.7" x2="1271.8" y2="138.5" stroke="#fff" stroke-width="0.5" opacity=".16"/>
<line x1="1274.1" y1="106.7" x2="1274.1" y2="138.5" stroke="#fff" stroke-width="0.5" opacity=".16"/>
<line x1="1276.3" y1="106.7" x2="1276.3" y2="138.5" stroke="#fff" stroke-width="0.5" opacity=".16"/>
<line x1="1278.5" y1="106.7" x2="1278.5" y2="138.5" stroke="#fff" stroke-width="0.5" opacity=".16"/>
<line x1="1280.8" y1="106.7" x2="1280.8" y2="138.5" stroke="#fff" stroke-width="0.5" opacity=".16"/>
<line x1="1283.0" y1="106.7" x2="1283.0" y2="138.5" stroke="#fff" stroke-width="0.5" opacity=".16"/>
<line x1="1285.3" y1="106.7" x2="1285.3" y2="138.5" stroke="#fff" stroke-width="0.5" opacity=".16"/>
<line x1="1287.5" y1="106.7" x2="1287.5" y2="138.5" stroke="#fff" stroke-width="0.5" opacity=".16"/>
<line x1="1289.7" y1="106.7" x2="1289.7" y2="138.5" stroke="#fff" stroke-width="0.5" opacity=".16"/>
<line x1="1292.0" y1="106.7" x2="1292.0" y2="138.5" stroke="#fff" stroke-width="0.5" opacity=".16"/>
<line x1="1294.2" y1="106.7" x2="1294.2" y2="138.5" stroke="#fff" stroke-width="0.5" opacity=".16"/>
<line x1="1296.5" y1="106.7" x2="1296.5" y2="138.5" stroke="#fff" stroke-width="0.5" opacity=".16"/>
<line x1="1249.4" y1="106.1" x2="1298.7" y2="106.1" stroke="#f6d6c0" stroke-width="0.9" opacity=".7"/>
<path d="M1280.5 139.5 L1280.5 102.5 Q1280.5 93.5 1284.9 93.5 Q1289.3 93.5 1289.3 102.5 L1289.3 139.5 Z" fill="#d39d7b" opacity=".75"/>
<path d="M1266.7 140.5 L1266.7 101.7 Q1266.7 92.1 1273.3 92.1 Q1280.0 92.1 1280.0 101.7 L1280.0 140.5 Z" fill="url(#cuR)"/>
<line x1="1280.2" y1="94.5" x2="1280.2" y2="140.5" stroke="#b07654" stroke-width="1" opacity=".75"/>
<line x1="1266.4" y1="102.5" x2="1266.4" y2="140.5" stroke="#c48c69" stroke-width="0.9" opacity=".6"/>
<line x1="1289.6" y1="95.5" x2="1289.6" y2="140.5" stroke="#b98360" stroke-width="0.9" opacity=".55"/>
<rect x="1249.9" y="137.5" width="48.3" height="2.2" fill="#f6d8c2" opacity=".85"/>
<rect x="1250.4" y="139.7" width="47.3" height="3.8" fill="#a4694a" opacity=".85"/>
</g>
<text class="wm" x="1176" y="1320" text-anchor="middle" font-size="168" fill="#909090" fill-opacity=".075" textLength="390" lengthAdjust="spacingAndGlyphs">Ukliss</text>
<g id="dims">
<g class="dim">
<rect x="721.0" y="149.6" width="2.0" height="396.4" fill="#000"/>
<rect x="705.5" y="148.6" width="33.0" height="2.0" fill="#000"/>
<rect x="705.5" y="545.0" width="33.0" height="2.0" fill="#000"/>
<text class="lbl" transform="translate(739.0 347.9) rotate(90)" text-anchor="middle" textLength="232.0" lengthAdjust="spacingAndGlyphs" font-size="25.5">17.5cm/ 6.88inch</text>
</g>
<g class="dim">
<rect x="227.5" y="632.5" width="2.0" height="335.0" fill="#000"/>
<rect x="212.0" y="631.5" width="33.0" height="2.0" fill="#000"/>
<rect x="212.0" y="966.5" width="33.0" height="2.0" fill="#000"/>
<text class="lbl" transform="translate(247.0 799.2) rotate(90)" text-anchor="middle" textLength="231.0" lengthAdjust="spacingAndGlyphs" font-size="25.5">13.8cm/ 5.43inch</text>
</g>
<g class="dim">
<rect x="525.4" y="612.4" width="2.0" height="355.2" fill="#000"/>
<rect x="509.9" y="611.4" width="33.0" height="2.0" fill="#000"/>
<rect x="509.9" y="966.6" width="33.0" height="2.0" fill="#000"/>
<text class="lbl" transform="translate(543.0 790.0) rotate(90)" text-anchor="middle" textLength="189.6" lengthAdjust="spacingAndGlyphs" font-size="25.5">15cm/ 5.9inch</text>
</g>
<g class="dim">
<rect x="706.5" y="612.4" width="2.0" height="355.2" fill="#000"/>
<rect x="691.0" y="611.4" width="33.0" height="2.0" fill="#000"/>
<rect x="691.0" y="966.6" width="33.0" height="2.0" fill="#000"/>
<text class="lbl" transform="translate(723.6 790.3) rotate(90)" text-anchor="middle" textLength="247.0" lengthAdjust="spacingAndGlyphs" font-size="25.5">12.88cm/ 5.07inch</text>
</g>
<g class="dim">
<rect x="218.3" y="1179.5" width="2.0" height="195.8" fill="#000"/>
<rect x="202.8" y="1178.5" width="33.0" height="2.0" fill="#000"/>
<rect x="202.8" y="1374.3" width="33.0" height="2.0" fill="#000"/>
<text class="lbl" transform="translate(245.2 1278.0) rotate(90)" text-anchor="middle" textLength="232.0" lengthAdjust="spacingAndGlyphs" font-size="25.5">7.94cm/ 3.12inch</text>
</g>
<g class="dim">
<rect x="475.0" y="1080.5" width="2.0" height="294.7" fill="#000"/>
<rect x="459.5" y="1079.5" width="33.0" height="2.0" fill="#000"/>
<rect x="459.5" y="1374.2" width="33.0" height="2.0" fill="#000"/>
<text class="lbl" transform="translate(494.2 1227.6) rotate(90)" text-anchor="middle" textLength="247.4" lengthAdjust="spacingAndGlyphs" font-size="25.5">12.28cm/ 4.83inch</text>
</g>
<g class="dim">
<rect x="771.8" y="1020.0" width="2.0" height="355.2" fill="#000"/>
<rect x="756.3" y="1019.0" width="33.0" height="2.0" fill="#000"/>
<rect x="756.3" y="1374.2" width="33.0" height="2.0" fill="#000"/>
<text class="lbl" transform="translate(799.0 1198.0) rotate(90)" text-anchor="middle" textLength="189.4" lengthAdjust="spacingAndGlyphs" font-size="25.5">15cm/ 5.9inch</text>
</g>
<g class="dim">
<rect x="1087.0" y="706.7" width="2.0" height="637.3" fill="#000"/>
<rect x="1071.5" y="705.7" width="33.0" height="2.0" fill="#000"/>
<rect x="1071.5" y="1343.0" width="33.0" height="2.0" fill="#000"/>
<text class="lbl" transform="translate(1116.9 1037.3) rotate(90)" text-anchor="middle" textLength="233.3" lengthAdjust="spacingAndGlyphs" font-size="25.5">22.5cm/ 8.85inch</text>
</g>
<g class="dim">
<rect x="1190.5" y="541.3" width="2.0" height="802.7" fill="#000"/>
<rect x="1175.0" y="540.3" width="33.0" height="2.0" fill="#000"/>
<rect x="1175.0" y="1343.0" width="33.0" height="2.0" fill="#000"/>
<text class="lbl" transform="translate(1159.7 939.0) rotate(90)" text-anchor="middle" textLength="202.0" lengthAdjust="spacingAndGlyphs" font-size="25.5">29cm/11.4inch</text>
</g>
<g class="dim">
<rect x="1355.0" y="89.0" width="2.0" height="1255.0" fill="#000"/>
<rect x="1339.5" y="88.0" width="33.0" height="2.0" fill="#000"/>
<rect x="1339.5" y="1343.0" width="33.0" height="2.0" fill="#000"/>
<text class="lbl" transform="translate(1387.0 713.0) rotate(90)" text-anchor="middle" textLength="200.8" lengthAdjust="spacingAndGlyphs" font-size="25.5">45cm/17.7inch</text>
</g>
</g>
</svg>
</body></html>
